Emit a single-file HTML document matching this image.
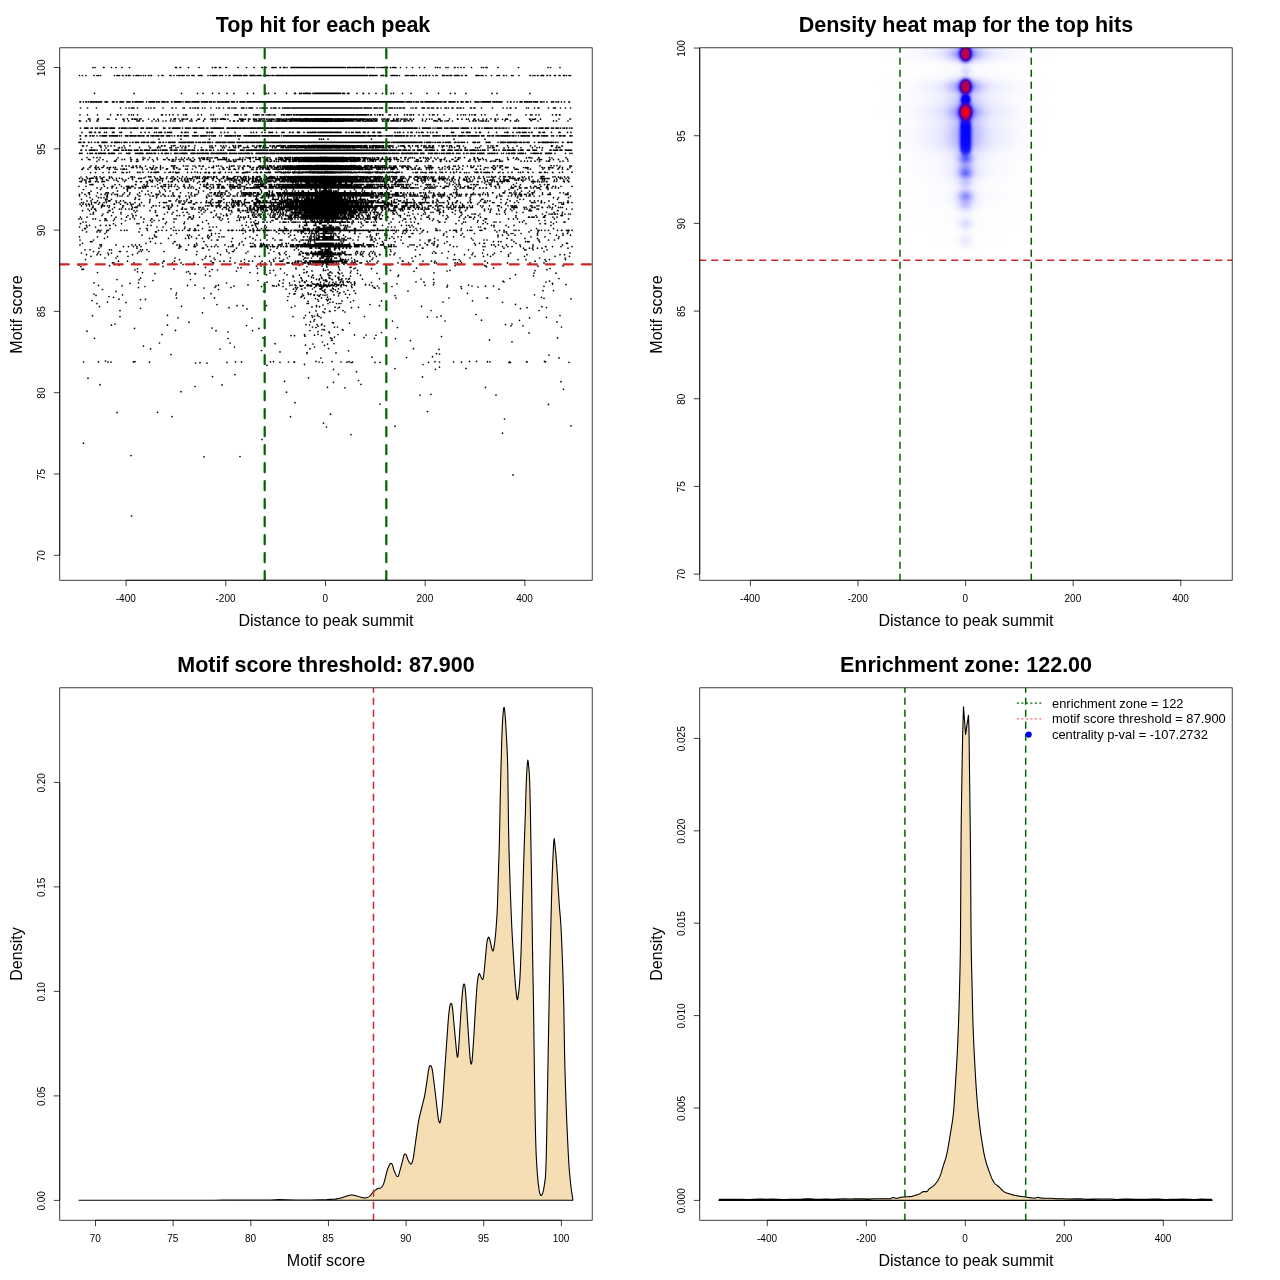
<!DOCTYPE html>
<html><head><meta charset="utf-8"><title>Motif enrichment plots</title>
<style>
html,body{margin:0;padding:0;background:#fff;}
body{width:1280px;height:1280px;overflow:hidden;font-family:"Liberation Sans",sans-serif;}
svg{display:block;will-change:transform;}
svg text{fill:#000;}
</style></head>
<body>
<svg width="1280" height="1280" viewBox="0 0 1280 1280">
<rect width="1280" height="1280" fill="#fff"/>
<defs><clipPath id="cp1"><rect x="59.76" y="47.81" width="532.43" height="532.43"/></clipPath><clipPath id="cp2"><rect x="699.76" y="47.81" width="532.43" height="532.43"/></clipPath><clipPath id="cp3"><rect x="59.76" y="687.81" width="532.43" height="532.43"/></clipPath><clipPath id="cp4"><rect x="699.76" y="687.81" width="532.43" height="532.43"/></clipPath></defs>
<path d="M93 67.5h0M95 67.5h0M103.5 67.5h0.5M111.5 67.5h0M116 67.5h0M122 67.5h0M129.5 67.5h0M175.5 67.5h1M180 67.5h0.5M188.5 67.5h0M199 67.5h0M212.5 67.5h0M215 67.5h1M219.5 67.5h1M226 67.5h0.5M238 67.5h0M246.5 67.5h0M254 67.5h0M262 67.5h0.5M265 67.5h1M272 67.5h1M274.5 67.5h0M276 67.5h0M280 67.5h0.5M283.5 67.5h1.5M287 67.5h0M291 67.5h18.5M311 67.5h32.5M345 67.5h0.5M347.5 67.5h3M352 67.5h1M354.5 67.5h3.5M359.5 67.5h5M367 67.5h2.5M371 67.5h0.5M373 67.5h0M374.5 67.5h0M377 67.5h0M379 67.5h0M381 67.5h0M382.5 67.5h0M384 67.5h1M387.5 67.5h0M390.5 67.5h0M392.5 67.5h2M396 67.5h0M400.5 67.5h0M406.5 67.5h0M412.5 67.5h0M419.5 67.5h0M424.5 67.5h0M435.5 67.5h0M437.5 67.5h0M440 67.5h0M446 67.5h0M448 67.5h0M454.5 67.5h0.5M458 67.5h0M461 67.5h0M464 67.5h0M471.5 67.5h0M481.5 67.5h0M483.5 67.5h0M486 67.5h1M498 67.5h0M518.5 67.5h0M548 67.5h0M550.5 67.5h0M560 67.5h0M79.5 75.5h0M82.5 75.5h0M86 75.5h0M94 75.5h0M97 75.5h0M98.5 75.5h0M100.5 75.5h0M114.5 75.5h0M117 75.5h1M119.5 75.5h0M122.5 75.5h0.5M126 75.5h0.5M128.5 75.5h1.5M133.5 75.5h0M136 75.5h1M138.5 75.5h0.5M141 75.5h0M143.5 75.5h0M145.5 75.5h0M148.5 75.5h0.5M151 75.5h0.5M158.5 75.5h0M162 75.5h1M170 75.5h1M174 75.5h0M177 75.5h0M179 75.5h1M182 75.5h0.5M184 75.5h0M187 75.5h0M189 75.5h0M192 75.5h2M198.5 75.5h0M200 75.5h2M208 75.5h0M210.5 75.5h0M212.5 75.5h0.5M214.5 75.5h0.5M216.5 75.5h0.5M219.5 75.5h0M221 75.5h0M222.5 75.5h0M226 75.5h0M229 75.5h1M233.5 75.5h4M239 75.5h2.5M243.5 75.5h3.5M250 75.5h5M257 75.5h0M258.5 75.5h2.5M263.5 75.5h5M270 75.5h0M272 75.5h0.5M274 75.5h0M276 75.5h8.5M286 75.5h6M293.5 75.5h74M369.5 75.5h4M375 75.5h2M381 75.5h2.5M385.5 75.5h1M391 75.5h3.5M396 75.5h0M397.5 75.5h0M399.5 75.5h0M405.5 75.5h1.5M408.5 75.5h0M410.5 75.5h0M412 75.5h0M413.5 75.5h1M416.5 75.5h0M420 75.5h0.5M423 75.5h0.5M425.5 75.5h1M429 75.5h0.5M433 75.5h0M436 75.5h1M442.5 75.5h2M446.5 75.5h0M448 75.5h0M450 75.5h1.5M454.5 75.5h0M456 75.5h3M461.5 75.5h0.5M465.5 75.5h1M476 75.5h3M481 75.5h0M482.5 75.5h0.5M486 75.5h0M491.5 75.5h0M497 75.5h0M498.5 75.5h1M503.5 75.5h0.5M506.5 75.5h0M511.5 75.5h0M513 75.5h0M519 75.5h0M530 75.5h0.5M533 75.5h0M535 75.5h0M537.5 75.5h0.5M541 75.5h2.5M547 75.5h0.5M550 75.5h0.5M554.5 75.5h1M559 75.5h1M563.5 75.5h1M566.5 75.5h0M569 75.5h0M570.5 75.5h0M94.5 93.4h0M134 93.4h0M181.5 93.4h0M197.5 93.4h0M203 93.4h0M212.5 93.4h0M219 93.4h0M227 93.4h0M234 93.4h0M247.5 93.4h0M253.5 93.4h0M266 93.4h0M268.5 93.4h0M275 93.4h0M286.5 93.4h0M294.5 93.4h1M299.5 93.4h0M301 93.4h0.5M303.5 93.4h0M305 93.4h3.5M310 93.4h0.5M313 93.4h1M315.5 93.4h25M342.5 93.4h2M347.5 93.4h1.5M357 93.4h0M363 93.4h0.5M369 93.4h0M376 93.4h0M382.5 93.4h0M391 93.4h0M393.5 93.4h0M402.5 93.4h0M411 93.4h0M427 93.4h0M438.5 93.4h0M450.5 93.4h0M455 93.4h0M466 93.4h0M492 93.4h0M497 93.4h0M530 93.4h0M80 101.9h0.5M83.5 101.9h0M86 101.9h0.5M88.5 101.9h0M90.5 101.9h2.5M94.5 101.9h0M96 101.9h1M98.5 101.9h0M100 101.9h1.5M105 101.9h0M106.5 101.9h1M112.5 101.9h1.5M116.5 101.9h0.5M120 101.9h2M123.5 101.9h0M127 101.9h1.5M130 101.9h0M132.5 101.9h0.5M135 101.9h3M139.5 101.9h2M143 101.9h0M146.5 101.9h0M149 101.9h5.5M156.5 101.9h0M158 101.9h1.5M162 101.9h3M167 101.9h1M171.5 101.9h0.5M174.5 101.9h6.5M183 101.9h0M185.5 101.9h3M190 101.9h0M192 101.9h0.5M194 101.9h5M201.5 101.9h0.5M203.5 101.9h4M209.5 101.9h2M213.5 101.9h0M215 101.9h0M217.5 101.9h0M219 101.9h0.5M221 101.9h0M222.5 101.9h1M225 101.9h4M231.5 101.9h3M237 101.9h0.5M240 101.9h5M247 101.9h157M406 101.9h0M407.5 101.9h4M413.5 101.9h0.5M416 101.9h1M418.5 101.9h0M421 101.9h2M425 101.9h11M437.5 101.9h0M439 101.9h0M440.5 101.9h0M442 101.9h0M444 101.9h2M449 101.9h2M452.5 101.9h1M455 101.9h0M457.5 101.9h0.5M461 101.9h2M466 101.9h2M470.5 101.9h0M475 101.9h1M477.5 101.9h0M479 101.9h0M481 101.9h0M482.5 101.9h8M493 101.9h2M496.5 101.9h1M499 101.9h1.5M502 101.9h0M507.5 101.9h0M510.5 101.9h0.5M514 101.9h0M517 101.9h0M520 101.9h2M524.5 101.9h3.5M529.5 101.9h2M533.5 101.9h0M535 101.9h2.5M540.5 101.9h0M542 101.9h0M544 101.9h0M547 101.9h0M551.5 101.9h0M553 101.9h0.5M556 101.9h0M558 101.9h0.5M561.5 101.9h0M564.5 101.9h0M569 101.9h0.5M80.5 108h0M87.5 108h0M96.5 108h0M120.5 108h0M126 108h0M129 108h0M131.5 108h1M134 108h0M137.5 108h0M146 108h0M148.5 108h0M151 108h0M154 108h0.5M163 108h0M172 108h0.5M176 108h0M183 108h0M184.5 108h0M190 108h0.5M193 108h0M195 108h0.5M197.5 108h1M202.5 108h0M205 108h0M211 108h0M216.5 108h0M219 108h0.5M223.5 108h0M228 108h0M229.5 108h0M232 108h0M234 108h0M235.5 108h0.5M241.5 108h2.5M246.5 108h0M249 108h3.5M257 108h0M260 108h0M262 108h2.5M266.5 108h0.5M271 108h0.5M273.5 108h2.5M279 108h0.5M282.5 108h0M284 108h5.5M291 108h0M292.5 108h59.5M353.5 108h1M356 108h2.5M360 108h2M364 108h4.5M370 108h1.5M374 108h3.5M379.5 108h0M381 108h1.5M389 108h3.5M394.5 108h0.5M397 108h0.5M399.5 108h1.5M403 108h1.5M411 108h0M413 108h0M415.5 108h1M422 108h2.5M427.5 108h0M429 108h0M431.5 108h0M433 108h0.5M437 108h1M441 108h0M445 108h0M446.5 108h0M448.5 108h0M452 108h1M457 108h1M460 108h1M463.5 108h0M470.5 108h1M474 108h1M481.5 108h0M492.5 108h0M503 108h0M507 108h0M510 108h1M515.5 108h0.5M526.5 108h0M528.5 108h0M534.5 108h0M538 108h1M548.5 108h0M553.5 108h2M560.5 108h0M565.5 108h0M570.5 108h0M80 114.8h0M87.5 114.8h0M97.5 114.8h0M110.5 114.8h0M117.5 114.8h0.5M121 114.8h0M129 114.8h0M131.5 114.8h0M133.5 114.8h0M137.5 114.8h0M161.5 114.8h1M166 114.8h0M169.5 114.8h0M173 114.8h0M178 114.8h0M183.5 114.8h0M185.5 114.8h1M198 114.8h0M201.5 114.8h0M211 114.8h0M213.5 114.8h0M225.5 114.8h0M228 114.8h0M234.5 114.8h3.5M241 114.8h0M245 114.8h0M246.5 114.8h0M253.5 114.8h0M255.5 114.8h2M259 114.8h0M262 114.8h0M263.5 114.8h0M266 114.8h0M268 114.8h2M272 114.8h0M274 114.8h1M281.5 114.8h0.5M283.5 114.8h1M286.5 114.8h3.5M291.5 114.8h0M293.5 114.8h1M296 114.8h2M299.5 114.8h55M356 114.8h11M368.5 114.8h0M370.5 114.8h1M375 114.8h0M377.5 114.8h0M379.5 114.8h1M382.5 114.8h0.5M389 114.8h0M390.5 114.8h0M395 114.8h0M397.5 114.8h0M404.5 114.8h0M407 114.8h0.5M410 114.8h0M411.5 114.8h0M413.5 114.8h0M419 114.8h0M423.5 114.8h0M429.5 114.8h0M432.5 114.8h0M434 114.8h0M437.5 114.8h0M444 114.8h0M457.5 114.8h0M461 114.8h0M463.5 114.8h0M465.5 114.8h0M469.5 114.8h0M472 114.8h0M474.5 114.8h1M481.5 114.8h0M485 114.8h0M497 114.8h0M508.5 114.8h0M510.5 114.8h0M526 114.8h0M530.5 114.8h0M532 114.8h0M536 114.8h0M539 114.8h0M552.5 114.8h0M556 114.8h0.5M559.5 114.8h0.5M320.5 118.6h0M293 118.7h0M299.5 118.7h0M306 118.7h0M315.5 118.7h0M127.5 118.8h0M141 118.8h0M259 118.8h0M263 118.8h0M277 118.8h0M290.5 118.8h0M304.5 118.8h0M308.5 118.8h0M313 118.8h0M315.5 118.8h0M317 118.8h6.5M325.5 118.8h0.5M328 118.8h3.5M339 118.8h0.5M363.5 118.8h0M449.5 118.8h0M88.5 118.9h0M132 118.9h0M174.5 118.9h1M187.5 118.9h0M217.5 118.9h0M222.5 118.9h1.5M239.5 118.9h0M253.5 118.9h0M264.5 118.9h0M278.5 118.9h0M280 118.9h0M286.5 118.9h0M291.5 118.9h0M295.5 118.9h1M304 118.9h0M307 118.9h1.5M310 118.9h0M311.5 118.9h1.5M314.5 118.9h18M335.5 118.9h0M337 118.9h1.5M343 118.9h0.5M345.5 118.9h0M351 118.9h0M361 118.9h0M373.5 118.9h0M385 118.9h0M398.5 118.9h0M404 118.9h0M457.5 118.9h0M491 118.9h0M97.5 119h0M109 119h0M124 119h0M148.5 119h0M171 119h0M179 119h0M184 119h0M198 119h0M204.5 119h0M212.5 119h0M242 119h0M249 119h0M261 119h0.5M271.5 119h1M276 119h0M279 119h2.5M285 119h0M287 119h0M288.5 119h0M290.5 119h1M294.5 119h0M296 119h1.5M299.5 119h0M301.5 119h0M303 119h4M308.5 119h42.5M352.5 119h2.5M357.5 119h0.5M361.5 119h0.5M364 119h0M369.5 119h1M375 119h2M383.5 119h0M389 119h0M401 119h0M404.5 119h0M411 119h0M422.5 119h0M438.5 119h0M491 119h0M495.5 119h0M506.5 119h0M535.5 119h0M559 119h0M570 119h0.5M90 119.1h0M98.5 119.1h0M116 119.1h0M132 119.1h0M135.5 119.1h0M139.5 119.1h0M171 119.1h0M174 119.1h0M183 119.1h0M186 119.1h0M191.5 119.1h0M205 119.1h0M211 119.1h0M215 119.1h0.5M220.5 119.1h1M228 119.1h0M245.5 119.1h0M248.5 119.1h0M250 119.1h0M259.5 119.1h0M261 119.1h0M266.5 119.1h0M268 119.1h0M270 119.1h0M278 119.1h1M281 119.1h0M286 119.1h1M288.5 119.1h0M290.5 119.1h0.5M295.5 119.1h0.5M298 119.1h53M352.5 119.1h4.5M359 119.1h4M365 119.1h0M367.5 119.1h0M371.5 119.1h0.5M376.5 119.1h0.5M382 119.1h0M393.5 119.1h0.5M396.5 119.1h1M402 119.1h0M405.5 119.1h0M407 119.1h0M410 119.1h0.5M426.5 119.1h0M429.5 119.1h0M432 119.1h0M439 119.1h1M468.5 119.1h0M475 119.1h0M483 119.1h0M498 119.1h0M507 119.1h0M529.5 119.1h0M535 119.1h0M107.5 119.2h0M116 119.2h0M132.5 119.2h0M134.5 119.2h0M137 119.2h0M154 119.2h0M158 119.2h0M182 119.2h0M198 119.2h0M199.5 119.2h0M213 119.2h0M224.5 119.2h0M240.5 119.2h0M242.5 119.2h0M254.5 119.2h0M256.5 119.2h0M272 119.2h0M274 119.2h0M279 119.2h0.5M283.5 119.2h0M286 119.2h0M288.5 119.2h0M290 119.2h0M291.5 119.2h0M294 119.2h0M295.5 119.2h5.5M302.5 119.2h0.5M304.5 119.2h45M351 119.2h1.5M355.5 119.2h2M360.5 119.2h4M366.5 119.2h0M369 119.2h0M374.5 119.2h0M387 119.2h1M402 119.2h0M413.5 119.2h0M458 119.2h0M462 119.2h0M466.5 119.2h0M474 119.2h0M486.5 119.2h0M495 119.2h0M505.5 119.2h0M507.5 119.2h0M530 119.2h0M532.5 119.2h0M540.5 119.2h0M123 119.3h0M224 119.3h0M225.5 119.3h0M241.5 119.3h0M244 119.3h0M253.5 119.3h0M255.5 119.3h0M259.5 119.3h0M269.5 119.3h0M282.5 119.3h0M289.5 119.3h0M292.5 119.3h0M300.5 119.3h0M303.5 119.3h0M305.5 119.3h0M308.5 119.3h0M310 119.3h26.5M338 119.3h1M340.5 119.3h0M343.5 119.3h0.5M348.5 119.3h0M356 119.3h0M360 119.3h2M368 119.3h0M438.5 119.3h0M478.5 119.3h0M502.5 119.3h0M517 119.3h0M530 119.3h0M533 119.3h0M534.5 119.3h0M191.5 119.4h0M241.5 119.4h0M294 119.4h0M303.5 119.4h0M309.5 119.4h0M316 119.4h0M318 119.4h0M320.5 119.4h0M322 119.4h1M324.5 119.4h0M328.5 119.4h3M335.5 119.4h0M350.5 119.4h0M440 119.4h0M310 119.5h0M328 119.5h0M271 120.5h0M324.5 120.5h0M196.5 120.6h0M295 120.6h0M298.5 120.6h0M314 120.6h0M317.5 120.6h0M320 120.6h0M322 120.6h1M325 120.6h4.5M331.5 120.6h0M351.5 120.6h0M359 120.6h0M408 120.6h0M531 120.6h0M295.5 120.7h0M298 120.7h1.5M301.5 120.7h0M303 120.7h0M309.5 120.7h0M311.5 120.7h29.5M344.5 120.7h0M347.5 120.7h0M351 120.7h0M362.5 120.7h0M386 120.7h0M393.5 120.7h0M422.5 120.7h0M435 120.7h0M448.5 120.7h0M473.5 120.7h0M505 120.7h0M510.5 120.7h0M531.5 120.7h0M139.5 120.8h0M170.5 120.8h0M180 120.8h0M182.5 120.8h0M203.5 120.8h0M230 120.8h0M243 120.8h0M254 120.8h0M260 120.8h0.5M272 120.8h0M278 120.8h0.5M281 120.8h0M282.5 120.8h1.5M289.5 120.8h2.5M294 120.8h1M298 120.8h2M301.5 120.8h1M304 120.8h0.5M306.5 120.8h6M314 120.8h0M315.5 120.8h25M342 120.8h3.5M347.5 120.8h5.5M356 120.8h0M357.5 120.8h3M362.5 120.8h1M368 120.8h0.5M370.5 120.8h2M388.5 120.8h0M393 120.8h0M400.5 120.8h0M404 120.8h0M409 120.8h0M434 120.8h0M447 120.8h0M475.5 120.8h0M479 120.8h0M483.5 120.8h0M495 120.8h0M510.5 120.8h0M518.5 120.8h0M79.5 120.9h0M90 120.9h0M97 120.9h0M124 120.9h0M128.5 120.9h0M137 120.9h0M143 120.9h0M158.5 120.9h0M166 120.9h0M190 120.9h0M234.5 120.9h0M238 120.9h0M241 120.9h0M242.5 120.9h0.5M248.5 120.9h0M256.5 120.9h0M258.5 120.9h0M270.5 120.9h0M276 120.9h0M278.5 120.9h1M282 120.9h0M283.5 120.9h3.5M290.5 120.9h2M294.5 120.9h0M296.5 120.9h1M299 120.9h1M301.5 120.9h1.5M304.5 120.9h45M351 120.9h0M353.5 120.9h0.5M356 120.9h0M357.5 120.9h0M363.5 120.9h0M366.5 120.9h0.5M368.5 120.9h0.5M371.5 120.9h1M375 120.9h2M382.5 120.9h0M387.5 120.9h0M391 120.9h0M392.5 120.9h0M395 120.9h0M396.5 120.9h0M404 120.9h0M411.5 120.9h0.5M436 120.9h0M440.5 120.9h0M442 120.9h0M473 120.9h0.5M476 120.9h0M481 120.9h0M515 120.9h0M553.5 120.9h0M556.5 120.9h0M80.5 121h0M98 121h0M138.5 121h0M152 121h0M156 121h0M163 121h0M173 121h0M175 121h0M180.5 121h0M203.5 121h0M212.5 121h0M215.5 121h0M241 121h0M255 121h0M257 121h0M260.5 121h0M262.5 121h1M267 121h1.5M270 121h0M281 121h2.5M286 121h0M291 121h1M296 121h0M301.5 121h43.5M348.5 121h0M350 121h1M354 121h0M356 121h2.5M360 121h0.5M365 121h0M369 121h1M371.5 121h0M397.5 121h1M405 121h1M437.5 121h0M445 121h0M452.5 121h0M469.5 121h0M473 121h0M482.5 121h0M485.5 121h1M488.5 121h0M496 121h0M516.5 121h0M538 121h0M568 121h0M86.5 121.1h0M192 121.1h0M233.5 121.1h0M237.5 121.1h0M267 121.1h0M269 121.1h0M274 121.1h0M276.5 121.1h0M279.5 121.1h0M283 121.1h0M285.5 121.1h0M287 121.1h0M289 121.1h0M291 121.1h0M301 121.1h2M305.5 121.1h1M308 121.1h0.5M312 121.1h0M314 121.1h2M317.5 121.1h2M321 121.1h11.5M334 121.1h7M343.5 121.1h0M370 121.1h0M373.5 121.1h0M384 121.1h0M425.5 121.1h0M271.5 121.2h0M277.5 121.2h0M310 121.2h0M312.5 121.2h0M318.5 121.2h1.5M326.5 121.2h0.5M328.5 121.2h2.5M335 121.2h1M342.5 121.2h0M365 121.2h0M323.5 121.3h0M326 121.4h0M80.5 128.1h0M84.5 128.1h3.5M91 128.1h0M92.5 128.1h0M95.5 128.1h0M97 128.1h0.5M100 128.1h0.5M102 128.1h6M110 128.1h4.5M119 128.1h0.5M121.5 128.1h1.5M124.5 128.1h1M127 128.1h0M129 128.1h0M130.5 128.1h0M132 128.1h0M133.5 128.1h2.5M137.5 128.1h0.5M141 128.1h2.5M146.5 128.1h1M149 128.1h3M154.5 128.1h2M158 128.1h0M163.5 128.1h1.5M169 128.1h1M172.5 128.1h7.5M182.5 128.1h0M185.5 128.1h1.5M188.5 128.1h0.5M190.5 128.1h0M193 128.1h4M198.5 128.1h0M200 128.1h4M206.5 128.1h1.5M211 128.1h0.5M213 128.1h8M222.5 128.1h1M227 128.1h3M231.5 128.1h6M239 128.1h2M242.5 128.1h3.5M247.5 128.1h0.5M249.5 128.1h6M257 128.1h12M270.5 128.1h2M274 128.1h106.5M382 128.1h16.5M400 128.1h0.5M402 128.1h11M414.5 128.1h2.5M419.5 128.1h0M422.5 128.1h8M433 128.1h0M435 128.1h0M437 128.1h4.5M444.5 128.1h0M446 128.1h2M450 128.1h0M451.5 128.1h1.5M454.5 128.1h2M458 128.1h0.5M461 128.1h0M462.5 128.1h3M467 128.1h1.5M471.5 128.1h0M474.5 128.1h1M478.5 128.1h1M482 128.1h0M484.5 128.1h4.5M490.5 128.1h0.5M492.5 128.1h0M495 128.1h2M499 128.1h1M502 128.1h0M503.5 128.1h0.5M506 128.1h0.5M509 128.1h0M513.5 128.1h2.5M518 128.1h2M521.5 128.1h5.5M529 128.1h1M534.5 128.1h0M536.5 128.1h0M539 128.1h0M540.5 128.1h2.5M545.5 128.1h3M551.5 128.1h0M553 128.1h0.5M556 128.1h1M558.5 128.1h0M560.5 128.1h0M563 128.1h0M564.5 128.1h0M566.5 128.1h0.5M569.5 128.1h0M571.5 128.1h0.5M82 132.4h0M89.5 132.4h2M95 132.4h0.5M99 132.4h1M104.5 132.4h0M106.5 132.4h0M112.5 132.4h1.5M120 132.4h0M121.5 132.4h0M131 132.4h0M141 132.4h0M145 132.4h0M149 132.4h0M154.5 132.4h0M156.5 132.4h0M159 132.4h0M160.5 132.4h1M165 132.4h0M167.5 132.4h0M169 132.4h0M170.5 132.4h1M181.5 132.4h0.5M185 132.4h1M188 132.4h0M194.5 132.4h0M196 132.4h0M207 132.4h0.5M209.5 132.4h0M211.5 132.4h1M221 132.4h0M224.5 132.4h0M228 132.4h0M235 132.4h0M251 132.4h0M253.5 132.4h0M256.5 132.4h0M262 132.4h0M265 132.4h0M269 132.4h0.5M271 132.4h0M272.5 132.4h0M276.5 132.4h0M282 132.4h0.5M284 132.4h0M289.5 132.4h0.5M292.5 132.4h0.5M297.5 132.4h2M304 132.4h0M307.5 132.4h0M309 132.4h0M310.5 132.4h0M312 132.4h4M318 132.4h1M320.5 132.4h12.5M334.5 132.4h4.5M340.5 132.4h0.5M346 132.4h0.5M349 132.4h0M351.5 132.4h0M353 132.4h0M356 132.4h1.5M359 132.4h1M363.5 132.4h1.5M368 132.4h0.5M373 132.4h1.5M378 132.4h0M379.5 132.4h1M395 132.4h0M397.5 132.4h0M399.5 132.4h0.5M403.5 132.4h0M408 132.4h0M411 132.4h1M416.5 132.4h0M419 132.4h0M421.5 132.4h0M423 132.4h0M427.5 132.4h0M430.5 132.4h0M433 132.4h0M436.5 132.4h0.5M451.5 132.4h0M453 132.4h0.5M462 132.4h0M463.5 132.4h0M466.5 132.4h1M469 132.4h1M476 132.4h0M479.5 132.4h1M488.5 132.4h0M496.5 132.4h0M505 132.4h0M507 132.4h1M513 132.4h0M517 132.4h0M519 132.4h1M522.5 132.4h0M524 132.4h0.5M526 132.4h0M529 132.4h0M531.5 132.4h0.5M539 132.4h1M543 132.4h0M544.5 132.4h0M551.5 132.4h0M559 132.4h1M567.5 132.4h0M571 132.4h0M80 135.8h0.5M85.5 135.8h1M90 135.8h0.5M92.5 135.8h0M94 135.8h0M97 135.8h0M100 135.8h0M102 135.8h4.5M109.5 135.8h0.5M111.5 135.8h6M119.5 135.8h0M121.5 135.8h0M125.5 135.8h2.5M130 135.8h2.5M134 135.8h2M138 135.8h2M141.5 135.8h0M143 135.8h1M147 135.8h1.5M151 135.8h0M152.5 135.8h1M155 135.8h0M156.5 135.8h2.5M161 135.8h2.5M166.5 135.8h3.5M172 135.8h0M174.5 135.8h0M177.5 135.8h1M180.5 135.8h1M184 135.8h3M188.5 135.8h0M192.5 135.8h0M194 135.8h2M197.5 135.8h0.5M200.5 135.8h5M207 135.8h0M209 135.8h0.5M211.5 135.8h0M213 135.8h2.5M219.5 135.8h0M221.5 135.8h0M225 135.8h7M233.5 135.8h0M235 135.8h0.5M237.5 135.8h3M244 135.8h0M245.5 135.8h1M248 135.8h8.5M258 135.8h2M262 135.8h7M270.5 135.8h9M281.5 135.8h0M283.5 135.8h81.5M366.5 135.8h0M368 135.8h3M372.5 135.8h3.5M378 135.8h4M384 135.8h0M386 135.8h1.5M389 135.8h1M391.5 135.8h1M394.5 135.8h7.5M403.5 135.8h1M406.5 135.8h1.5M410.5 135.8h0M412 135.8h0M414.5 135.8h0.5M418.5 135.8h0M420 135.8h0M422.5 135.8h1M425 135.8h0M426.5 135.8h1.5M429.5 135.8h0M433 135.8h1.5M436 135.8h1M438.5 135.8h0M440 135.8h0M442.5 135.8h2M446.5 135.8h1.5M449.5 135.8h0.5M452 135.8h1.5M455 135.8h1M458.5 135.8h4.5M464.5 135.8h0.5M467 135.8h0M468.5 135.8h1M471 135.8h5.5M478 135.8h1M481.5 135.8h2.5M487.5 135.8h0M489 135.8h1M492 135.8h1.5M496 135.8h0M497.5 135.8h1M500 135.8h0M501.5 135.8h6M509 135.8h1M512 135.8h2M516 135.8h0M518.5 135.8h0M521 135.8h4.5M527 135.8h2.5M533 135.8h2M537 135.8h2M541.5 135.8h0M543 135.8h2M546.5 135.8h1M551.5 135.8h0M553 135.8h0.5M557 135.8h0M559.5 135.8h1.5M563 135.8h2M570 135.8h0.5M572 135.8h0M80.5 139.2h0M159 139.2h0M181 139.2h0M209.5 139.2h0M239 139.2h0M319.5 139.2h0M321.5 139.2h0M323.5 139.2h0M328 139.2h0M371.5 139.2h0M454 139.2h0M485 139.2h0M79 142.3h2M83.5 142.3h1M88.5 142.3h0.5M91.5 142.3h0M95 142.3h0M97.5 142.3h1M102 142.3h3.5M107 142.3h0M111.5 142.3h0.5M114.5 142.3h3.5M119.5 142.3h0M121.5 142.3h0M124 142.3h1.5M127 142.3h0M130 142.3h0M132.5 142.3h0.5M135.5 142.3h1.5M138.5 142.3h0M141.5 142.3h0M143 142.3h2M147 142.3h1.5M151 142.3h4M159 142.3h1.5M163 142.3h0.5M166 142.3h0M168.5 142.3h2.5M172.5 142.3h2.5M179 142.3h0M180.5 142.3h5.5M187.5 142.3h6M196 142.3h0.5M198.5 142.3h0M200 142.3h0.5M202.5 142.3h0.5M204.5 142.3h1M207.5 142.3h3M212.5 142.3h0M216 142.3h5M222.5 142.3h3.5M228 142.3h6.5M237 142.3h3M241.5 142.3h2M245 142.3h4M250.5 142.3h4M256 142.3h14M271.5 142.3h112.5M385.5 142.3h4M391.5 142.3h0M393 142.3h2M396.5 142.3h21M419 142.3h3M424.5 142.3h0M426.5 142.3h4.5M433 142.3h0M435 142.3h0.5M437.5 142.3h0M439 142.3h1.5M443 142.3h0.5M445.5 142.3h1M448 142.3h2.5M454.5 142.3h1.5M458 142.3h1M461 142.3h0.5M463 142.3h0M464.5 142.3h0M467.5 142.3h0M473 142.3h2.5M477.5 142.3h0M479 142.3h0.5M486 142.3h1M488.5 142.3h1.5M498 142.3h0M500.5 142.3h3.5M505.5 142.3h0M507.5 142.3h4M513 142.3h4M519 142.3h0M520.5 142.3h1M523.5 142.3h0M525 142.3h0M527 142.3h2M534.5 142.3h0M538.5 142.3h0M540 142.3h0M542 142.3h6.5M550 142.3h2M553.5 142.3h0M555.5 142.3h0.5M558 142.3h0M562.5 142.3h0.5M567.5 142.3h1.5M571 142.3h1M324.5 145.4h0M316 145.5h0M175 145.6h0M195 145.6h0M314 145.6h0M315.5 145.6h0M317 145.6h0.5M320 145.6h1M324 145.6h2M329.5 145.6h0M331.5 145.6h1.5M334.5 145.6h0M336 145.6h0M346 145.6h0M366 145.6h0M99.5 145.7h0.5M105 145.7h0M233 145.7h0M240.5 145.7h0M261 145.7h0M280 145.7h0.5M290.5 145.7h0M292 145.7h0M294 145.7h0M297 145.7h0M304 145.7h0M305.5 145.7h0M308.5 145.7h1M311.5 145.7h19M332 145.7h6.5M340 145.7h1M342.5 145.7h1M345 145.7h0.5M348 145.7h0.5M361.5 145.7h0M364.5 145.7h0.5M373.5 145.7h0M376 145.7h0M421.5 145.7h0M430 145.7h0M87 145.8h0M114.5 145.8h0M130 145.8h0M162 145.8h0M165 145.8h0M173.5 145.8h0M215.5 145.8h0M240.5 145.8h0.5M259 145.8h0M263.5 145.8h0M265.5 145.8h0M277.5 145.8h0.5M279.5 145.8h0M284 145.8h0.5M288 145.8h0M290 145.8h0M291.5 145.8h0M297 145.8h2.5M301.5 145.8h2M305 145.8h1M307.5 145.8h34.5M343.5 145.8h6.5M353.5 145.8h1M358 145.8h1M363 145.8h0M369.5 145.8h0M372.5 145.8h0M376 145.8h1M378.5 145.8h0M382 145.8h0M383.5 145.8h0M386 145.8h1M389.5 145.8h0M391 145.8h0M404 145.8h0M412.5 145.8h0M433 145.8h0.5M439 145.8h0M442 145.8h0M449.5 145.8h0M457.5 145.8h0M459.5 145.8h0M481 145.8h0M491 145.8h0M507.5 145.8h0M552.5 145.8h0M557 145.8h0M82.5 145.9h0M111 145.9h0M124 145.9h0M161.5 145.9h0M164.5 145.9h0M171.5 145.9h0M180.5 145.9h0M189 145.9h0M210 145.9h0M212 145.9h0M221 145.9h0M223.5 145.9h0M226 145.9h0M233.5 145.9h0M235.5 145.9h0M238.5 145.9h1M252.5 145.9h0M257 145.9h0M259.5 145.9h0M264 145.9h0M270.5 145.9h0M273 145.9h0.5M279 145.9h0.5M281.5 145.9h0M283 145.9h1M285.5 145.9h0M288.5 145.9h0M290 145.9h0.5M292.5 145.9h3.5M300.5 145.9h0M302.5 145.9h3.5M307.5 145.9h32.5M341.5 145.9h7M351 145.9h3.5M356 145.9h1.5M360.5 145.9h0M366.5 145.9h0.5M375 145.9h0M379.5 145.9h1M382.5 145.9h0M390 145.9h0M393 145.9h0M401 145.9h0M402.5 145.9h1M408.5 145.9h1M417 145.9h1M424 145.9h0.5M429 145.9h0.5M433 145.9h0M443.5 145.9h0.5M447 145.9h0M451 145.9h0.5M488 145.9h0M493 145.9h0M496.5 145.9h1M517 145.9h0M530.5 145.9h0M551.5 145.9h0M562 145.9h0M83.5 146h0M108 146h0M149 146h0M158.5 146h0M183 146h0M188.5 146h0M223.5 146h0M226 146h0M247.5 146h0M252.5 146h0M254 146h0M260 146h1M265 146h0M270 146h0M277.5 146h0M279 146h0M282.5 146h0M288 146h0M289.5 146h0M292 146h3M299 146h1M302.5 146h0.5M304.5 146h1.5M308 146h0.5M310 146h0M311.5 146h27.5M341.5 146h3M346.5 146h1.5M350 146h0.5M352 146h1M356.5 146h1.5M359.5 146h0M365 146h2M371.5 146h0M373.5 146h0M386 146h0M391.5 146h0M398.5 146h0M400.5 146h0M404.5 146h0M409.5 146h0M415.5 146h0M426 146h0M457 146h0M458.5 146h0M463.5 146h0M535 146h0M562.5 146h0M101 146.1h0M185.5 146.1h0M210 146.1h0M265 146.1h0M272.5 146.1h0M274.5 146.1h0M301.5 146.1h0.5M305.5 146.1h0M307.5 146.1h0M310 146.1h0M311.5 146.1h0.5M313.5 146.1h0M316 146.1h0.5M318 146.1h17.5M337 146.1h2.5M343 146.1h0M345.5 146.1h0.5M350 146.1h0M352 146.1h0M357 146.1h0M361.5 146.1h0M370.5 146.1h0M378.5 146.1h0M388 146.1h0M403 146.1h0M432.5 146.1h0M459 146.1h0.5M276.5 146.2h0M302 146.2h0M308 146.2h0M316.5 146.2h1M319.5 146.2h2.5M324 146.2h0M327.5 146.2h3.5M332.5 146.2h0M335 146.2h0.5M354 146.2h0M358.5 146.2h0M372.5 146.2h0M377 146.2h0M551.5 146.2h0M345.5 146.3h0M559 147.1h0M313 147.2h0M317.5 147.2h0M320 147.2h0M322 147.2h0M326.5 147.2h1.5M272.5 147.3h0M286.5 147.3h0M307.5 147.3h0M314.5 147.3h0M318 147.3h5M324.5 147.3h5.5M331.5 147.3h1M336 147.3h0M349.5 147.3h0M352 147.3h0M355.5 147.3h0M364 147.3h1M373 147.3h0M380 147.3h0M452 147.3h0M479.5 147.3h0M139.5 147.4h0M210 147.4h0M212.5 147.4h0M229.5 147.4h0M260 147.4h0M286 147.4h0M289.5 147.4h0M295.5 147.4h0M309.5 147.4h0.5M311.5 147.4h0M313 147.4h0M318.5 147.4h13.5M333.5 147.4h0M335.5 147.4h0.5M338 147.4h5M344.5 147.4h0M359.5 147.4h0M370.5 147.4h0M389 147.4h0M404.5 147.4h0M424 147.4h0M442.5 147.4h0M454.5 147.4h0M539.5 147.4h0M91.5 147.5h0M101 147.5h0M158 147.5h0M178 147.5h0M201.5 147.5h0M222.5 147.5h0M247 147.5h0M248.5 147.5h0M256 147.5h0M276 147.5h0M281 147.5h0M285.5 147.5h0M290.5 147.5h0M293 147.5h0M295 147.5h0.5M298.5 147.5h0M300.5 147.5h0M302 147.5h1.5M308 147.5h5M315 147.5h19.5M336 147.5h3M340.5 147.5h0.5M343 147.5h1.5M346 147.5h0M349 147.5h0.5M351 147.5h0M356.5 147.5h0M358.5 147.5h0M360.5 147.5h0M364 147.5h2.5M369.5 147.5h0M376 147.5h1M383 147.5h1M393 147.5h0M410.5 147.5h0M430 147.5h1.5M465.5 147.5h0M475.5 147.5h0M490 147.5h0M119.5 147.6h0M150.5 147.6h0M160 147.6h0M186 147.6h0M212 147.6h0M234 147.6h0M238.5 147.6h0M245 147.6h0M255 147.6h0M256.5 147.6h0M263.5 147.6h0M266.5 147.6h0M268 147.6h0M272.5 147.6h0M282 147.6h1M285.5 147.6h0M287.5 147.6h0.5M290.5 147.6h1M293.5 147.6h0M300 147.6h0M303 147.6h0M304.5 147.6h0M307 147.6h35M346.5 147.6h0.5M348.5 147.6h2M352.5 147.6h1M360.5 147.6h0M367 147.6h0.5M372.5 147.6h0M375.5 147.6h0.5M377.5 147.6h0M379 147.6h0M381.5 147.6h0M393 147.6h0M396.5 147.6h0M418 147.6h0M426 147.6h0M428 147.6h0M508.5 147.6h0M521 147.6h0M537 147.6h0M556 147.6h0.5M558.5 147.6h0M560 147.6h0M122 147.7h0M157.5 147.7h0M170 147.7h0M212 147.7h1M224.5 147.7h0M235.5 147.7h0M243.5 147.7h0M263 147.7h0M283.5 147.7h0M286.5 147.7h1M293.5 147.7h0M298 147.7h0M301 147.7h0M305 147.7h3.5M310 147.7h6.5M318 147.7h21M341 147.7h3M346.5 147.7h2.5M350.5 147.7h0M357 147.7h0M361.5 147.7h0M363 147.7h1M367 147.7h0M369.5 147.7h0M371 147.7h0M378 147.7h0M383 147.7h1M405 147.7h0M426.5 147.7h0M432.5 147.7h1M449.5 147.7h0M492.5 147.7h0M494 147.7h0M513 147.7h0M532.5 147.7h0M125 147.8h0M150 147.8h0M176 147.8h0M182 147.8h0M185 147.8h0M194.5 147.8h0M222.5 147.8h0M275 147.8h0M288.5 147.8h0M296.5 147.8h0M304.5 147.8h2.5M308.5 147.8h0M311 147.8h0.5M313 147.8h1M317 147.8h0M318.5 147.8h12M335.5 147.8h5M343.5 147.8h0M347 147.8h0M348.5 147.8h0M350.5 147.8h0M353 147.8h0.5M366.5 147.8h1M372.5 147.8h0M477.5 147.8h0M542.5 147.8h0M106 147.9h0M171.5 147.9h0M297 147.9h0M310 147.9h0M314.5 147.9h0M317.5 147.9h0M319.5 147.9h10M331.5 147.9h0M335.5 147.9h1M340 147.9h0M345 147.9h0M348 147.9h0M350 147.9h0M354.5 147.9h0M373 147.9h0.5M376 147.9h0M390 147.9h0M459.5 147.9h0M465 147.9h0M488 147.9h0M504 147.9h0M118.5 148h0M309 148h0M318 148h1M353 148h0M324 148.1h0M81 150.2h0.5M86 150.2h0M89.5 150.2h0M91 150.2h1.5M94 150.2h1M97 150.2h0M101.5 150.2h0M104.5 150.2h0M108 150.2h0.5M114 150.2h3M118.5 150.2h0M122 150.2h0M123.5 150.2h0M125.5 150.2h1M128.5 150.2h0M130 150.2h0M131.5 150.2h0M134.5 150.2h0M136 150.2h2M140.5 150.2h0M142 150.2h0M144.5 150.2h2M148 150.2h0M149.5 150.2h0M152 150.2h0M153.5 150.2h0M155 150.2h1.5M158.5 150.2h0M160.5 150.2h0M162.5 150.2h1.5M165.5 150.2h1.5M170.5 150.2h1.5M174 150.2h0M175.5 150.2h1.5M180 150.2h0M182 150.2h0M184 150.2h2M188 150.2h2M192 150.2h1M194.5 150.2h0M198 150.2h0M201 150.2h2.5M206 150.2h1M209.5 150.2h0M211 150.2h0M213.5 150.2h0M218 150.2h0M220.5 150.2h1M223.5 150.2h0M228 150.2h0.5M230 150.2h3.5M235 150.2h0M240.5 150.2h2M244 150.2h0M246.5 150.2h0M248 150.2h8.5M258 150.2h7M266.5 150.2h1M269.5 150.2h4.5M275.5 150.2h94.5M371.5 150.2h8M381 150.2h7M390 150.2h3M394.5 150.2h1.5M398 150.2h3M403 150.2h3.5M408.5 150.2h0M410 150.2h0M413 150.2h0M414.5 150.2h0M417.5 150.2h4M425.5 150.2h1.5M429 150.2h4M434.5 150.2h0M437.5 150.2h0M442 150.2h2.5M448 150.2h1M450.5 150.2h1.5M455 150.2h0M456.5 150.2h2M460.5 150.2h1M465 150.2h2.5M470 150.2h0M471.5 150.2h3M476 150.2h0M478 150.2h0.5M480.5 150.2h0M482.5 150.2h0.5M484.5 150.2h0.5M488 150.2h0M493.5 150.2h1M496.5 150.2h0M499 150.2h0M503 150.2h0.5M505 150.2h0.5M507.5 150.2h2M511 150.2h0M512.5 150.2h2.5M518.5 150.2h0M520.5 150.2h2.5M527.5 150.2h0M529 150.2h0.5M533 150.2h0M534.5 150.2h0M536 150.2h0.5M542 150.2h0M550 150.2h1M553.5 150.2h0M555 150.2h0M556.5 150.2h1M560 150.2h2M565.5 150.2h0M567 150.2h0M568.5 150.2h0M570 150.2h0M571.5 150.2h0M79.5 153.3h0.5M81.5 153.3h0.5M87.5 153.3h0M90 153.3h1M92.5 153.3h0M95.5 153.3h1M98.5 153.3h3.5M103.5 153.3h2M108.5 153.3h1M111 153.3h3.5M119 153.3h0M121 153.3h0M126.5 153.3h0M128 153.3h2M135.5 153.3h0M137 153.3h0.5M139 153.3h4M146.5 153.3h1.5M149.5 153.3h0.5M151.5 153.3h0.5M154 153.3h1.5M158.5 153.3h0M161.5 153.3h1M165 153.3h2M168.5 153.3h0M171 153.3h0M174.5 153.3h2M178 153.3h0M180 153.3h0M181.5 153.3h5.5M191 153.3h4M197 153.3h1M199.5 153.3h0M201 153.3h3M205.5 153.3h3M211 153.3h3.5M216 153.3h11M229.5 153.3h1.5M232.5 153.3h0M234 153.3h0.5M236 153.3h0.5M238.5 153.3h0.5M240.5 153.3h1.5M243.5 153.3h0M245 153.3h4.5M251.5 153.3h1M256 153.3h12.5M270 153.3h5M276.5 153.3h2.5M280.5 153.3h106.5M388.5 153.3h1M391 153.3h0M392.5 153.3h2M396 153.3h1.5M399 153.3h0M401.5 153.3h2.5M405.5 153.3h7M414 153.3h4M420.5 153.3h3.5M428.5 153.3h0.5M430.5 153.3h2M434.5 153.3h3M439.5 153.3h0M441.5 153.3h0.5M443.5 153.3h1M446.5 153.3h4M452.5 153.3h1M456.5 153.3h0M458 153.3h0.5M460 153.3h0M463.5 153.3h0.5M466.5 153.3h0M468 153.3h0M470.5 153.3h1.5M473.5 153.3h0M475 153.3h0M477.5 153.3h0M479 153.3h5M488 153.3h0M489.5 153.3h0.5M491.5 153.3h1M494 153.3h1M497 153.3h0.5M501.5 153.3h0M503.5 153.3h0M506.5 153.3h0M508.5 153.3h1M511.5 153.3h3.5M518 153.3h0M519.5 153.3h4M525.5 153.3h0M531 153.3h0M533 153.3h3.5M538 153.3h0.5M540.5 153.3h1M545.5 153.3h6M555 153.3h0M565.5 153.3h0M570 153.3h0M572 153.3h0M321 157.2h0M333 157.3h0M343.5 157.3h0M176 157.4h0M322.5 157.4h0M324 157.4h2M327.5 157.4h0M93.5 157.5h0M204 157.5h0M279.5 157.5h0.5M306 157.5h1M309 157.5h2M312.5 157.5h0M318 157.5h1M321 157.5h0M323 157.5h1.5M326 157.5h3.5M331.5 157.5h1.5M339 157.5h2M350.5 157.5h0M354.5 157.5h0M87 157.6h0M143 157.6h0M223 157.6h0M246 157.6h0M256 157.6h0M263 157.6h0M281 157.6h0M292.5 157.6h0M295 157.6h0M296.5 157.6h1M303 157.6h0M304.5 157.6h1M309 157.6h1.5M313.5 157.6h3M318.5 157.6h14M334 157.6h0.5M336 157.6h3.5M341 157.6h0M343 157.6h0M347 157.6h0M351.5 157.6h0M353 157.6h0.5M377 157.6h0M394 157.6h0M401 157.6h0M406 157.6h0M455.5 157.6h0M464.5 157.6h0M549.5 157.6h0M97 157.7h0M100 157.7h0M130.5 157.7h0M149.5 157.7h0M208 157.7h0M216.5 157.7h0M253 157.7h0M255.5 157.7h0M285 157.7h1M288 157.7h0M289.5 157.7h1M295 157.7h0M299 157.7h0.5M301 157.7h1M304.5 157.7h0.5M307 157.7h4.5M313.5 157.7h5M320 157.7h17.5M339 157.7h0M340.5 157.7h3M345 157.7h0.5M349.5 157.7h1M352 157.7h1M355 157.7h0M358.5 157.7h0M362 157.7h0M364 157.7h0M366 157.7h0M372.5 157.7h0M382.5 157.7h0M396.5 157.7h0M405 157.7h0M410.5 157.7h0M412.5 157.7h0M423.5 157.7h0M431 157.7h0M474 157.7h0M529 157.7h1M539 157.7h0M566 157.7h0M118 157.8h0M167 157.8h0M181.5 157.8h0M193 157.8h0M201.5 157.8h0M203.5 157.8h0M207 157.8h0M215 157.8h0M217.5 157.8h0M224.5 157.8h0M226.5 157.8h0M240 157.8h0M243 157.8h0M259 157.8h0.5M267 157.8h1M270 157.8h0M284.5 157.8h1.5M287.5 157.8h1M292.5 157.8h0.5M294.5 157.8h0.5M298.5 157.8h1.5M302.5 157.8h2M306 157.8h1.5M309.5 157.8h1.5M312.5 157.8h22M336 157.8h0M337.5 157.8h0M339 157.8h2.5M343.5 157.8h0M345 157.8h0M346.5 157.8h1.5M350 157.8h1M353 157.8h3M357.5 157.8h2.5M362.5 157.8h0M374.5 157.8h0M386.5 157.8h0.5M390.5 157.8h0M396 157.8h0M405 157.8h0M420 157.8h0M458.5 157.8h0M460 157.8h0M507.5 157.8h0M157 157.9h0M184.5 157.9h0M188.5 157.9h0M199 157.9h0M210 157.9h0M212 157.9h0M240 157.9h0M248 157.9h0M249.5 157.9h1M260.5 157.9h0M281.5 157.9h0M287.5 157.9h0M296.5 157.9h0M298.5 157.9h1M303.5 157.9h2M307 157.9h0M308.5 157.9h0M310.5 157.9h0M312 157.9h0M313.5 157.9h29M345 157.9h0M347.5 157.9h0M350 157.9h0M357.5 157.9h0M359.5 157.9h0M364 157.9h1M370 157.9h0M378 157.9h0M394 157.9h0M401 157.9h0M420.5 157.9h0M425.5 157.9h0M427.5 157.9h0M438 157.9h0M445 157.9h0M458.5 157.9h0M474.5 157.9h0M477.5 157.9h0M513.5 157.9h0M517 157.9h0M526.5 157.9h0M532 157.9h0M538.5 157.9h0M145 158h0M202 158h0M204.5 158h0M276 158h0M278.5 158h0M281 158h0M282.5 158h0M284.5 158h0M303.5 158h0M306 158h0M308.5 158h0M310 158h0M313.5 158h0.5M315.5 158h18.5M337.5 158h0M340 158h0M344 158h0M345.5 158h0.5M349 158h0M355 158h1M379 158h0M389.5 158h0M409 158h0M414.5 158h0M428 158h0M434.5 158h0M552 158h0M167 158.1h0M286.5 158.1h0.5M307 158.1h0M317.5 158.1h0.5M319.5 158.1h0M321.5 158.1h0M323.5 158.1h5M334.5 158.1h0M337 158.1h0M339 158.1h0.5M342.5 158.1h0M345 158.1h0M348 158.1h0M368.5 158.1h0M482.5 158.1h0M295.5 158.2h0M318.5 158.2h0M322 158.2h0M367 158.2h0M322 158.3h0M318 159.1h0M320.5 159.1h0M324.5 159.1h0.5M327 159.1h0.5M329.5 159.1h0M334.5 159.1h0M339 159.1h0M341 159.1h0M200 159.2h0M270 159.2h0M305 159.2h0M310 159.2h0M315 159.2h0M317 159.2h2M321 159.2h1M323.5 159.2h12.5M337.5 159.2h0M339.5 159.2h1M371.5 159.2h0M381.5 159.2h0M383 159.2h0M429 159.2h0M518.5 159.2h0M567.5 159.2h0M88.5 159.3h0M137.5 159.3h0M172.5 159.3h0M176 159.3h0M187 159.3h0M204.5 159.3h0M222.5 159.3h0M229 159.3h0M250 159.3h0M257.5 159.3h0M260 159.3h0M276.5 159.3h0M282 159.3h0M288 159.3h1M290.5 159.3h0M294 159.3h0M299 159.3h1.5M305 159.3h0M307.5 159.3h0M311.5 159.3h0M313 159.3h0.5M315.5 159.3h1.5M318.5 159.3h17.5M338 159.3h0M339.5 159.3h1M342 159.3h1.5M345 159.3h1M349 159.3h0M352.5 159.3h2M357 159.3h0M360 159.3h0M367.5 159.3h0M370.5 159.3h0M389 159.3h0M396.5 159.3h0M398 159.3h0M453 159.3h0M474.5 159.3h0M478.5 159.3h0.5M480.5 159.3h0M516 159.3h0M82 159.4h0M124.5 159.4h0M137 159.4h0M143.5 159.4h0M179 159.4h0M190 159.4h0.5M203 159.4h0M207 159.4h0M220.5 159.4h0M226.5 159.4h0M238 159.4h0M240 159.4h0M265.5 159.4h0.5M276 159.4h0M280 159.4h0M286.5 159.4h0.5M293.5 159.4h0M297 159.4h1.5M302.5 159.4h2.5M308 159.4h29M338.5 159.4h3.5M344 159.4h3.5M350.5 159.4h1M355 159.4h0M359 159.4h0.5M363.5 159.4h0M370 159.4h2M373.5 159.4h2M387.5 159.4h0.5M391 159.4h0M394.5 159.4h0M408 159.4h0M426.5 159.4h0M436 159.4h0M441.5 159.4h0M452 159.4h0M458.5 159.4h0M470 159.4h0M558.5 159.4h0M131 159.5h0M152.5 159.5h0M163.5 159.5h0M168.5 159.5h0M173.5 159.5h0M183 159.5h0M187.5 159.5h0M208 159.5h0M219 159.5h0M224 159.5h1M226.5 159.5h0M229 159.5h0M233.5 159.5h0M238.5 159.5h0M256 159.5h0M259 159.5h0M266.5 159.5h0M271 159.5h0M278.5 159.5h0M286 159.5h2M289.5 159.5h0M292.5 159.5h0.5M295 159.5h0M298 159.5h0M299.5 159.5h2M303.5 159.5h0M305 159.5h1M308.5 159.5h32M342 159.5h3M346.5 159.5h0.5M349 159.5h0M351 159.5h4.5M358.5 159.5h0.5M360.5 159.5h0M364.5 159.5h0M371.5 159.5h0M373.5 159.5h0M378.5 159.5h0M381.5 159.5h0M387 159.5h0M390.5 159.5h0M397.5 159.5h1M426.5 159.5h0M444 159.5h0.5M457.5 159.5h0M486 159.5h0M496 159.5h0M497.5 159.5h0M508.5 159.5h0M539.5 159.5h0M103 159.6h0M122 159.6h0M131.5 159.6h0M157.5 159.6h0M165 159.6h0M173.5 159.6h0M181 159.6h0M183 159.6h0M218 159.6h0.5M222 159.6h0M225.5 159.6h1M236 159.6h0M242 159.6h0.5M245 159.6h0M264.5 159.6h0M266.5 159.6h0M280 159.6h0M283 159.6h0M285.5 159.6h1M292.5 159.6h0M294.5 159.6h1.5M298.5 159.6h0M300 159.6h0.5M303.5 159.6h3M308 159.6h0M310 159.6h23.5M335 159.6h7.5M344 159.6h3M351.5 159.6h0M356 159.6h0M357.5 159.6h2M364 159.6h0M369.5 159.6h1M377 159.6h0M381 159.6h0M385 159.6h1M416.5 159.6h0M444.5 159.6h0M483.5 159.6h0M499.5 159.6h0M508 159.6h0M518.5 159.6h0M540 159.6h0M541.5 159.6h0M550 159.6h0M553.5 159.6h0M90 159.7h0M116.5 159.7h0M143 159.7h0M148 159.7h0M194.5 159.7h0M218 159.7h0M260 159.7h0M281.5 159.7h0.5M293.5 159.7h0M303 159.7h0M305.5 159.7h1.5M309.5 159.7h2M313 159.7h19M333.5 159.7h2M338.5 159.7h0M340.5 159.7h0.5M345 159.7h0M347 159.7h0M348.5 159.7h1M351.5 159.7h0M356 159.7h0M365 159.7h0M405 159.7h0M418 159.7h0M440 159.7h0M474 159.7h0M537.5 159.7h0M99 159.8h0M267.5 159.8h0M297 159.8h1.5M302.5 159.8h0M306.5 159.8h0M316 159.8h6M323.5 159.8h8.5M335 159.8h0M337 159.8h0M339.5 159.8h0M341 159.8h1.5M344 159.8h0M350.5 159.8h0M354.5 159.8h0M370 159.8h1M169.5 159.9h0M210 159.9h0M301 159.9h0M312.5 159.9h0M320.5 159.9h2M324 159.9h0M356 159.9h0M190 160h0M327 160h0M346 160.7h0M310 160.8h0M323.5 160.8h0M328.5 160.8h0.5M340.5 160.8h0M281.5 160.9h0M305 160.9h0M309 160.9h0.5M311.5 160.9h0M315.5 160.9h1.5M318.5 160.9h2.5M322.5 160.9h0M324.5 160.9h4M330 160.9h0M335 160.9h0M340.5 160.9h0M346 160.9h0M352 160.9h0M175 161h0M200 161h0.5M230 161h0M266 161h0M302 161h1M306 161h0M308.5 161h0M310.5 161h1M313.5 161h0M316 161h3M320.5 161h13M335.5 161h0M337 161h0M341 161h0M344 161h0M345.5 161h0M351.5 161h0M355.5 161h0M357.5 161h1M364 161h0M385.5 161h0M427.5 161h0.5M449.5 161h0M486.5 161h0M492 161h0M502.5 161h0M546.5 161h0M184 161.1h0M192 161.1h0M229 161.1h0M236 161.1h0M274 161.1h0M283.5 161.1h1.5M289 161.1h1M294.5 161.1h0M296.5 161.1h0M306 161.1h0M308 161.1h6.5M316 161.1h21M338.5 161.1h2M342 161.1h0M346 161.1h0M347.5 161.1h0M350 161.1h1M352.5 161.1h1M358 161.1h0M360 161.1h0M372 161.1h0M375.5 161.1h0M380 161.1h0M420.5 161.1h0M441 161.1h0M449.5 161.1h0M468.5 161.1h0M470 161.1h0M479 161.1h0M494 161.1h0M500.5 161.1h0M524.5 161.1h0M549.5 161.1h0M568 161.1h0M114.5 161.2h1M131 161.2h0M138 161.2h0M153.5 161.2h0M172 161.2h0M191.5 161.2h0.5M233.5 161.2h0M268 161.2h0M271.5 161.2h0M274.5 161.2h0M292.5 161.2h0.5M295.5 161.2h0M298.5 161.2h0.5M301 161.2h4M307 161.2h27.5M336 161.2h3.5M341 161.2h4.5M347 161.2h0M350.5 161.2h3M355.5 161.2h0M357 161.2h0M362.5 161.2h0M368 161.2h0M372.5 161.2h1M380.5 161.2h0M385 161.2h1M390.5 161.2h0M401 161.2h0M416.5 161.2h0M421.5 161.2h0M433 161.2h0M446.5 161.2h0M455 161.2h0M456.5 161.2h0M495.5 161.2h0M521 161.2h0M527.5 161.2h0M531 161.2h0M535 161.2h0M548.5 161.2h0M563 161.2h0M107 161.3h0M173 161.3h0M180 161.3h0M193.5 161.3h0M210 161.3h0M213.5 161.3h0M229 161.3h0M231 161.3h0M235.5 161.3h0M242.5 161.3h0M254 161.3h0M260.5 161.3h0M276.5 161.3h0M284 161.3h0M286 161.3h0M289 161.3h1.5M296.5 161.3h0M298.5 161.3h1M302 161.3h0M304.5 161.3h0M308.5 161.3h3M313 161.3h23.5M338 161.3h2M341.5 161.3h3M346 161.3h0M347.5 161.3h0.5M350 161.3h0M351.5 161.3h0M353.5 161.3h0M355 161.3h0M365 161.3h0M370 161.3h0M389.5 161.3h0M398 161.3h0M408 161.3h0M415 161.3h0M417 161.3h0M418.5 161.3h0M450 161.3h0M490.5 161.3h0M499.5 161.3h0M501 161.3h0M97 161.4h0M136.5 161.4h0M209.5 161.4h0M227 161.4h0M234.5 161.4h0M250.5 161.4h0M254 161.4h0M264 161.4h0M270 161.4h0M278.5 161.4h0M293.5 161.4h0M298.5 161.4h0M300 161.4h0M301.5 161.4h0M304 161.4h0M307.5 161.4h0.5M310.5 161.4h2M314.5 161.4h0.5M316.5 161.4h0M318 161.4h14M333.5 161.4h0M335.5 161.4h0M337.5 161.4h0M340 161.4h0.5M343 161.4h1M352 161.4h0M373.5 161.4h0M389.5 161.4h0M425.5 161.4h0M440.5 161.4h0M475.5 161.4h0M539.5 161.4h0M560 161.4h0M304 161.5h0M306.5 161.5h0M310.5 161.5h1M318 161.5h0M319.5 161.5h0M321 161.5h1M323.5 161.5h1.5M326.5 161.5h4M332 161.5h1M354 161.5h0M403 161.5h0M433 161.5h0M324 161.6h0M331.5 161.6h0M303.5 165.6h0M323.5 165.6h0M325 165.6h2.5M333 165.6h0M338.5 165.6h0M355 165.6h0.5M298.5 165.7h0M306.5 165.7h0M309 165.7h1M311.5 165.7h0M315.5 165.7h3.5M320.5 165.7h8M330 165.7h0M331.5 165.7h0.5M334 165.7h0M336.5 165.7h2M351 165.7h1M353.5 165.7h0M384 165.7h0M428.5 165.7h0M551 165.7h0M557 165.7h0M104 165.8h0M122 165.8h0M153.5 165.8h0M172.5 165.8h0M175 165.8h0M199 165.8h0M274 165.8h0M285 165.8h0M291 165.8h0M294.5 165.8h0M300 165.8h2M305.5 165.8h0.5M310.5 165.8h0M312 165.8h0M314 165.8h20.5M336 165.8h1M338.5 165.8h5M345.5 165.8h0M347 165.8h0M348.5 165.8h0M353 165.8h1.5M359.5 165.8h0M367 165.8h0M368.5 165.8h0M371 165.8h0M375 165.8h0M379 165.8h0M384 165.8h0M385.5 165.8h0M416.5 165.8h0M458.5 165.8h0M494.5 165.8h0M500 165.8h0M502.5 165.8h0M554 165.8h0M91 165.9h0M96 165.9h0M126 165.9h0M129 165.9h0M136.5 165.9h0M160.5 165.9h0M171.5 165.9h0M183.5 165.9h0M188 165.9h0M218.5 165.9h0M234 165.9h0M244 165.9h0M247.5 165.9h0M259.5 165.9h0M263 165.9h0M264.5 165.9h0M269.5 165.9h1M284 165.9h0M287.5 165.9h1M290 165.9h0.5M292.5 165.9h0M297 165.9h0M299.5 165.9h1M302 165.9h1M304.5 165.9h6M312 165.9h26M339.5 165.9h1M342.5 165.9h1M346 165.9h0.5M348.5 165.9h2M352 165.9h0M353.5 165.9h0M355.5 165.9h0M365.5 165.9h1M368 165.9h0M371.5 165.9h0.5M375 165.9h1M382 165.9h0M385.5 165.9h0M400 165.9h0M403 165.9h0M431 165.9h0M463 165.9h0M471 165.9h0M480.5 165.9h0M493.5 165.9h0M497.5 165.9h0M540 165.9h0M570 165.9h0M104 166h0M122.5 166h0M133 166h0M140 166h0.5M186 166h0M195 166h0M200 166h0M203.5 166h0M221 166h0M233 166h0M238 166h0M240 166h0M248.5 166h0M264 166h0M267 166h0M271.5 166h0M279 166h1M282 166h3M286.5 166h0M288.5 166h3M293 166h0M296 166h0M297.5 166h0M300.5 166h0M302 166h1.5M305 166h2.5M309 166h1M311.5 166h0M313.5 166h30M345 166h0M347 166h0.5M351.5 166h0M353.5 166h0M359 166h2M364.5 166h0M366 166h0M367.5 166h1M370 166h0M376 166h1M381.5 166h0M389.5 166h0M395 166h1M405 166h0M407.5 166h1M425 166h0M430 166h0M455.5 166h0M463 166h0M474 166h0M478 166h0M501.5 166h0M560 166h0M136 166.1h0M145.5 166.1h0M174 166.1h0M193 166.1h0M216.5 166.1h0M229.5 166.1h0M231.5 166.1h0M244 166.1h0.5M259 166.1h2M263 166.1h0M267.5 166.1h0M277.5 166.1h0M279 166.1h0M280.5 166.1h0M288.5 166.1h0M299 166.1h1M301.5 166.1h2.5M306 166.1h0.5M308 166.1h1.5M311.5 166.1h29M342 166.1h6M351.5 166.1h0.5M353.5 166.1h1M356 166.1h0M357.5 166.1h1M360 166.1h0.5M366 166.1h0M368.5 166.1h0M370 166.1h0M371.5 166.1h0M378 166.1h1M380.5 166.1h0M391 166.1h0M393.5 166.1h0M404.5 166.1h1M453.5 166.1h0M467.5 166.1h0M560 166.1h0M571.5 166.1h0M213.5 166.2h0M273.5 166.2h0M284.5 166.2h0M286 166.2h0M300 166.2h1.5M304 166.2h0M306.5 166.2h0M309.5 166.2h1M314 166.2h20.5M336 166.2h2M339.5 166.2h3.5M345 166.2h0M353 166.2h0M366 166.2h0M367.5 166.2h0M402 166.2h0M449 166.2h0M250 166.3h0M270 166.3h0M301.5 166.3h1M305.5 166.3h0M311 166.3h0M316 166.3h1.5M319 166.3h0M320.5 166.3h1.5M323.5 166.3h2.5M327.5 166.3h3.5M334 166.3h1.5M360 166.3h0M382.5 166.3h0M409.5 166.3h0M455 166.3h0M202.5 166.4h0M298 166.4h0M308 166.4h0M320 166.4h2.5M326 166.4h0M328 166.4h0M331 166.4h0M333.5 166.4h0M402 166.4h0M445 166.4h0M339.5 167.1h0M343.5 167.1h0M133.5 167.2h0M294.5 167.2h0M303.5 167.2h0M321.5 167.2h0.5M324.5 167.2h0.5M327 167.2h0M328.5 167.2h0.5M335 167.2h1M358.5 167.2h0M98.5 167.3h0M103 167.3h0M113.5 167.3h0M209 167.3h0M222.5 167.3h0M250.5 167.3h0M278.5 167.3h0M286.5 167.3h0M288 167.3h0M300.5 167.3h0M302 167.3h0M303.5 167.3h0M307 167.3h0M312.5 167.3h0M315 167.3h0M316.5 167.3h5.5M323.5 167.3h5.5M330.5 167.3h0.5M332.5 167.3h0M334.5 167.3h0.5M339.5 167.3h0M341 167.3h1.5M344 167.3h0.5M346 167.3h0M347.5 167.3h0M352.5 167.3h0M356 167.3h0M366 167.3h0M429.5 167.3h0M473 167.3h0M508 167.3h0M89.5 167.4h0M110.5 167.4h0M115.5 167.4h0M227 167.4h0M258 167.4h0M276 167.4h0M289 167.4h0M290.5 167.4h0M293 167.4h0M301.5 167.4h0.5M304 167.4h1.5M307.5 167.4h3.5M312.5 167.4h0M314.5 167.4h19M335 167.4h6M344 167.4h4.5M350.5 167.4h0M353 167.4h1M356.5 167.4h0M373.5 167.4h0M376 167.4h0M386 167.4h0M411 167.4h0M415 167.4h0M447.5 167.4h0M471 167.4h0M505.5 167.4h0.5M90 167.5h0M98 167.5h0M102 167.5h0M113.5 167.5h0M115.5 167.5h0M131.5 167.5h0M140 167.5h0M142 167.5h0M156 167.5h0M196 167.5h0M223 167.5h0M229.5 167.5h0M250 167.5h0M253.5 167.5h0M262 167.5h0M272 167.5h0M276.5 167.5h0M278 167.5h0M280.5 167.5h0M285 167.5h0M287.5 167.5h0M289.5 167.5h0M291.5 167.5h1M294.5 167.5h1M297 167.5h1M301.5 167.5h37M340 167.5h1M342.5 167.5h3.5M348 167.5h3M352.5 167.5h0M354 167.5h0M355.5 167.5h0.5M359.5 167.5h0M366.5 167.5h0M370 167.5h1M375 167.5h1.5M379.5 167.5h0M382 167.5h0M384 167.5h1M396.5 167.5h0M426 167.5h0M429 167.5h0M431 167.5h0M439 167.5h0M459.5 167.5h0M472.5 167.5h0M486 167.5h0M491.5 167.5h0M523.5 167.5h0M542 167.5h0.5M549 167.5h0M562.5 167.5h0M95 167.6h0M98 167.6h0M107.5 167.6h0M133 167.6h0M150 167.6h0.5M153 167.6h0M160.5 167.6h0M173.5 167.6h0M196 167.6h0M212 167.6h0M260.5 167.6h0M262 167.6h0M267.5 167.6h0M274.5 167.6h0M282.5 167.6h1M288.5 167.6h0.5M292 167.6h0M293.5 167.6h0M296 167.6h0.5M298 167.6h3.5M303 167.6h0.5M305 167.6h37.5M344 167.6h1.5M347 167.6h0.5M349.5 167.6h1.5M353 167.6h2.5M357 167.6h4.5M365 167.6h1.5M372 167.6h0M374 167.6h0M378 167.6h0M384.5 167.6h0M387 167.6h0M395.5 167.6h0M402 167.6h0M406.5 167.6h0M410.5 167.6h0M427 167.6h0M433 167.6h0M438.5 167.6h0M442.5 167.6h0M485 167.6h0M492.5 167.6h0M495.5 167.6h0M500 167.6h0M505.5 167.6h0M514 167.6h0M528 167.6h0M550 167.6h0M559.5 167.6h0M137 167.7h0M142 167.7h0M157 167.7h0M174 167.7h0M176.5 167.7h0M213.5 167.7h0M242.5 167.7h0.5M253 167.7h0M257 167.7h0M260.5 167.7h0M264 167.7h0M265.5 167.7h0M267.5 167.7h1M271.5 167.7h0M283.5 167.7h0.5M290.5 167.7h0M294.5 167.7h0M296 167.7h0.5M300 167.7h0M301.5 167.7h0M304.5 167.7h44M350 167.7h0.5M357 167.7h0M359.5 167.7h0.5M362.5 167.7h2.5M381 167.7h0M385.5 167.7h0M389 167.7h0M390.5 167.7h0.5M392.5 167.7h0M394 167.7h1.5M403 167.7h0M408 167.7h0M419.5 167.7h0M432.5 167.7h0M449.5 167.7h0M488 167.7h0M500.5 167.7h0M507 167.7h0M525.5 167.7h0M527 167.7h0M548.5 167.7h0M550 167.7h0M552 167.7h0M570 167.7h0M109.5 167.8h0M160.5 167.8h0M163 167.8h0M173.5 167.8h0M239 167.8h0M260 167.8h0M263.5 167.8h0M268 167.8h0M271 167.8h0M284.5 167.8h0M287 167.8h1M289.5 167.8h2M293.5 167.8h1M296.5 167.8h0M301 167.8h0M303 167.8h0.5M306 167.8h0M307.5 167.8h2M311 167.8h26M339.5 167.8h0M342 167.8h2.5M347 167.8h0.5M353.5 167.8h0M356 167.8h0M368 167.8h0M371.5 167.8h0M374 167.8h0M376 167.8h0M383 167.8h0M526.5 167.8h0M544.5 167.8h0M553 167.8h0M559 167.8h0M83.5 167.9h0M96 167.9h0M177 167.9h0M291 167.9h0M298 167.9h0.5M305 167.9h1M313 167.9h0M314.5 167.9h0M318 167.9h17M338 167.9h0.5M348 167.9h0M355 167.9h1M392 167.9h0M394.5 167.9h0M428.5 167.9h0M431.5 167.9h0M107 168h0M285.5 168h0M318 168h0M322.5 168h1M325 168h0M328 168h0M330 168h0M348 168h0M386 168h0M321.5 168.1h0M324 168.1h0M325.5 168.1h0M351.5 168.1h0M323 168.7h0M330 168.7h0M167.5 168.8h0M294 168.8h0M300.5 168.8h0M323 168.8h0M327 168.8h0M328.5 168.8h0M166.5 168.9h0M201.5 168.9h0M267 168.9h0M283.5 168.9h0M294 168.9h0M298.5 168.9h0M306 168.9h0M312 168.9h0M314.5 168.9h3M319 168.9h2M323 168.9h3M327.5 168.9h0M331 168.9h0.5M333 168.9h0.5M343.5 168.9h0M348.5 168.9h0M355.5 168.9h0M121 169h0M185.5 169h0M187.5 169h0M192.5 169h0M206 169h0M219.5 169h0M238.5 169h0M263 169h0M266 169h0M273 169h0M295.5 169h0M298.5 169h2M302.5 169h0M304 169h0M307 169h0M308.5 169h0.5M313.5 169h6.5M321.5 169h14.5M337.5 169h1.5M342 169h0M344 169h1M350.5 169h0.5M352.5 169h0M361 169h0M366 169h0M394 169h0M415.5 169h0M431.5 169h0M445 169h0M452.5 169h0M494 169h0M528 169h0M96 169.1h0M151.5 169.1h1M180 169.1h0M223 169.1h0M234.5 169.1h0M262.5 169.1h0M267 169.1h0M274 169.1h0M276.5 169.1h0M278 169.1h0M281.5 169.1h0M283.5 169.1h0M286.5 169.1h0M290.5 169.1h0M292 169.1h1M299.5 169.1h1M303 169.1h1.5M306.5 169.1h1.5M310.5 169.1h0M312 169.1h23M337 169.1h7M347 169.1h0M353.5 169.1h1M357 169.1h0M361 169.1h0M365.5 169.1h1M369.5 169.1h0M371.5 169.1h0M378.5 169.1h1M387.5 169.1h0M392 169.1h0M397.5 169.1h0M413 169.1h0M418 169.1h1M426.5 169.1h0M442 169.1h0M453 169.1h0M462.5 169.1h0M476.5 169.1h0M495 169.1h0M82.5 169.2h0M88 169.2h0M99.5 169.2h0M115 169.2h0M123 169.2h1.5M126.5 169.2h0M147 169.2h0M151.5 169.2h0M155 169.2h0M174 169.2h0M224 169.2h0M229 169.2h0M234 169.2h0M243 169.2h0M260 169.2h0M269 169.2h0M275 169.2h0M280 169.2h0M283 169.2h0M285.5 169.2h0M289 169.2h0.5M291.5 169.2h0M293.5 169.2h1M297 169.2h0M299.5 169.2h0M301 169.2h3.5M307 169.2h1M309.5 169.2h1.5M313.5 169.2h18.5M333.5 169.2h4.5M339.5 169.2h1.5M342.5 169.2h1.5M346 169.2h0M348 169.2h0.5M352.5 169.2h3.5M357.5 169.2h0.5M362.5 169.2h0M367 169.2h0M370 169.2h0M372 169.2h0M377 169.2h0M380.5 169.2h0M393 169.2h0M408.5 169.2h0M415 169.2h0M449 169.2h0M458.5 169.2h0M480.5 169.2h0M493.5 169.2h0M515 169.2h0M516.5 169.2h0M530.5 169.2h0M543 169.2h0M558 169.2h0M562.5 169.2h0M567.5 169.2h0M109 169.3h0.5M117 169.3h0M123 169.3h0M142.5 169.3h0M152 169.3h0M160.5 169.3h0M166.5 169.3h0M179 169.3h0M187 169.3h0M230 169.3h0M257 169.3h0M279 169.3h0M282.5 169.3h0M288.5 169.3h1M294.5 169.3h1M300.5 169.3h0M302 169.3h0M304 169.3h1.5M308.5 169.3h0.5M310.5 169.3h0M313 169.3h2M316.5 169.3h16M334 169.3h6.5M342 169.3h1.5M345.5 169.3h1.5M348.5 169.3h2M352.5 169.3h1.5M357 169.3h0M359 169.3h1.5M365 169.3h0M369.5 169.3h0M378 169.3h0.5M382.5 169.3h0M385 169.3h0M391 169.3h0M407.5 169.3h0M412 169.3h0M421 169.3h0M456.5 169.3h0M476 169.3h0M494 169.3h0M518 169.3h0M568 169.3h0M82 169.4h0M155 169.4h0M235 169.4h0M251.5 169.4h0M253 169.4h0M256.5 169.4h0M267.5 169.4h0M277.5 169.4h0.5M287.5 169.4h0M290 169.4h0M310 169.4h0.5M312.5 169.4h0M314.5 169.4h1.5M317.5 169.4h0M319 169.4h0M320.5 169.4h17M339.5 169.4h1M344.5 169.4h1M347 169.4h0M349 169.4h1M352 169.4h0M360 169.4h0M362.5 169.4h0.5M368.5 169.4h0M392.5 169.4h0M429.5 169.4h0M440 169.4h0M484 169.4h0M502.5 169.4h0M549 169.4h0M96.5 169.5h0M235.5 169.5h0M269.5 169.5h0M277.5 169.5h0M295.5 169.5h0M298 169.5h0M304 169.5h0M305.5 169.5h0M307 169.5h0M311.5 169.5h1M315.5 169.5h1M318 169.5h10M329.5 169.5h2.5M339.5 169.5h0M341.5 169.5h0M352.5 169.5h0M299.5 169.6h0M315 169.6h0M319 169.6h0M321.5 169.6h0M324.5 169.6h0M326.5 169.6h0.5M331 169.6h0M341.5 169.6h0M311 169.7h0M325 171.8h1M348.5 171.8h0M279 171.9h0M294.5 171.9h0M309 171.9h1M312.5 171.9h0M315 171.9h0M318 171.9h0M321.5 171.9h0M325.5 171.9h0.5M327.5 171.9h0M329 171.9h0.5M331.5 171.9h0M333 171.9h0M377 171.9h0M456.5 171.9h0M148.5 172h0M268.5 172h0M290.5 172h0M296 172h0M309.5 172h1M317 172h0M318.5 172h0M320 172h0.5M322.5 172h6.5M330.5 172h2.5M334.5 172h1M343.5 172h0M368.5 172h0M370.5 172h0M381 172h0M398 172h0M440 172h0M500 172h0M129.5 172.1h0M195 172.1h0M220.5 172.1h0M246.5 172.1h0M250 172.1h0M256 172.1h0M268.5 172.1h0.5M275.5 172.1h0M288.5 172.1h0M293 172.1h0M304 172.1h0M305.5 172.1h1.5M309 172.1h0M310.5 172.1h2M314 172.1h5M320.5 172.1h13.5M336.5 172.1h0M339 172.1h0M341.5 172.1h0M344.5 172.1h1M355.5 172.1h0M359.5 172.1h0M362.5 172.1h0M365.5 172.1h0M367 172.1h0M369.5 172.1h0M378 172.1h0M384 172.1h0M453.5 172.1h0M512 172.1h0M115.5 172.2h0M143 172.2h0M155.5 172.2h0M157.5 172.2h1M170.5 172.2h0M173 172.2h0M247.5 172.2h0.5M261 172.2h0M280.5 172.2h0M284 172.2h0M285.5 172.2h0M288.5 172.2h0M298.5 172.2h1.5M302 172.2h2M305.5 172.2h9M316 172.2h22.5M340.5 172.2h0.5M342.5 172.2h0M345.5 172.2h0.5M348.5 172.2h0.5M350.5 172.2h1M355 172.2h0M358 172.2h0M373 172.2h0M375 172.2h0.5M383 172.2h0M389 172.2h0M391 172.2h0M392.5 172.2h0.5M396.5 172.2h0M399.5 172.2h0M432 172.2h0M446 172.2h0M475 172.2h0M477.5 172.2h0M481 172.2h0M487.5 172.2h0M492.5 172.2h0M523 172.2h0M528 172.2h0M562.5 172.2h0M572 172.2h0M122 172.3h0M137.5 172.3h0.5M154 172.3h0M206 172.3h0M220 172.3h0M229 172.3h0M238 172.3h0M246.5 172.3h0M257 172.3h0M270 172.3h0M276 172.3h0M277.5 172.3h0M290 172.3h0M294 172.3h0.5M297 172.3h0M299.5 172.3h0M301.5 172.3h3M306.5 172.3h35M343 172.3h0.5M346 172.3h1M349 172.3h1M352 172.3h0M354 172.3h2M359 172.3h1M361.5 172.3h0M364 172.3h4M370 172.3h1M375 172.3h0.5M389.5 172.3h0M393.5 172.3h0M398.5 172.3h0M415.5 172.3h0M417 172.3h0.5M421 172.3h0M422.5 172.3h0M435.5 172.3h0M460 172.3h0.5M481.5 172.3h0M485.5 172.3h0M487 172.3h1M508 172.3h0M512 172.3h0M518.5 172.3h0M533 172.3h0M544.5 172.3h1M552.5 172.3h0M109 172.4h0M113.5 172.4h0M127 172.4h0M140 172.4h0M151.5 172.4h0M175.5 172.4h0.5M179 172.4h0M187.5 172.4h0M191.5 172.4h0M197.5 172.4h0M209.5 172.4h0M215 172.4h0M225.5 172.4h0M231.5 172.4h0M236.5 172.4h0M246.5 172.4h1M261 172.4h0.5M265 172.4h0M268.5 172.4h0M270 172.4h0.5M280.5 172.4h1M285 172.4h0.5M287 172.4h0.5M292.5 172.4h0M295 172.4h0M297 172.4h1.5M302 172.4h0.5M304 172.4h0M305.5 172.4h38.5M345.5 172.4h2M350.5 172.4h0.5M357.5 172.4h0M359 172.4h0M362.5 172.4h0M365.5 172.4h1M372.5 172.4h0M375.5 172.4h0M379 172.4h0M384.5 172.4h0M386.5 172.4h0M388 172.4h0.5M393 172.4h0M402 172.4h0M426 172.4h0M429.5 172.4h0M442.5 172.4h0M450.5 172.4h0M476.5 172.4h0M478 172.4h0M520.5 172.4h0M539.5 172.4h0M541 172.4h0M103 172.5h0M123.5 172.5h0M126.5 172.5h0M151 172.5h0M156.5 172.5h0M165 172.5h0M169 172.5h0M177.5 172.5h0M218.5 172.5h0M220.5 172.5h0M243.5 172.5h0M254 172.5h0M260.5 172.5h0M269 172.5h0M280.5 172.5h0M283.5 172.5h0.5M289.5 172.5h0M293 172.5h0M296.5 172.5h0M298 172.5h1M300.5 172.5h0M303.5 172.5h4.5M310.5 172.5h30M342.5 172.5h0.5M344.5 172.5h2M348 172.5h2M352 172.5h4M364.5 172.5h0M370.5 172.5h0M372 172.5h0M380.5 172.5h0.5M383 172.5h0.5M387 172.5h0M395 172.5h0M397 172.5h0M413 172.5h0M417 172.5h0M423 172.5h0M425 172.5h1M431 172.5h0M432.5 172.5h0M441.5 172.5h0M469 172.5h0M484 172.5h0M486 172.5h0M488 172.5h0M547.5 172.5h0M559.5 172.5h0M90.5 172.6h0M95.5 172.6h0M122.5 172.6h0M155.5 172.6h0M200.5 172.6h0M205 172.6h0M208.5 172.6h0M245 172.6h0M257.5 172.6h0M266.5 172.6h0M268 172.6h0M281.5 172.6h0M283 172.6h0M285.5 172.6h0M287.5 172.6h0M295.5 172.6h0M298.5 172.6h0M300 172.6h0.5M302 172.6h0M306 172.6h0.5M308 172.6h0M309.5 172.6h1M312 172.6h28.5M342 172.6h0.5M345 172.6h1M348 172.6h1M350.5 172.6h0M352 172.6h1M366 172.6h0M416 172.6h0M464.5 172.6h0M476.5 172.6h0M489.5 172.6h0M498.5 172.6h0M528.5 172.6h0M553 172.6h0M205.5 172.7h0M214 172.7h0M219.5 172.7h0M244 172.7h0M269.5 172.7h0M294 172.7h0M309.5 172.7h1.5M313.5 172.7h1M317 172.7h17.5M342 172.7h0M351 172.7h0M353 172.7h0M356 172.7h0M376 172.7h0M377.5 172.7h0M380 172.7h0M389 172.7h0M436 172.7h0M466.5 172.7h0M503 172.7h0M209.5 172.8h0M213.5 172.8h0M242.5 172.8h0.5M284 172.8h0M289 172.8h0M298 172.8h1.5M302.5 172.8h0M313 172.8h1.5M317 172.8h9M327.5 172.8h6.5M335.5 172.8h0.5M339.5 172.8h0M368 172.8h0.5M381.5 172.8h0M426 172.8h0M454 172.8h0M177 172.9h0M302 172.9h0M314 172.9h0M319 172.9h0M323 172.9h2.5M327 172.9h1M329.5 172.9h1M293.5 173h0M323 173h2M370 173h0M381 173h0M396 173h0M323 176.3h1M320.5 176.4h0M322 176.4h0M323.5 176.4h1.5M327.5 176.4h0M336 176.4h0M347.5 176.4h0M357.5 176.4h0M542.5 176.4h0M227.5 176.5h0M235.5 176.5h0M266 176.5h0M277.5 176.5h0M286.5 176.5h0M301.5 176.5h0M304.5 176.5h0M308.5 176.5h1M313.5 176.5h0.5M316.5 176.5h2M320 176.5h0.5M322 176.5h6M330 176.5h0M333 176.5h1M336 176.5h0M345 176.5h0M356.5 176.5h2M380.5 176.5h0M425 176.5h0M453.5 176.5h0M238 176.6h0M240 176.6h0M244.5 176.6h0M248.5 176.6h0M266.5 176.6h0M271 176.6h1M285 176.6h0M287 176.6h0M288.5 176.6h0M295.5 176.6h0M297 176.6h0M299 176.6h1.5M302 176.6h2M306.5 176.6h0M308.5 176.6h2M312 176.6h1.5M315 176.6h23M340 176.6h2M346 176.6h0M347.5 176.6h0M350 176.6h0M355.5 176.6h0M360.5 176.6h0M374 176.6h0M378 176.6h0M385.5 176.6h0M392.5 176.6h0M395.5 176.6h0M420 176.6h0M479 176.6h0M492 176.6h0M505 176.6h0M541 176.6h0M555 176.6h0M94.5 176.7h0M148.5 176.7h0M160 176.7h0M182.5 176.7h0M195.5 176.7h0M199.5 176.7h0M204 176.7h0M216.5 176.7h0M223.5 176.7h0M245 176.7h0M253.5 176.7h0M259 176.7h1M270 176.7h0M281 176.7h0M284.5 176.7h0M286 176.7h0M291 176.7h0M292.5 176.7h0M294.5 176.7h0M296 176.7h0M297.5 176.7h2.5M302 176.7h47M350.5 176.7h0M352 176.7h0M354 176.7h1M356.5 176.7h0M364.5 176.7h0M367 176.7h0M370.5 176.7h0M375 176.7h0M379 176.7h0M387.5 176.7h0M389.5 176.7h0M391.5 176.7h0M396.5 176.7h0M401.5 176.7h0.5M404 176.7h0M409.5 176.7h0M416.5 176.7h1M424.5 176.7h0M426.5 176.7h0M439.5 176.7h0M444 176.7h0M453.5 176.7h0M467.5 176.7h0M483.5 176.7h0M491.5 176.7h0M495.5 176.7h0M500 176.7h0M503.5 176.7h0M508.5 176.7h0M532 176.7h0M542 176.7h2M555 176.7h0M86.5 176.8h0M96.5 176.8h0M100 176.8h0M132.5 176.8h0M154.5 176.8h0M167 176.8h0M172 176.8h0M173.5 176.8h0M177.5 176.8h0M182.5 176.8h0M186.5 176.8h0M197.5 176.8h0M207.5 176.8h0M213.5 176.8h1M224.5 176.8h0M234 176.8h0M237.5 176.8h0M240.5 176.8h0M245.5 176.8h0M252.5 176.8h0M256.5 176.8h0M258 176.8h0M269.5 176.8h0M274 176.8h0M277.5 176.8h0M280 176.8h0M283 176.8h0M284.5 176.8h2M288 176.8h0M291.5 176.8h0M294.5 176.8h1M297.5 176.8h0M299 176.8h0M300.5 176.8h1M303 176.8h3M309 176.8h38.5M349 176.8h6.5M359 176.8h6M367.5 176.8h0.5M371 176.8h1M380.5 176.8h0M382.5 176.8h0M386 176.8h0M393.5 176.8h0M397 176.8h0M416.5 176.8h0M422.5 176.8h0M431 176.8h0M434 176.8h0M449 176.8h0M465.5 176.8h0M474 176.8h0M479 176.8h0M505.5 176.8h0M513 176.8h0M522 176.8h0M524.5 176.8h0M564.5 176.8h0M109.5 176.9h0M131 176.9h0M150 176.9h1M193 176.9h0M195 176.9h0M197.5 176.9h0M203.5 176.9h0M209 176.9h0M211 176.9h0M214 176.9h0M246 176.9h0M253 176.9h0M272.5 176.9h0M284 176.9h0M287 176.9h0M289 176.9h2M293.5 176.9h0M297 176.9h0.5M299.5 176.9h0.5M301.5 176.9h2.5M306 176.9h36.5M344 176.9h2M347.5 176.9h1M350 176.9h0M355.5 176.9h0M357 176.9h0M360.5 176.9h0M363 176.9h0M368 176.9h0M371.5 176.9h0.5M373.5 176.9h0M376 176.9h0M386.5 176.9h0M411 176.9h0M415 176.9h1.5M423 176.9h0M425 176.9h0M428.5 176.9h0M432 176.9h0M442 176.9h0M471 176.9h0M491.5 176.9h0M510 176.9h0M529 176.9h0M553 176.9h0M558.5 176.9h0M568 176.9h0M81 177h0M111.5 177h0M145.5 177h0M193 177h0M223 177h0M227 177h0M243.5 177h0M269 177h0M271 177h0M273.5 177h1.5M282 177h0M286 177h0M289 177h0M292.5 177h1M298 177h0M299.5 177h1M308 177h0M310 177h0M311.5 177h25.5M338.5 177h3M343 177h0M344.5 177h0.5M347 177h1M352 177h0.5M356.5 177h0M359 177h1.5M366 177h0M369.5 177h0M381.5 177h0M387 177h0M389.5 177h0M394.5 177h0M400.5 177h0M415.5 177h0M417 177h0M459.5 177h0M487 177h0M561 177h0M104 177.1h0M131 177.1h0M134.5 177.1h0M205.5 177.1h0M273.5 177.1h0M301 177.1h0M304 177.1h0M308.5 177.1h0M310 177.1h0.5M312 177.1h6.5M320 177.1h7.5M329 177.1h0M333 177.1h0.5M336.5 177.1h0.5M341.5 177.1h1M347 177.1h0M349.5 177.1h0M354 177.1h0M355.5 177.1h0M363.5 177.1h0M377 177.1h0M388 177.1h0M418 177.1h0M489 177.1h0M494 177.1h0M510.5 177.1h0M208 177.2h0M309.5 177.2h0M319 177.2h1M321.5 177.2h0.5M327.5 177.2h1M330 177.2h0M337 177.2h0M353.5 177.2h0M329 177.3h0M312.5 177.8h0M309 177.9h0M248.5 178h0M310 178h0M321 178h3.5M328.5 178h0M332.5 178h0M523 178h0M102.5 178.1h0M198 178.1h0M233 178.1h0M285 178.1h0M306.5 178.1h0M308 178.1h0M309.5 178.1h0.5M314.5 178.1h3.5M319.5 178.1h0M321 178.1h15.5M344 178.1h0M346.5 178.1h0M360.5 178.1h0M375 178.1h0M376.5 178.1h0M379.5 178.1h0M424 178.1h0M453.5 178.1h0M510 178.1h0M519.5 178.1h0M560 178.1h0M91.5 178.2h0M93 178.2h0M96 178.2h0M119.5 178.2h0M144 178.2h0M160.5 178.2h0M179.5 178.2h0M217 178.2h0M229 178.2h0M241.5 178.2h0M257 178.2h0M268 178.2h0M282.5 178.2h0M288.5 178.2h0M293.5 178.2h0M297.5 178.2h1M300 178.2h0M301.5 178.2h0.5M303.5 178.2h0.5M307 178.2h1M310 178.2h0M311.5 178.2h6M319 178.2h15M335.5 178.2h1M339 178.2h1M341.5 178.2h0M343 178.2h0M345 178.2h0.5M348.5 178.2h1M354 178.2h0M355.5 178.2h0M357.5 178.2h0M360 178.2h1M363.5 178.2h0M367 178.2h0M369 178.2h0M403 178.2h0.5M419 178.2h0M425.5 178.2h0M433.5 178.2h0M493 178.2h0M91 178.3h0M97 178.3h0M101 178.3h0M109.5 178.3h0M112.5 178.3h0M116.5 178.3h0M128.5 178.3h0M140 178.3h0M170.5 178.3h0M172 178.3h0M174.5 178.3h0M185 178.3h0M187.5 178.3h0M205 178.3h0M223.5 178.3h0M230.5 178.3h0M234.5 178.3h0M243.5 178.3h0M250.5 178.3h0M260 178.3h0M261.5 178.3h0M266.5 178.3h1M269 178.3h1M271.5 178.3h0M273 178.3h0M281 178.3h0M288.5 178.3h0M293.5 178.3h0M296 178.3h1M299 178.3h0.5M301 178.3h0.5M303 178.3h0.5M305 178.3h38M345 178.3h1.5M348.5 178.3h0M350 178.3h0.5M352.5 178.3h0M354.5 178.3h2.5M360.5 178.3h0.5M362.5 178.3h0M364.5 178.3h0M374 178.3h0M376 178.3h1M383.5 178.3h0M387 178.3h0M390 178.3h0M414 178.3h0M421.5 178.3h0M432 178.3h0M439.5 178.3h0M442 178.3h0M444.5 178.3h0M478 178.3h0M484 178.3h0M504 178.3h0M510 178.3h0M512 178.3h0M514 178.3h0M529 178.3h0M541.5 178.3h0M556.5 178.3h0M566 178.3h0M79.5 178.4h0M87.5 178.4h0M90 178.4h0M132.5 178.4h0M138.5 178.4h0M141.5 178.4h0M155.5 178.4h0M157.5 178.4h0M163 178.4h0M166.5 178.4h0M185 178.4h0M192.5 178.4h0M196.5 178.4h0M199.5 178.4h0M202.5 178.4h0M206.5 178.4h0M208 178.4h0M213.5 178.4h0M217.5 178.4h0M228.5 178.4h0M230 178.4h0M237.5 178.4h0M241 178.4h0M245.5 178.4h0M250.5 178.4h0M253.5 178.4h0M255.5 178.4h0M257 178.4h0M260.5 178.4h0M273 178.4h0M277 178.4h1M280.5 178.4h1M284 178.4h1.5M287.5 178.4h0M289.5 178.4h5M298.5 178.4h1M301 178.4h44M346.5 178.4h5M353 178.4h4.5M363 178.4h4M369 178.4h0M374.5 178.4h0M378 178.4h0M381.5 178.4h0M384.5 178.4h1M387.5 178.4h0M393 178.4h0M396.5 178.4h0M401 178.4h0M405.5 178.4h0M409 178.4h0M418 178.4h0.5M421 178.4h0M425.5 178.4h0M427.5 178.4h0M430 178.4h0M433 178.4h0M438.5 178.4h0M440 178.4h0M445.5 178.4h0M452 178.4h0M459.5 178.4h0M466.5 178.4h0M469 178.4h0M480 178.4h0M515 178.4h0M519.5 178.4h0M547 178.4h0M549 178.4h0M562.5 178.4h0M569 178.4h0M82.5 178.5h0M101 178.5h1M161.5 178.5h0M171.5 178.5h0M181.5 178.5h0M191 178.5h0M212 178.5h0M221.5 178.5h0M232 178.5h0M242.5 178.5h0M246 178.5h0M249.5 178.5h0M271.5 178.5h0M274.5 178.5h0M280.5 178.5h0M283 178.5h0M284.5 178.5h0M287.5 178.5h0M290 178.5h0M292 178.5h1.5M295 178.5h0M296.5 178.5h0M299.5 178.5h1.5M302.5 178.5h3M307 178.5h36.5M345 178.5h2M350 178.5h1.5M353.5 178.5h0M356 178.5h0M357.5 178.5h0M366 178.5h0M367.5 178.5h2.5M375 178.5h0M377.5 178.5h0M386.5 178.5h0M388 178.5h0M400.5 178.5h1M409 178.5h0M418.5 178.5h0M421 178.5h0M430 178.5h0M440 178.5h1M443 178.5h0.5M448 178.5h0M452.5 178.5h0M464 178.5h0M484.5 178.5h0M499 178.5h0M540.5 178.5h0M542.5 178.5h0M545 178.5h0M548.5 178.5h0M89.5 178.6h0M96.5 178.6h0M122 178.6h0M175.5 178.6h0M187.5 178.6h0M189.5 178.6h0M208 178.6h0M227 178.6h0.5M230 178.6h0.5M241.5 178.6h0M271 178.6h0M274.5 178.6h0M276 178.6h0M278 178.6h0.5M293 178.6h0M304 178.6h0M305.5 178.6h32.5M339.5 178.6h1M342 178.6h1M345 178.6h0.5M347 178.6h0M350 178.6h0M352 178.6h0M353.5 178.6h0.5M357.5 178.6h0M360 178.6h0.5M362.5 178.6h1M367 178.6h0M369 178.6h0M370.5 178.6h0M387.5 178.6h0M394 178.6h1M474.5 178.6h0M512.5 178.6h0M518.5 178.6h0M526 178.6h0M542 178.6h0M544 178.6h0M560.5 178.6h0M566 178.6h0M249.5 178.7h0M252.5 178.7h0M285.5 178.7h0M291.5 178.7h0M301.5 178.7h0M305 178.7h0M310.5 178.7h1M315 178.7h1.5M318.5 178.7h2M322 178.7h12M335.5 178.7h0M337 178.7h0.5M341.5 178.7h0M347 178.7h0M350 178.7h0M365.5 178.7h0M368.5 178.7h0M395 178.7h0M441.5 178.7h0M518 178.7h0M234.5 178.8h0M280 178.8h0M287.5 178.8h0M303 178.8h0M322 178.8h1M324.5 178.8h0.5M329 178.8h0M336.5 178.8h0M323.5 178.9h0M328 178.9h0M333.5 178.9h0M380 178.9h0M325 179.5h0.5M339 179.5h0M132.5 179.6h0M219 179.6h0M314.5 179.6h0M320 179.6h0M323 179.6h4M329.5 179.6h2.5M335 179.6h0.5M219 179.7h0M243.5 179.7h0.5M264 179.7h0M279 179.7h0M296.5 179.7h0M299 179.7h2.5M306 179.7h0M309 179.7h1.5M312 179.7h2.5M317.5 179.7h11.5M331.5 179.7h0M333.5 179.7h1M336.5 179.7h0M338 179.7h0.5M341 179.7h0M344.5 179.7h0M399 179.7h0M102.5 179.8h0M106.5 179.8h0M174.5 179.8h0M187 179.8h1M194 179.8h0M229 179.8h0M231 179.8h0M258 179.8h0M265 179.8h0.5M284.5 179.8h0M288 179.8h1.5M292 179.8h0M299.5 179.8h1M302.5 179.8h0.5M305 179.8h0M308 179.8h1.5M311 179.8h27.5M340 179.8h0.5M343 179.8h0.5M345.5 179.8h0M347 179.8h0M350 179.8h0.5M355.5 179.8h0M358.5 179.8h1M366 179.8h0M399.5 179.8h1M402.5 179.8h0M414.5 179.8h0M439.5 179.8h0M443 179.8h0M452.5 179.8h0M455 179.8h0M467 179.8h0M521.5 179.8h0M529.5 179.8h0M557 179.8h0M84.5 179.9h0M97 179.9h0M159 179.9h0M177.5 179.9h0M204 179.9h1M229 179.9h0M235.5 179.9h0M242 179.9h0M248.5 179.9h0M253 179.9h0M256.5 179.9h0M261.5 179.9h0M264.5 179.9h0M267 179.9h0M269 179.9h0M277 179.9h2.5M282 179.9h0M283.5 179.9h0M288 179.9h0M290.5 179.9h0M293.5 179.9h1M296 179.9h0M297.5 179.9h0M299.5 179.9h1M303 179.9h0M304.5 179.9h40M346 179.9h1M354 179.9h1M358 179.9h0M359.5 179.9h2M363.5 179.9h0M365.5 179.9h0M367 179.9h0M369.5 179.9h0.5M375 179.9h0M377 179.9h0M379 179.9h0.5M383 179.9h1M389 179.9h0M399.5 179.9h0M424.5 179.9h0M432.5 179.9h0M442.5 179.9h0M447 179.9h0M452.5 179.9h0M463.5 179.9h0M466.5 179.9h0M470 179.9h0M491 179.9h0M494 179.9h0M503.5 179.9h1M506.5 179.9h0.5M508.5 179.9h0M515 179.9h0M542.5 179.9h0M544.5 179.9h0M90 180h0M114 180h0M123 180h0M125.5 180h0.5M156.5 180h0M162.5 180h0M181.5 180h0M184.5 180h0M225 180h0M227 180h0M232 180h0M244.5 180h0.5M255.5 180h0M257 180h0M265.5 180h0M269 180h0M276 180h0M277.5 180h0M282.5 180h0.5M284.5 180h0.5M286.5 180h0M288.5 180h0M291 180h0M293 180h2.5M297 180h2.5M302 180h3.5M307.5 180h31.5M341 180h5M347.5 180h1.5M354 180h4M360.5 180h0M369.5 180h0M372 180h0M374.5 180h0M376 180h0M378.5 180h0.5M382 180h0M383.5 180h0M388.5 180h0M402.5 180h0M407 180h0M408.5 180h0M416 180h0M422 180h0M423.5 180h0.5M428.5 180h0M435 180h1M439.5 180h0M444 180h0M458.5 180h0M473 180h0M490.5 180h0M507 180h0M523 180h0M525 180h0M564 180h0M82 180.1h0M86 180.1h0M116.5 180.1h0M126 180.1h0M150.5 180.1h0M160 180.1h0M173 180.1h0M185 180.1h0M220 180.1h0M236.5 180.1h0M249 180.1h0M257.5 180.1h0M259.5 180.1h0M261 180.1h0M276.5 180.1h0M279.5 180.1h0M282 180.1h0M286 180.1h0M289 180.1h0M290.5 180.1h0M295 180.1h0M298 180.1h1.5M301 180.1h0M302.5 180.1h2.5M306.5 180.1h0M308.5 180.1h32.5M342.5 180.1h2M346 180.1h0.5M348.5 180.1h1M352 180.1h1.5M356.5 180.1h0M358 180.1h0.5M362 180.1h0M365.5 180.1h0M367 180.1h0M370 180.1h0M374.5 180.1h0M379.5 180.1h0.5M383.5 180.1h0M387.5 180.1h0M390 180.1h0M395 180.1h0M398 180.1h0M417 180.1h0.5M421 180.1h0M434 180.1h0M436 180.1h0M449.5 180.1h0M452 180.1h0M464.5 180.1h0M466 180.1h0M484.5 180.1h0M492 180.1h0.5M500.5 180.1h0M516.5 180.1h0M518.5 180.1h0M533 180.1h0M538 180.1h0M554.5 180.1h0M149.5 180.2h0M152.5 180.2h0M191 180.2h0M213 180.2h0M234 180.2h0M239.5 180.2h0M243 180.2h0M246 180.2h0M252.5 180.2h0M275.5 180.2h0M288.5 180.2h0M292.5 180.2h1.5M298.5 180.2h0.5M300.5 180.2h1M303.5 180.2h1M307 180.2h0M309 180.2h2M312.5 180.2h27M344.5 180.2h0M352.5 180.2h0M355 180.2h0.5M359 180.2h0M369.5 180.2h1M372.5 180.2h1M393 180.2h0M402 180.2h0M425.5 180.2h0M487.5 180.2h0M490 180.2h0M505 180.2h0M507.5 180.2h0M521.5 180.2h0M232 180.3h0M238.5 180.3h0M271 180.3h0M272.5 180.3h0M300.5 180.3h0M304 180.3h0.5M308.5 180.3h0M314.5 180.3h1M317.5 180.3h0M319 180.3h0M320.5 180.3h2.5M324.5 180.3h7.5M334 180.3h3.5M339 180.3h0M340.5 180.3h0M342 180.3h0M346 180.3h0M349 180.3h0M351 180.3h0M360 180.3h0M388.5 180.3h0M567.5 180.3h0M108 180.4h0M319 180.4h0M321 180.4h2.5M328.5 180.4h0M333 180.4h0M338 180.4h0M371 180.4h0M324.5 180.5h1M336.5 180.5h0M325 181.1h0M330.5 181.1h0M262 181.2h0M304 181.2h0M311 181.2h0M317 181.2h0M321 181.2h0M323 181.2h0.5M325 181.2h0.5M333.5 181.2h0M157.5 181.3h0M240 181.3h0M265 181.3h0M291 181.3h0M301 181.3h2M305 181.3h0M308 181.3h0M313.5 181.3h1M316.5 181.3h0M318 181.3h0.5M320.5 181.3h4.5M326.5 181.3h8.5M336.5 181.3h0M339.5 181.3h0.5M349.5 181.3h0M351 181.3h0M352.5 181.3h0M355.5 181.3h0M361 181.3h0M376.5 181.3h0M459 181.3h0M507 181.3h0M563.5 181.3h0M96 181.4h0M118 181.4h0M162.5 181.4h0M182.5 181.4h0M204 181.4h0.5M248 181.4h0M254 181.4h0M268 181.4h0M273.5 181.4h0M276 181.4h0M282.5 181.4h0M287 181.4h0M293.5 181.4h0M299 181.4h0M302 181.4h0M304.5 181.4h0.5M307 181.4h0M308.5 181.4h0.5M311 181.4h0.5M313.5 181.4h24.5M339.5 181.4h3.5M345.5 181.4h0M347 181.4h0.5M349 181.4h0M352.5 181.4h1M355 181.4h0.5M361.5 181.4h0.5M363.5 181.4h0M366.5 181.4h0M370 181.4h0M375 181.4h0M380.5 181.4h0M382.5 181.4h0M386 181.4h0M418 181.4h0M433 181.4h0M435.5 181.4h0M478 181.4h0M500 181.4h1M509 181.4h0M547 181.4h0M554 181.4h0M568.5 181.4h0M103.5 181.5h1M141.5 181.5h0M193.5 181.5h0M216 181.5h0M219.5 181.5h0M244.5 181.5h0M247 181.5h0M252 181.5h1M258.5 181.5h0M268.5 181.5h1.5M273.5 181.5h0.5M284.5 181.5h0M291 181.5h0.5M296 181.5h1M298.5 181.5h5M305 181.5h0.5M307.5 181.5h0M309 181.5h0M310.5 181.5h0.5M313 181.5h26.5M341 181.5h1M343.5 181.5h0M345.5 181.5h0.5M348.5 181.5h0M351 181.5h1.5M354.5 181.5h0M359.5 181.5h0M361.5 181.5h0M364 181.5h0M366.5 181.5h0M370 181.5h0M376 181.5h0M378.5 181.5h0M380.5 181.5h0M382 181.5h0M383.5 181.5h0M387 181.5h0M402 181.5h0M417.5 181.5h0M422 181.5h0M433.5 181.5h0.5M451 181.5h0M467 181.5h0M487.5 181.5h0M504 181.5h0.5M507.5 181.5h0M532.5 181.5h0M542 181.5h0M556.5 181.5h0M80 181.6h0M90.5 181.6h0M95.5 181.6h0M124.5 181.6h0M136 181.6h0.5M146.5 181.6h0M172.5 181.6h0M178.5 181.6h0M199.5 181.6h0M202.5 181.6h1M225 181.6h0M253.5 181.6h0M262 181.6h0M265.5 181.6h0M270 181.6h1M280 181.6h2M283.5 181.6h1.5M289 181.6h0M293.5 181.6h1.5M297 181.6h1M301 181.6h1.5M304.5 181.6h1M307 181.6h0.5M309.5 181.6h27M339.5 181.6h5.5M346.5 181.6h1M350 181.6h1M355 181.6h0M356.5 181.6h0M358 181.6h0M359.5 181.6h2.5M363.5 181.6h1M366 181.6h0M368 181.6h1M371.5 181.6h0M376.5 181.6h0.5M379.5 181.6h1M383.5 181.6h0.5M397 181.6h0M398.5 181.6h2.5M403 181.6h0M472 181.6h0M485.5 181.6h0M494.5 181.6h0M497 181.6h0M523 181.6h0M531.5 181.6h0M544 181.6h0M81.5 181.7h0M86 181.7h0M89 181.7h0M102 181.7h0M151 181.7h0M168.5 181.7h0M171.5 181.7h0M185.5 181.7h0M187 181.7h0M188.5 181.7h0M199.5 181.7h0M222 181.7h0M233.5 181.7h0.5M255 181.7h0M266 181.7h0M270.5 181.7h0.5M284.5 181.7h0M288.5 181.7h0M291 181.7h0M292.5 181.7h0M294 181.7h0M295.5 181.7h2M301.5 181.7h0.5M304 181.7h2M309 181.7h1.5M312.5 181.7h24M338.5 181.7h6M348.5 181.7h1.5M353 181.7h1M355.5 181.7h0M357 181.7h1.5M361.5 181.7h1M367 181.7h0M371 181.7h0.5M373.5 181.7h0M382.5 181.7h0M384 181.7h0M391 181.7h0M396 181.7h0M403 181.7h0M405 181.7h0M425 181.7h0M435 181.7h0M470 181.7h0M477.5 181.7h0.5M492 181.7h0M497 181.7h0M534 181.7h1M537.5 181.7h0M90 181.8h0M140.5 181.8h0M147.5 181.8h0M152.5 181.8h0M171 181.8h0M199 181.8h0M236 181.8h0M240 181.8h0M242.5 181.8h0M256.5 181.8h0M260 181.8h0M268 181.8h0M284.5 181.8h0M287.5 181.8h0M290.5 181.8h2M294 181.8h0.5M298.5 181.8h0M301 181.8h0M306 181.8h1M309 181.8h1M312 181.8h1M315 181.8h22M339.5 181.8h0M341.5 181.8h0M343.5 181.8h0.5M345.5 181.8h1M348 181.8h2.5M358 181.8h0.5M360 181.8h0M371 181.8h1M384.5 181.8h0M391 181.8h0M392.5 181.8h0M407.5 181.8h0M445 181.8h0M453.5 181.8h0M482 181.8h0M502.5 181.8h0M533.5 181.8h0M539.5 181.8h0M546.5 181.8h0M564.5 181.8h0M569 181.8h0M98 181.9h0M258.5 181.9h0M305 181.9h0M309 181.9h1M314.5 181.9h0M316.5 181.9h13.5M331.5 181.9h0M333.5 181.9h0M335 181.9h0M337 181.9h0M339 181.9h0M351 181.9h0M366.5 181.9h0M372 181.9h0.5M468 181.9h0M542 181.9h0M230 182h0M274.5 182h0M294.5 182h0M318 182h1M321 182h0M326 182h0M327.5 182h0M335 182h0M342 182h0M343.5 182h0M355.5 182h0M86 183h0M147.5 183h0M160 183h0M197.5 183h0M207.5 183h0M236.5 183h0M242 183h0M248.5 183h0M252.5 183h0M261 183h0M263 183h0M266.5 183h0M293 183h0M296 183h0M298 183h0M301 183h0M306 183h0M307.5 183h2.5M312 183h0M314 183h3M319 183h0.5M321 183h13.5M336 183h0M338.5 183h1M341 183h0M345.5 183h1M351.5 183h1M385 183h0M395 183h1M412.5 183h0M423 183h0M438.5 183h0M447 183h0M449.5 183h0M455 183h0M459 183h0M484.5 183h0M489 183h0M491 183h0M498 183h0M502 183h0M516.5 183h0M533 183h0M90 184.6h0M91.5 184.6h1.5M103.5 184.6h0M115 184.6h0M119.5 184.6h0M135.5 184.6h0.5M144 184.6h0M147 184.6h0M157.5 184.6h0M164 184.6h0M165.5 184.6h0M168.5 184.6h0M171.5 184.6h0M175.5 184.6h0M184 184.6h0M189.5 184.6h0M200.5 184.6h0M204 184.6h0M206.5 184.6h1.5M211 184.6h0M213 184.6h0M217 184.6h0M218.5 184.6h2M227.5 184.6h0M230 184.6h1M233 184.6h0M238 184.6h2.5M246.5 184.6h0M250 184.6h0M255 184.6h1M257.5 184.6h1M260 184.6h3.5M269 184.6h2.5M274.5 184.6h0M276.5 184.6h4M282 184.6h2M285.5 184.6h7M294 184.6h58M354 184.6h4M359.5 184.6h4M366.5 184.6h7.5M376 184.6h1M378.5 184.6h0M380.5 184.6h0M382 184.6h0.5M384.5 184.6h2M388 184.6h0.5M392 184.6h0M394 184.6h0M395.5 184.6h0M397.5 184.6h4.5M403.5 184.6h0M406 184.6h2.5M410.5 184.6h0M415.5 184.6h0M417.5 184.6h0M426 184.6h0.5M428 184.6h1M430.5 184.6h0M434 184.6h0M449.5 184.6h0M453 184.6h0M456.5 184.6h0M459 184.6h1M471 184.6h0M473.5 184.6h1M476.5 184.6h0M478 184.6h0M486.5 184.6h0M489.5 184.6h0M491 184.6h0M497.5 184.6h1M513.5 184.6h0M520.5 184.6h0M540 184.6h0M544.5 184.6h0M547.5 184.6h0M549 184.6h0M79 186.3h0M86 186.3h0M104.5 186.3h0M112 186.3h1M121.5 186.3h0M126.5 186.3h0M128 186.3h1M131.5 186.3h1.5M142.5 186.3h0M144.5 186.3h2M148 186.3h0M152 186.3h0M155 186.3h0M161 186.3h1M164 186.3h0M165.5 186.3h0M169 186.3h0M171 186.3h0.5M174.5 186.3h0M177.5 186.3h0M183.5 186.3h1M189.5 186.3h0M192 186.3h0M203.5 186.3h1M206 186.3h0M210 186.3h0M213.5 186.3h0M218 186.3h1M222 186.3h0M223.5 186.3h0M229.5 186.3h1M232 186.3h2.5M236 186.3h0M237.5 186.3h0M240 186.3h0M242 186.3h0M244 186.3h1M254 186.3h0M256 186.3h1M258.5 186.3h0M260 186.3h0M261.5 186.3h2M265 186.3h1M269.5 186.3h3.5M274.5 186.3h1.5M278.5 186.3h1M281 186.3h0M282.5 186.3h7M291 186.3h68M360.5 186.3h0.5M364.5 186.3h1M367 186.3h1M369.5 186.3h3M374.5 186.3h0M377.5 186.3h3.5M382.5 186.3h0M384 186.3h2M388.5 186.3h0.5M391.5 186.3h0M393 186.3h0M395.5 186.3h0M397 186.3h0M398.5 186.3h0.5M402 186.3h0M403.5 186.3h0M406.5 186.3h0M409.5 186.3h0M421 186.3h0M427.5 186.3h0M430 186.3h0M432 186.3h0M435 186.3h0M437 186.3h0M440.5 186.3h0M445 186.3h2M448.5 186.3h0M455 186.3h0M458 186.3h0M460.5 186.3h0M465 186.3h0M467.5 186.3h1M475.5 186.3h0M491 186.3h0M495 186.3h0.5M499.5 186.3h0M511.5 186.3h0M515 186.3h1M519.5 186.3h0M530.5 186.3h0M534.5 186.3h0M536 186.3h0M541 186.3h0M547 186.3h0.5M553 186.3h0M555.5 186.3h0M561 186.3h0M572 186.3h0M97 187.9h0M101.5 187.9h0M107.5 187.9h0M112 187.9h0M116.5 187.9h0M124 187.9h0M127.5 187.9h3M135 187.9h0M139 187.9h0M140.5 187.9h0M143 187.9h0.5M145.5 187.9h0M158 187.9h0M162.5 187.9h0M168.5 187.9h0M179 187.9h0M185 187.9h0M188 187.9h0.5M191 187.9h0M193.5 187.9h0M199.5 187.9h0M206.5 187.9h1.5M211.5 187.9h0M213.5 187.9h0M217.5 187.9h0M219 187.9h0M221.5 187.9h1.5M224.5 187.9h0M230 187.9h0M232 187.9h0M233.5 187.9h0M235 187.9h0M238 187.9h1M240.5 187.9h0M244.5 187.9h0M246.5 187.9h1.5M250 187.9h5M256.5 187.9h3M264.5 187.9h2M269 187.9h4.5M276 187.9h3M280.5 187.9h97.5M380.5 187.9h1M384.5 187.9h3M389.5 187.9h3.5M401 187.9h0M403 187.9h5M410.5 187.9h3.5M416 187.9h0M418 187.9h0M425 187.9h0M426.5 187.9h0M428.5 187.9h0M430 187.9h0.5M432 187.9h0M433.5 187.9h0M435 187.9h0M443 187.9h1.5M456 187.9h0M460 187.9h0.5M462.5 187.9h0M464 187.9h0M468 187.9h0.5M470 187.9h1.5M474 187.9h0M479.5 187.9h0.5M483 187.9h0M486 187.9h0.5M496 187.9h0M499.5 187.9h0M511 187.9h0M512.5 187.9h1M519.5 187.9h0M521 187.9h0M525 187.9h0M526.5 187.9h0.5M531 187.9h0M533.5 187.9h0M537 187.9h0M538.5 187.9h1M546.5 187.9h0M548 187.9h0M552 187.9h0M555.5 187.9h0M558.5 187.9h0M83.5 189.5h0M100.5 189.5h0M127 189.5h0.5M164.5 189.5h0M176.5 189.5h1M196 189.5h0.5M210 189.5h0M231 189.5h0M244 189.5h0M260.5 189.5h0M281.5 189.5h0M286 189.5h0M293.5 189.5h0M311 189.5h0.5M315 189.5h0M316.5 189.5h0M320 189.5h0M324 189.5h2.5M329 189.5h0M331 189.5h0M338.5 189.5h0M354.5 189.5h0M362.5 189.5h0M387.5 189.5h0M424 189.5h0M454.5 189.5h0M457 189.5h0M473.5 189.5h0M509 189.5h0M517.5 189.5h0M540.5 189.5h0M548 189.5h0M91 191.1h0M117.5 191.1h0M127.5 191.1h0M142 191.1h0M148 191.1h0M159.5 191.1h0M165.5 191.1h0M170 191.1h0M198.5 191.1h0M203.5 191.1h0M219.5 191.1h0M226 191.1h1M241 191.1h0M261.5 191.1h0M269 191.1h0.5M272.5 191.1h0M284.5 191.1h0M287 191.1h0M292.5 191.1h0M295 191.1h0M298.5 191.1h0M302 191.1h1.5M308.5 191.1h0M315.5 191.1h0.5M317.5 191.1h0M319.5 191.1h0.5M321.5 191.1h10M333.5 191.1h0.5M335.5 191.1h1M338 191.1h0M344.5 191.1h0.5M350.5 191.1h0M356 191.1h0M362 191.1h0M364.5 191.1h0M372 191.1h0M386.5 191.1h0M391 191.1h0M429.5 191.1h0M456.5 191.1h0M505 191.1h0M515 191.1h0M521.5 191.1h0M529.5 191.1h0M534.5 191.1h0M82 192.8h0M88.5 192.8h1M97.5 192.8h0M106 192.8h1M108.5 192.8h0M113 192.8h0M124.5 192.8h0M130 192.8h0M139.5 192.8h0M151.5 192.8h0M160 192.8h0M173 192.8h0M180.5 192.8h0M188.5 192.8h0M191.5 192.8h0M198.5 192.8h0M210 192.8h0M211.5 192.8h0M214.5 192.8h1M218 192.8h1M221 192.8h0.5M223 192.8h0M225 192.8h0M229 192.8h0M238 192.8h0M241.5 192.8h0M243 192.8h1M245.5 192.8h1M248 192.8h0M249.5 192.8h2M253.5 192.8h2M257.5 192.8h1M261.5 192.8h0M266 192.8h1.5M269.5 192.8h0M272 192.8h0.5M276.5 192.8h1M279 192.8h1.5M282.5 192.8h5.5M289.5 192.8h3.5M294.5 192.8h0M296 192.8h64.5M362.5 192.8h6.5M371 192.8h1.5M374 192.8h1.5M378 192.8h0M380 192.8h2.5M385 192.8h2.5M389 192.8h0M395.5 192.8h2.5M400.5 192.8h1M404 192.8h0M407.5 192.8h0M410.5 192.8h0M413.5 192.8h0M420 192.8h1M423.5 192.8h0M425.5 192.8h0M429 192.8h0M431 192.8h0M433.5 192.8h0M439 192.8h0M444.5 192.8h0M453.5 192.8h0M455.5 192.8h0M457 192.8h0M473.5 192.8h0M483.5 192.8h0M487.5 192.8h0M492.5 192.8h0.5M503 192.8h1.5M509.5 192.8h0M511 192.8h0M514 192.8h0M516 192.8h0M520 192.8h0M528 192.8h0M532 192.8h0.5M534 192.8h0M542.5 192.8h0M550 192.8h0M560 192.8h0M563.5 192.8h0M568 192.8h0M79.5 194.4h0M85 194.4h0M89.5 194.4h0M101 194.4h0M105 194.4h0M107.5 194.4h0M111.5 194.4h0M115 194.4h0M117 194.4h0.5M123 194.4h0M129.5 194.4h0M137.5 194.4h0M145.5 194.4h0M148.5 194.4h0M156 194.4h1M158.5 194.4h0M163 194.4h0.5M173 194.4h0M191 194.4h0M195 194.4h0M197 194.4h0M208 194.4h0M214 194.4h1M217.5 194.4h0M220.5 194.4h1.5M225 194.4h0M230.5 194.4h0M237 194.4h0M242 194.4h0M244 194.4h4M249.5 194.4h0M251 194.4h0M253 194.4h0M257 194.4h0.5M259 194.4h1M264 194.4h1M266.5 194.4h0M268 194.4h0M269.5 194.4h0M272 194.4h2M277.5 194.4h4.5M284 194.4h72.5M358 194.4h4.5M364 194.4h7M372.5 194.4h1M376 194.4h0M378.5 194.4h4M384 194.4h0M385.5 194.4h0M388 194.4h2M392 194.4h1M394.5 194.4h4M403 194.4h1M406 194.4h0M409.5 194.4h0M411 194.4h0M413.5 194.4h0M415 194.4h0M417.5 194.4h0M425 194.4h1M433.5 194.4h1M437.5 194.4h0.5M440 194.4h1M443 194.4h0M444.5 194.4h0M450 194.4h1.5M456.5 194.4h1M459.5 194.4h0M461.5 194.4h0M466 194.4h1M471 194.4h0M472.5 194.4h0.5M475 194.4h0M478.5 194.4h0M480 194.4h0M482.5 194.4h0M485.5 194.4h0M488 194.4h0M499.5 194.4h0M512 194.4h0M515 194.4h1M519 194.4h1M521.5 194.4h0M524.5 194.4h0M526 194.4h0M529.5 194.4h0.5M532.5 194.4h0M542.5 194.4h0M548 194.4h0M549.5 194.4h1M565.5 194.4h2.5M79.5 196h0M86.5 196h0M96.5 196h0M106.5 196h1M117.5 196h0M120 196h0M122 196h0M127.5 196h0.5M139 196h1M150 196h0M152.5 196h1M157 196h0M161 196h0M164.5 196h1M168.5 196h0M171.5 196h0M173.5 196h1M178.5 196h0M180 196h0M186 196h0M189 196h0M192 196h0M194.5 196h0.5M206.5 196h0M209 196h0.5M211.5 196h0M216 196h2.5M220 196h0.5M223 196h0M227 196h0M228.5 196h1M233 196h0.5M235 196h0M237.5 196h0M240.5 196h0M242.5 196h1M245 196h0.5M249 196h0M250.5 196h0.5M253.5 196h0.5M255.5 196h1M258 196h0M262.5 196h1.5M266.5 196h0M268 196h7M278 196h4.5M284.5 196h1M287.5 196h0.5M289.5 196h3.5M294.5 196h77M373 196h0.5M375 196h4M381 196h0M383 196h0M384.5 196h0M386 196h0.5M388.5 196h0.5M392.5 196h0.5M395 196h7.5M404 196h0M406.5 196h0M410 196h1M412.5 196h0.5M414.5 196h2M418 196h0M420.5 196h2M424.5 196h0M426.5 196h0M428.5 196h0M432.5 196h1M435 196h0M438.5 196h0M440 196h1M442.5 196h1.5M447.5 196h0M452.5 196h0M456.5 196h0M458.5 196h0.5M460.5 196h0.5M466 196h0M471 196h0M480 196h0M488 196h0M497 196h0M500 196h0.5M502 196h0M508.5 196h0M511.5 196h0M515.5 196h0M518 196h0M520.5 196h1M526.5 196h0M529 196h1M534 196h0M539.5 196h0M570.5 196h0M90 197.7h0M98.5 197.7h0M101 197.7h0M104 197.7h0M107 197.7h0M135.5 197.7h0M156.5 197.7h0M179.5 197.7h0M189.5 197.7h0M206.5 197.7h0.5M221.5 197.7h0M256.5 197.7h0M261 197.7h1.5M264.5 197.7h0M268.5 197.7h0M273 197.7h0M278.5 197.7h0M281.5 197.7h0M284 197.7h0M287.5 197.7h0M293.5 197.7h0.5M296 197.7h0M297.5 197.7h0M299.5 197.7h0.5M302 197.7h0M303.5 197.7h0.5M306 197.7h2M309.5 197.7h0M311.5 197.7h1M315 197.7h27M344.5 197.7h1M348 197.7h1M350.5 197.7h0M352.5 197.7h1M356 197.7h0.5M360.5 197.7h0M371 197.7h0M372.5 197.7h0.5M376 197.7h1.5M381.5 197.7h0M388 197.7h1M390.5 197.7h1M404.5 197.7h0M423.5 197.7h0M425 197.7h0M426.5 197.7h0.5M429 197.7h0M433 197.7h0M441.5 197.7h0M448.5 197.7h1M455 197.7h0M470 197.7h0M496.5 197.7h0M517.5 197.7h0M553.5 197.7h0M558.5 197.7h0M568.5 197.7h0M81.5 199.3h0M92.5 199.3h0M105.5 199.3h0M107 199.3h0M111.5 199.3h0M135 199.3h0M139 199.3h0.5M150 199.3h0M177 199.3h0M187 199.3h0M212 199.3h0.5M223.5 199.3h0.5M232 199.3h0M245 199.3h0.5M255.5 199.3h2.5M272.5 199.3h1M275 199.3h0.5M277 199.3h1M281.5 199.3h1M285 199.3h0M287 199.3h2.5M291 199.3h0.5M294 199.3h4.5M302 199.3h0M304.5 199.3h40M346 199.3h1.5M349.5 199.3h1M353.5 199.3h0M356.5 199.3h0M359 199.3h2.5M363 199.3h2M367.5 199.3h0M379 199.3h0M388 199.3h0M394.5 199.3h0M397 199.3h0M407 199.3h0M413 199.3h0M422.5 199.3h0M425.5 199.3h0M437 199.3h0M449.5 199.3h0M470.5 199.3h0M481.5 199.3h0M483 199.3h0M501 199.3h0M507.5 199.3h0M520 199.3h0M523.5 199.3h0M557.5 199.3h0M87 200.9h0M91 200.9h0M97.5 200.9h0M106 200.9h0M108.5 200.9h1.5M116 200.9h0M120.5 200.9h0M123.5 200.9h0M150 200.9h0M169 200.9h0M170.5 200.9h0M176 200.9h0M179 200.9h0M181 200.9h0M184 200.9h0M186.5 200.9h0M191 200.9h0.5M206.5 200.9h0M211 200.9h0M218.5 200.9h0M220 200.9h0M221.5 200.9h0M232.5 200.9h1M235.5 200.9h0M238 200.9h1M240.5 200.9h0M244.5 200.9h0M252 200.9h0.5M257 200.9h0.5M259 200.9h1M263 200.9h2.5M267 200.9h0M270.5 200.9h0M275.5 200.9h0M279.5 200.9h0.5M281.5 200.9h1M284 200.9h4M290 200.9h1.5M293 200.9h0M294.5 200.9h1M297 200.9h4.5M303 200.9h41.5M346 200.9h4M351.5 200.9h6.5M360 200.9h0.5M362 200.9h1M365 200.9h1M368 200.9h1M370.5 200.9h0M372 200.9h0M373.5 200.9h2M377.5 200.9h0.5M382.5 200.9h0.5M385 200.9h0M386.5 200.9h0M391.5 200.9h0M394 200.9h0M398.5 200.9h0M400 200.9h0.5M404 200.9h0M407 200.9h0M414 200.9h0M425.5 200.9h0M433 200.9h0M437 200.9h1M447.5 200.9h0M457 200.9h0.5M470 200.9h0M480.5 200.9h0M485 200.9h0M487.5 200.9h0M490 200.9h0M510 200.9h0M517 200.9h0M530 200.9h0M534.5 200.9h0M538 200.9h0M541.5 200.9h0M549 200.9h0M568 200.9h0M81.5 202.6h0M83.5 202.6h0M91.5 202.6h0M94.5 202.6h0M96 202.6h0M99.5 202.6h0M104 202.6h0M106.5 202.6h0M116.5 202.6h0M119 202.6h0M125 202.6h1M130 202.6h0M135 202.6h0M141.5 202.6h0M149.5 202.6h0M159.5 202.6h0M163.5 202.6h0M165 202.6h0M166.5 202.6h0M179 202.6h1M185 202.6h0M188.5 202.6h1M191 202.6h0M196 202.6h1M201 202.6h0M206 202.6h0.5M208.5 202.6h2M213 202.6h0M216 202.6h0.5M218 202.6h1M220.5 202.6h0M224 202.6h0M227 202.6h0M229.5 202.6h0M232 202.6h0M233.5 202.6h0.5M235.5 202.6h0M237 202.6h2M241.5 202.6h0M244.5 202.6h0M246 202.6h0.5M248 202.6h1.5M254 202.6h1M256.5 202.6h8M266 202.6h1M268.5 202.6h8.5M278.5 202.6h0M280 202.6h80M361.5 202.6h4.5M367.5 202.6h6M376 202.6h0M377.5 202.6h8.5M387.5 202.6h0M389 202.6h0M391.5 202.6h0M393.5 202.6h3M402 202.6h1M404.5 202.6h1.5M407.5 202.6h0.5M409.5 202.6h2.5M414 202.6h1M419 202.6h0M420.5 202.6h0.5M422.5 202.6h2M426.5 202.6h2.5M432.5 202.6h1M436 202.6h0M439 202.6h0M441 202.6h0M443 202.6h1M448.5 202.6h0M452.5 202.6h0M455.5 202.6h1M460.5 202.6h0M468 202.6h0M470.5 202.6h1M479 202.6h0M484 202.6h0.5M486 202.6h0M492.5 202.6h0M494 202.6h0M501 202.6h0M506.5 202.6h0M514.5 202.6h0M518.5 202.6h0M531.5 202.6h0M533 202.6h0M535 202.6h0M541 202.6h0.5M544.5 202.6h0M559 202.6h0M561 202.6h0M563.5 202.6h0M567.5 202.6h1M572 202.6h0M80 204.2h0M83 204.2h0M86 204.2h0M88.5 204.2h0.5M91.5 204.2h0M98.5 204.2h0M102.5 204.2h0M114 204.2h0.5M120.5 204.2h0M127.5 204.2h0M131 204.2h0M133 204.2h0M139.5 204.2h0M172 204.2h0M182.5 204.2h0M184 204.2h0M193.5 204.2h1M211 204.2h0.5M219 204.2h0M226.5 204.2h0M231.5 204.2h0M234 204.2h0M237 204.2h0M238.5 204.2h0.5M242.5 204.2h0.5M244.5 204.2h0M254 204.2h0M255.5 204.2h0.5M259.5 204.2h0M264.5 204.2h0M271.5 204.2h0M273.5 204.2h0M277.5 204.2h0M279 204.2h2.5M283.5 204.2h0M286 204.2h1.5M289 204.2h0M290.5 204.2h3M295.5 204.2h2M299.5 204.2h0M301 204.2h7.5M310 204.2h31M342.5 204.2h6.5M351 204.2h2M355 204.2h3.5M360.5 204.2h1M363.5 204.2h0M365.5 204.2h1M368 204.2h0M371.5 204.2h0.5M384.5 204.2h0M386 204.2h0M387.5 204.2h1M390 204.2h2M398.5 204.2h0M406 204.2h1M414 204.2h0M416.5 204.2h0M420 204.2h1.5M437 204.2h0M448.5 204.2h0M452.5 204.2h0.5M462.5 204.2h0M477.5 204.2h0M505.5 204.2h0M553 204.2h0M562 204.2h0M563.5 204.2h0M81.5 205.8h0M86.5 205.8h0M89.5 205.8h0M93 205.8h0M101.5 205.8h1M104 205.8h0.5M107.5 205.8h0M109.5 205.8h0M123 205.8h0.5M131.5 205.8h0M138 205.8h0M140 205.8h0M144 205.8h0M153 205.8h0.5M156 205.8h0M159.5 205.8h0M167 205.8h0M169 205.8h0M172 205.8h0.5M177.5 205.8h0M205.5 205.8h0M207.5 205.8h0M209 205.8h0M211.5 205.8h1.5M216 205.8h0M217.5 205.8h2M221 205.8h0M226.5 205.8h0M228 205.8h0M232 205.8h0M233.5 205.8h0M235 205.8h0M238 205.8h1M242 205.8h0M245 205.8h0.5M250 205.8h1M254.5 205.8h2M258 205.8h0M260 205.8h6M269.5 205.8h1.5M272.5 205.8h3M277 205.8h0M278.5 205.8h1M281.5 205.8h0M283.5 205.8h0M285 205.8h78.5M365 205.8h7.5M375 205.8h9M386 205.8h2.5M391 205.8h1.5M394.5 205.8h2.5M402 205.8h0M403.5 205.8h3.5M410.5 205.8h1M413 205.8h1.5M417 205.8h1M422 205.8h0M428.5 205.8h0M430 205.8h1M435.5 205.8h0M437 205.8h0M439 205.8h0.5M441 205.8h1M447 205.8h0M451 205.8h0M453.5 205.8h0M456 205.8h0M459.5 205.8h0M462.5 205.8h1.5M469.5 205.8h0M472.5 205.8h0M480.5 205.8h0M483 205.8h0M489.5 205.8h0M497.5 205.8h0M499 205.8h0.5M508 205.8h0M511 205.8h0M512.5 205.8h0M514.5 205.8h0M516 205.8h0M530.5 205.8h0M532 205.8h0M537 205.8h0M539 205.8h0M549 205.8h0M555.5 205.8h0M92.5 207.4h0.5M101.5 207.4h0M109 207.4h0M114.5 207.4h0M122.5 207.4h0M132.5 207.4h0M135 207.4h2M151.5 207.4h0M163.5 207.4h1M168.5 207.4h0M171 207.4h0M182.5 207.4h0M191 207.4h0M193 207.4h0M199 207.4h0M200.5 207.4h0M203 207.4h0M216.5 207.4h0M220 207.4h0M224 207.4h0.5M226 207.4h0M229.5 207.4h0M232.5 207.4h1M247 207.4h0M249.5 207.4h1M253.5 207.4h0.5M257 207.4h0M258.5 207.4h0M260 207.4h3M264.5 207.4h1M267 207.4h0M268.5 207.4h0.5M271 207.4h0.5M274 207.4h1M277 207.4h5.5M284 207.4h2M287.5 207.4h5M294 207.4h78M373.5 207.4h3.5M381 207.4h0M382.5 207.4h0M384.5 207.4h0M386 207.4h0M388 207.4h0M394 207.4h1M396.5 207.4h0.5M402 207.4h1M404.5 207.4h0M408 207.4h1M410.5 207.4h0M413.5 207.4h1M417 207.4h2.5M422.5 207.4h0M425 207.4h0M428 207.4h0M433 207.4h0M438 207.4h0M443.5 207.4h0M447 207.4h0M449 207.4h0M450.5 207.4h0M454 207.4h1.5M459 207.4h0M460.5 207.4h0M462 207.4h0.5M464.5 207.4h0M467 207.4h0.5M470.5 207.4h0M472 207.4h0.5M482 207.4h0M501.5 207.4h0M512 207.4h2.5M516 207.4h1M524 207.4h0M526 207.4h0M532 207.4h0.5M534.5 207.4h0.5M542 207.4h0.5M547.5 207.4h0M550 207.4h0M552.5 207.4h0M558.5 207.4h0M560.5 207.4h0M562.5 207.4h0M88 209.1h0M91.5 209.1h0M94.5 209.1h1M112.5 209.1h0M119.5 209.1h0M121.5 209.1h0M125.5 209.1h0M129 209.1h0M131.5 209.1h0.5M168.5 209.1h1M181.5 209.1h1M185 209.1h0M186.5 209.1h0M192 209.1h0.5M195 209.1h0M199 209.1h0M202 209.1h0M204 209.1h0M207.5 209.1h0M222.5 209.1h0M226.5 209.1h0M228.5 209.1h0M238 209.1h1M247.5 209.1h0M249.5 209.1h1M252 209.1h0M253.5 209.1h1M257.5 209.1h1M260.5 209.1h3M266 209.1h0M270 209.1h1.5M273.5 209.1h0.5M275.5 209.1h2M279 209.1h0M280.5 209.1h4M287 209.1h0M289 209.1h8.5M299 209.1h52.5M353.5 209.1h1.5M356.5 209.1h6M364.5 209.1h0M366 209.1h0.5M368.5 209.1h1M373 209.1h0M374.5 209.1h1.5M381.5 209.1h1M385 209.1h1M388.5 209.1h1M393.5 209.1h0M395 209.1h0M399 209.1h0M400.5 209.1h2M404.5 209.1h0M408 209.1h0M409.5 209.1h0M415.5 209.1h0M418.5 209.1h0M421 209.1h1.5M425 209.1h0M426.5 209.1h0M428 209.1h1M435 209.1h0M438 209.1h0M440 209.1h0M448.5 209.1h0M451.5 209.1h0M453 209.1h0M460 209.1h0M467 209.1h0M484.5 209.1h0M488.5 209.1h0M491 209.1h0M498.5 209.1h0M506 209.1h0M510.5 209.1h0M514 209.1h0M524.5 209.1h0M527 209.1h0M530 209.1h0M537 209.1h0M538.5 209.1h0M552 209.1h0M566.5 209.1h0M572 209.1h0M82.5 210.7h0M89.5 210.7h0M96 210.7h0M109 210.7h1M134 210.7h0M137 210.7h0M150 210.7h0M155.5 210.7h0M177 210.7h0M201 210.7h0M205.5 210.7h0M214.5 210.7h0M229 210.7h0.5M231.5 210.7h0M238 210.7h0M239.5 210.7h0M242.5 210.7h1M245.5 210.7h0M247.5 210.7h0M250 210.7h0M252 210.7h0M255 210.7h3M261 210.7h0M263.5 210.7h4M271.5 210.7h1M274.5 210.7h0.5M276.5 210.7h0M279 210.7h1M282.5 210.7h0M285.5 210.7h0M287 210.7h3M292 210.7h0M295 210.7h2M299 210.7h1M301.5 210.7h4.5M307.5 210.7h40.5M349.5 210.7h3M354 210.7h2.5M358.5 210.7h0M360 210.7h3M365 210.7h0.5M367 210.7h0M369 210.7h0M372 210.7h0M375 210.7h0.5M382.5 210.7h0M388.5 210.7h0M390.5 210.7h1M393 210.7h0M394.5 210.7h1M400.5 210.7h0M402.5 210.7h0.5M413 210.7h0M424 210.7h0M437 210.7h2M443.5 210.7h0M455.5 210.7h0M459.5 210.7h0M465.5 210.7h0M484.5 210.7h0M490.5 210.7h0M499 210.7h0M505 210.7h0M512 210.7h0M529 210.7h2.5M557.5 210.7h0.5M93.5 212.3h0M107.5 212.3h0.5M113 212.3h0M121 212.3h0M135.5 212.3h0M155.5 212.3h0M167.5 212.3h0M173 212.3h0M183 212.3h0M187 212.3h0.5M199 212.3h0M204 212.3h0M211 212.3h0.5M232 212.3h0M240.5 212.3h0M247 212.3h0M248.5 212.3h0M251.5 212.3h0M253.5 212.3h0.5M257.5 212.3h0M262.5 212.3h0M271.5 212.3h0M273.5 212.3h0M277 212.3h0M278.5 212.3h0M280.5 212.3h0M283 212.3h0.5M286.5 212.3h0M291 212.3h0M292.5 212.3h0M294 212.3h2M297.5 212.3h3M302 212.3h0M304 212.3h41.5M347 212.3h0M349 212.3h8.5M360 212.3h1M363 212.3h2.5M367 212.3h0M370.5 212.3h0M373.5 212.3h1M376.5 212.3h0M378 212.3h0M381.5 212.3h0M386 212.3h0M393 212.3h0M396.5 212.3h0M408.5 212.3h0M425 212.3h0M431 212.3h0M433 212.3h0M439.5 212.3h1M443.5 212.3h0M452.5 212.3h0M460.5 212.3h1M490 212.3h0M504.5 212.3h0M516.5 212.3h0M523 212.3h0M546.5 212.3h0M554 212.3h0M562.5 212.3h0M90.5 214h0M93 214h0.5M103 214h0M121 214h0M132 214h0M164.5 214h0M172 214h0M189 214h0M202 214h0M216.5 214h0M221 214h0M226.5 214h0M230.5 214h0M252.5 214h0M254 214h0M256 214h0M258.5 214h0M260 214h0M261.5 214h0M264 214h0M268 214h0M270.5 214h0M273.5 214h2M277.5 214h0M280 214h1M282.5 214h1M285.5 214h0M290 214h0M292 214h2M295.5 214h2M299 214h48M348.5 214h7M358.5 214h1.5M362 214h0M366 214h0M368.5 214h0M370.5 214h0M374.5 214h0M377.5 214h0M379 214h1.5M385.5 214h0M393 214h1.5M397.5 214h0M404.5 214h0M413 214h0M418 214h0M423.5 214h0M425.5 214h0M439.5 214h0M455 214h0M462 214h0M472 214h0M474 214h0M475.5 214h0M480 214h0M496.5 214h0.5M499.5 214h0M505.5 214h0M542.5 214h0M549 214h0M551 214h0M552.5 214h0M554.5 214h1M557.5 214h0M562 214h0M565 214h0M568.5 214h0M570.5 214h0M102 215.6h0M111.5 215.6h0M128 215.6h0M133 215.6h0M136 215.6h0M156.5 215.6h1M177 215.6h0M179.5 215.6h0M184 215.6h0M193.5 215.6h0M216 215.6h0M223.5 215.6h0M226.5 215.6h1M238.5 215.6h0M248.5 215.6h0M252.5 215.6h0M254.5 215.6h0M258 215.6h0M260 215.6h0M263.5 215.6h0M265 215.6h0M270 215.6h0M273 215.6h0M275 215.6h0M279.5 215.6h0.5M283 215.6h0M285.5 215.6h2.5M290 215.6h2M294.5 215.6h1.5M297.5 215.6h1M301.5 215.6h0M303 215.6h2M306.5 215.6h1.5M309.5 215.6h29M340.5 215.6h0M342 215.6h0M344 215.6h1.5M348 215.6h2M351.5 215.6h0M353 215.6h0.5M356.5 215.6h0M358 215.6h1M362 215.6h0.5M367 215.6h0M368.5 215.6h1M376 215.6h1M379.5 215.6h0M382.5 215.6h0M399 215.6h0M400.5 215.6h0M407.5 215.6h0M409.5 215.6h0M421.5 215.6h0M429 215.6h0M443 215.6h0M447 215.6h0M461 215.6h0M468 215.6h0M478.5 215.6h0M516 215.6h0M536 215.6h0M545 215.6h0.5M561 215.6h0M562.5 215.6h0M80.5 217.2h0M87 217.2h0M116 217.2h0M126.5 217.2h0M133 217.2h0M141 217.2h0M189 217.2h1.5M193.5 217.2h0M199.5 217.2h0M213.5 217.2h0M218 217.2h0M220 217.2h0M238 217.2h0M240.5 217.2h0.5M243.5 217.2h0M245.5 217.2h0M248.5 217.2h0M253.5 217.2h0M255.5 217.2h1M260.5 217.2h0.5M264 217.2h0M266 217.2h0M270.5 217.2h0M272.5 217.2h0M274 217.2h0.5M278.5 217.2h0.5M281.5 217.2h0M288.5 217.2h1.5M291.5 217.2h0M294 217.2h2M298 217.2h1M300.5 217.2h0M302 217.2h38M342 217.2h4.5M348.5 217.2h0M350.5 217.2h2M354 217.2h0M356.5 217.2h0M359 217.2h0.5M363.5 217.2h0M367.5 217.2h0.5M370 217.2h0M373 217.2h1M375.5 217.2h1M379 217.2h0M387 217.2h1M400.5 217.2h0M414.5 217.2h0M427 217.2h0M428.5 217.2h0M448 217.2h0M459.5 217.2h0M465.5 217.2h0M469.5 217.2h0M471 217.2h0M474.5 217.2h0M480.5 217.2h0M516 217.2h0M528.5 217.2h1M532 217.2h0.5M534 217.2h0M537 217.2h0M543.5 217.2h1M553 217.2h0M557 217.2h0M79 218.9h0M81.5 218.9h0M93 218.9h0M95.5 218.9h0M105 218.9h1M114.5 218.9h0M121.5 218.9h0M130 218.9h0M134.5 218.9h0M144 218.9h0M151.5 218.9h0.5M163 218.9h0.5M174 218.9h0M176 218.9h0M188 218.9h0M191.5 218.9h1M219.5 218.9h0M222.5 218.9h0M228 218.9h0M239.5 218.9h0M244 218.9h0M250.5 218.9h0M263 218.9h0M275.5 218.9h0.5M277.5 218.9h0M282 218.9h0M284.5 218.9h1.5M288 218.9h0M289.5 218.9h3M295 218.9h0M298 218.9h0M301 218.9h0M302.5 218.9h5M309 218.9h42M355.5 218.9h0M357 218.9h1M360.5 218.9h0.5M363 218.9h0M365.5 218.9h0.5M367.5 218.9h0.5M369.5 218.9h0.5M374.5 218.9h2M380 218.9h1.5M386.5 218.9h0M393 218.9h0M404 218.9h0M405.5 218.9h0M410.5 218.9h0M415.5 218.9h0M421 218.9h0M429.5 218.9h0M433.5 218.9h0M446 218.9h0.5M464 218.9h0M473.5 218.9h0M485 218.9h0M486.5 218.9h0M508.5 218.9h0M513.5 218.9h0M517.5 218.9h0M554.5 218.9h0M568.5 218.9h0M100 220.5h0M105 220.5h0M107 220.5h0M113.5 220.5h0M125.5 220.5h0M150.5 220.5h0M154 220.5h0M159 220.5h0M206.5 220.5h0M221 220.5h0M237 220.5h0M239.5 220.5h0M255.5 220.5h0M272 220.5h1M291 220.5h0M305.5 220.5h0M311 220.5h0M312.5 220.5h0M314.5 220.5h0M317.5 220.5h0M320 220.5h0M321.5 220.5h0.5M324.5 220.5h0M326 220.5h3.5M332 220.5h1.5M335.5 220.5h0M342 220.5h0M347 220.5h0M353 220.5h0M364.5 220.5h0M375.5 220.5h0M386.5 220.5h0M402.5 220.5h0M432.5 220.5h0M438 220.5h0M459 220.5h0M478 220.5h0M483.5 220.5h0M524 220.5h0M539 220.5h0M545 220.5h0M83 222.1h0M86 222.1h0M143.5 222.1h0M152 222.1h0M166.5 222.1h0M174 222.1h0M184.5 222.1h0M202.5 222.1h0M228.5 222.1h0M246.5 222.1h0M251 222.1h0M254 222.1h0M258.5 222.1h0M263 222.1h1M267 222.1h0M270.5 222.1h0M280 222.1h0M283 222.1h1.5M286 222.1h0M288.5 222.1h0M292 222.1h0M293.5 222.1h0M295 222.1h1M298 222.1h0M300 222.1h0M303 222.1h0M304.5 222.1h2.5M308.5 222.1h0.5M311 222.1h0M312.5 222.1h33M347.5 222.1h2M352 222.1h0M353.5 222.1h0M358.5 222.1h0M361 222.1h0M366 222.1h2M371.5 222.1h0M374 222.1h0M376.5 222.1h0M391 222.1h0M399.5 222.1h0M406 222.1h0M411 222.1h0M414.5 222.1h0M439 222.1h1M445 222.1h0M463.5 222.1h0M465.5 222.1h0M477.5 222.1h0M485.5 222.1h0M494 222.1h0M496 222.1h0M500 222.1h0M519.5 222.1h0M522.5 222.1h0M551 222.1h0M556.5 222.1h0M564 222.1h1M80.5 223.7h0M113.5 223.7h0M121.5 223.7h0M137 223.7h0M139 223.7h0M165.5 223.7h0M184 223.7h0M208.5 223.7h0M255 223.7h0M256.5 223.7h0M258 223.7h0M306.5 223.7h0M315.5 223.7h0M319.5 223.7h0M321 223.7h0M328 223.7h0M340 223.7h0M352 223.7h0M361.5 223.7h0M389 223.7h0M418 223.7h0.5M456 223.7h0M462 223.7h0M483 223.7h0M487.5 223.7h0M526 223.7h0M540 223.7h0M545 223.7h0.5M553.5 223.7h0M86.5 225.4h0M89.5 225.4h0M100.5 225.4h0M106 225.4h0M109.5 225.4h0.5M115.5 225.4h0M147.5 225.4h0M151 225.4h0M197.5 225.4h1M242 225.4h0M246 225.4h0M252 225.4h0.5M255.5 225.4h0M265 225.4h0M299.5 225.4h0M304.5 225.4h2.5M314 225.4h2M322.5 225.4h0M324 225.4h2M329.5 225.4h0.5M331.5 225.4h0M341 225.4h0M343.5 225.4h0M345.5 225.4h0M347.5 225.4h0M363 225.4h0M373.5 225.4h2M382.5 225.4h0M401.5 225.4h0M406.5 225.4h0M409 225.4h0M412 225.4h0M491.5 225.4h0M494 225.4h0M506 225.4h0M514 225.4h0M551 225.4h0M79.5 227h0M87 227h0M95.5 227h0M157 227h0M163 227h0M174 227h0M185 227h0M209.5 227h0M213 227h0M216.5 227h0M248.5 227h0M256.5 227h0M264.5 227h0M266.5 227h0M284.5 227h0M299.5 227h0M303 227h0M317 227h2.5M323.5 227h1.5M327 227h0M328.5 227h0M330 227h1M332.5 227h1M336 227h1.5M339 227h0M345 227h1M348 227h0M350 227h0M361 227h0M388 227h0M391.5 227h0M395 227h0M410 227h0M413.5 227h0M471 227h0M478.5 227h0M480.5 227h0M494 227h0M508.5 227h0M84.5 228.6h1M110 228.6h0M140 228.6h0M146.5 228.6h0.5M171 228.6h0M184.5 228.6h0M190 228.6h0M195 228.6h0M202.5 228.6h0M243 228.6h0M253 228.6h0M257.5 228.6h0M261.5 228.6h0M265.5 228.6h0M279.5 228.6h0M285 228.6h0M286.5 228.6h0M303.5 228.6h2M307.5 228.6h1.5M313.5 228.6h0M316 228.6h0.5M318 228.6h17.5M337 228.6h0M338.5 228.6h1.5M344 228.6h0.5M346.5 228.6h0M354.5 228.6h1M377.5 228.6h0M406.5 228.6h0M416 228.6h0M420.5 228.6h0M436 228.6h0M461.5 228.6h0M484.5 228.6h1M536.5 228.6h0M553.5 228.6h0M82.5 230.3h0M98 230.3h1M101 230.3h0M107 230.3h0M108.5 230.3h0M121 230.3h0M124.5 230.3h0M127 230.3h0M147.5 230.3h0M158.5 230.3h0M162 230.3h0M166.5 230.3h0M173.5 230.3h0M176 230.3h0M179 230.3h0M182.5 230.3h0M188 230.3h1.5M194 230.3h2M198.5 230.3h0M209 230.3h2M220.5 230.3h0M228 230.3h1M231.5 230.3h1.5M236.5 230.3h0M239.5 230.3h0M241.5 230.3h1.5M245 230.3h0M249.5 230.3h1M253 230.3h1M257 230.3h0.5M259 230.3h1M263 230.3h0.5M265.5 230.3h3.5M271 230.3h0M274 230.3h1M278.5 230.3h0M280 230.3h1.5M283 230.3h5.5M291 230.3h0.5M294 230.3h66.5M362 230.3h2M365.5 230.3h0M367 230.3h1.5M370.5 230.3h0M372 230.3h3M377 230.3h1M379.5 230.3h1M382 230.3h0.5M384 230.3h0M386 230.3h1M388.5 230.3h0M391 230.3h0M392.5 230.3h0M394 230.3h0.5M396.5 230.3h0M398.5 230.3h0M403.5 230.3h0M405 230.3h1M407.5 230.3h0M410.5 230.3h0M414 230.3h0M417 230.3h0M423 230.3h0.5M436 230.3h1.5M440 230.3h0M450 230.3h0M453.5 230.3h0M455 230.3h1.5M461 230.3h0M467.5 230.3h0M470 230.3h0.5M472 230.3h0M480 230.3h0.5M482 230.3h0M495 230.3h0M499.5 230.3h0M504 230.3h0M514 230.3h0M516 230.3h0M519 230.3h0M531 230.3h0M538 230.3h1M541.5 230.3h0M545 230.3h0M548.5 230.3h0M557.5 230.3h0M561.5 230.3h0.5M566.5 230.3h0M568 230.3h1M572 230.3h0M86.5 231.9h0M97 231.9h0M100 231.9h0M106.5 231.9h0M139 231.9h0M155.5 231.9h1M245.5 231.9h0M253.5 231.9h0M264 231.9h0M276.5 231.9h0M283 231.9h0M290.5 231.9h0M298 231.9h0M301 231.9h1M303.5 231.9h0M309.5 231.9h0M312 231.9h0M315.5 231.9h0M317 231.9h1.5M323.5 231.9h4.5M330 231.9h0M332 231.9h1M340 231.9h0M349.5 231.9h0M355 231.9h0M369 231.9h1M396 231.9h0M403 231.9h0M406.5 231.9h0M422 231.9h0M427.5 231.9h0M446.5 231.9h0M456.5 231.9h0M497 231.9h0M504 231.9h0.5M506.5 231.9h0M529 231.9h0M538 231.9h0M568 231.9h0M105 233.5h0M176.5 233.5h0M211.5 233.5h0M215.5 233.5h0M219 233.5h0M243 233.5h0M279 233.5h0M284.5 233.5h0M288.5 233.5h0M301.5 233.5h0M305 233.5h1M309 233.5h0M311.5 233.5h0M313 233.5h1M316 233.5h0.5M319 233.5h0M321 233.5h2.5M325 233.5h1.5M328 233.5h1M330.5 233.5h1.5M334 233.5h1.5M339 233.5h0M354.5 233.5h0.5M360 233.5h0M376.5 233.5h0M378.5 233.5h0M385 233.5h0M394 233.5h0M402.5 233.5h0M405 233.5h0M412 233.5h1M420 233.5h0M444 233.5h0M462.5 233.5h0M474.5 233.5h0M507 233.5h0M511 233.5h0M513 233.5h0M521 233.5h0M537.5 233.5h0M550 233.5h0M563 233.5h0M567.5 233.5h0M142 235.2h0M154.5 235.2h0M171 235.2h0M187.5 235.2h0M189.5 235.2h0M199 235.2h0M208 235.2h0M211.5 235.2h0M257 235.2h0M267 235.2h0M290.5 235.2h0M294.5 235.2h0M311 235.2h0M314.5 235.2h0M317 235.2h0M319 235.2h0M323.5 235.2h1M331 235.2h0M333.5 235.2h0M336 235.2h0M343.5 235.2h0M370.5 235.2h0M376.5 235.2h0M385 235.2h0M387 235.2h0M443.5 235.2h0M461 235.2h0M498 235.2h0M502.5 235.2h0M508.5 235.2h0M515 235.2h0M537.5 235.2h0M556.5 235.2h0M563 235.2h0M570.5 235.2h0M79.5 236.8h0M97.5 236.8h0M107.5 236.8h0M155 236.8h0M156.5 236.8h0M188.5 236.8h0M191.5 236.8h0M207.5 236.8h0M209.5 236.8h0M219 236.8h0M222 236.8h0M224 236.8h0M250 236.8h0M289 236.8h0M303.5 236.8h0.5M307.5 236.8h0M310 236.8h0M311.5 236.8h0M313.5 236.8h0.5M316 236.8h0M318.5 236.8h1M321 236.8h12.5M337.5 236.8h1.5M345.5 236.8h0M358.5 236.8h0M367 236.8h0M370 236.8h0M372 236.8h0M392 236.8h0M398 236.8h0M401.5 236.8h0M409 236.8h1M447 236.8h0M453.5 236.8h0M464 236.8h0M498 236.8h0M531 236.8h0M545 236.8h0M559 236.8h0M104.5 238.4h0M149.5 238.4h0M152.5 238.4h0M168.5 238.4h0M185.5 238.4h0M189 238.4h0M196.5 238.4h0M202.5 238.4h0M208.5 238.4h0M232.5 238.4h0M245.5 238.4h0M253 238.4h0M273 238.4h0M295 238.4h0M309.5 238.4h0M311 238.4h0M314.5 238.4h0M316.5 238.4h2.5M323 238.4h6M330.5 238.4h2.5M339 238.4h0M342 238.4h0M344 238.4h0M348 238.4h0M350 238.4h0.5M371.5 238.4h0M375 238.4h0M379.5 238.4h0M389.5 238.4h0M394 238.4h0M434.5 238.4h0M471.5 238.4h0M507 238.4h0M525 238.4h0M537.5 238.4h0M558.5 238.4h0M80 240h0M93.5 240h0M211.5 240h0M217 240h1M255.5 240h0M260.5 240h0M267 240h0M275 240h0M280 240h0.5M282 240h0M292 240h1M296.5 240h0M301 240h0M302.5 240h1M305.5 240h0.5M307.5 240h0M309 240h1M311.5 240h29.5M343 240h3.5M353 240h0M358 240h0M370.5 240h2M376 240h0M385 240h0M386.5 240h0M401 240h0M420 240h0M428.5 240h0M430 240h0.5M438 240h0M473 240h0M484 240h0M487 240h0M511.5 240h0.5M538.5 240h0.5M548.5 240h0M554.5 240h0M90.5 241.7h0M92 241.7h0M150.5 241.7h0M174.5 241.7h0.5M204 241.7h0M231.5 241.7h0M242 241.7h0M299.5 241.7h0M308.5 241.7h0M310.5 241.7h0M314.5 241.7h0M341 241.7h0M343.5 241.7h0M374 241.7h0M382.5 241.7h0M395 241.7h0M429 241.7h0M434.5 241.7h0M447 241.7h0M493.5 241.7h0M498.5 241.7h0M501 241.7h0M514 241.7h0M525.5 241.7h0M527.5 241.7h0M529 241.7h0M539.5 241.7h0M82.5 243.3h0M146 243.3h0M155.5 243.3h0M161 243.3h0M173 243.3h0M196.5 243.3h0M239.5 243.3h0M250.5 243.3h0M253 243.3h0M261 243.3h0M263.5 243.3h0M282 243.3h0M286 243.3h0M288.5 243.3h0M304 243.3h0M305.5 243.3h0M308 243.3h0M310 243.3h0M315 243.3h1.5M318 243.3h0M319.5 243.3h14M336 243.3h0.5M338.5 243.3h1M342 243.3h0.5M349.5 243.3h0M354 243.3h0M363.5 243.3h0M377.5 243.3h0M383.5 243.3h0M403 243.3h0M425 243.3h0M432 243.3h0M434 243.3h0M444.5 243.3h0M474.5 243.3h0M479.5 243.3h0M484 243.3h0.5M516 243.3h0M566.5 243.3h1M80 244.9h0M100 244.9h0M101.5 244.9h0M116 244.9h0M132 244.9h0M135.5 244.9h0M139.5 244.9h0M177 244.9h0M179.5 244.9h0M188.5 244.9h0M194.5 244.9h0M197 244.9h0M206 244.9h0M216 244.9h0M225 244.9h0M232.5 244.9h0.5M239 244.9h0M243.5 244.9h0M254.5 244.9h0.5M260.5 244.9h0M262 244.9h0M263.5 244.9h1M266.5 244.9h0.5M269 244.9h0M272.5 244.9h0M278.5 244.9h0M280 244.9h0.5M282 244.9h0M286.5 244.9h0M290.5 244.9h0M292 244.9h1.5M296 244.9h4M301.5 244.9h41.5M344.5 244.9h5.5M354.5 244.9h6M362 244.9h0M363.5 244.9h0M367 244.9h1M369.5 244.9h2.5M373.5 244.9h0M380.5 244.9h0M382 244.9h1.5M388.5 244.9h0M391 244.9h0.5M394 244.9h0M410 244.9h0M412 244.9h0M414 244.9h0M420 244.9h0M427 244.9h0.5M433.5 244.9h0.5M438 244.9h0M450 244.9h0M475.5 244.9h0M491.5 244.9h0M494 244.9h0M498.5 244.9h0M506.5 244.9h0M520 244.9h0M533 244.9h0M562.5 244.9h0M101 246.6h0M123.5 246.6h0M128.5 246.6h0M133.5 246.6h0M137 246.6h0M141 246.6h0M179.5 246.6h1.5M194 246.6h1.5M207.5 246.6h0M211.5 246.6h0M214.5 246.6h0M218 246.6h0M228.5 246.6h0M231 246.6h0M233 246.6h0M250.5 246.6h2.5M255 246.6h0.5M260 246.6h2M264.5 246.6h3M270.5 246.6h0M272.5 246.6h2M277.5 246.6h0.5M281 246.6h0M283.5 246.6h0M286 246.6h1M290.5 246.6h0M292 246.6h1.5M295 246.6h0M297 246.6h1.5M300.5 246.6h2M304 246.6h47.5M354.5 246.6h4.5M362 246.6h0M364 246.6h1M368.5 246.6h1M371 246.6h0M374 246.6h0M376.5 246.6h0M384.5 246.6h0.5M388.5 246.6h0.5M390.5 246.6h1M394 246.6h0M396 246.6h0M408 246.6h0M417 246.6h0M437 246.6h0.5M453.5 246.6h0M457 246.6h0M483 246.6h0M485 246.6h0M495.5 246.6h0M502.5 246.6h0M508 246.6h0M512 246.6h0M520.5 246.6h0M533 246.6h0M545.5 246.6h0.5M552.5 246.6h0M561 246.6h0M572 246.6h0M99 248.2h0M137 248.2h0M179 248.2h0M202.5 248.2h1M236.5 248.2h0M268 248.2h0M277 248.2h0M296.5 248.2h0M310 248.2h1.5M316 248.2h0M318.5 248.2h2M325.5 248.2h0M328.5 248.2h0M330 248.2h0M334.5 248.2h0M336 248.2h0M338.5 248.2h1M343 248.2h0M346.5 248.2h0M350 248.2h0M385 248.2h0M422.5 248.2h0.5M504 248.2h0M523.5 248.2h0M529.5 248.2h0M532.5 248.2h0M537.5 248.2h0M542 248.2h0M568 248.2h0M85 249.8h0M90 249.8h0M109.5 249.8h0M111.5 249.8h0M140.5 249.8h0M142.5 249.8h0M147 249.8h0M186 249.8h0.5M209 249.8h0M226.5 249.8h0M234.5 249.8h0M270.5 249.8h0M294.5 249.8h0M298.5 249.8h0M321 249.8h0M322.5 249.8h0.5M325 249.8h4M330.5 249.8h0M334.5 249.8h0.5M339.5 249.8h0M390.5 249.8h0M415.5 249.8h0M468.5 249.8h0M483.5 249.8h0M524.5 249.8h0M526 249.8h0M533 249.8h0M547 249.8h0M93.5 251.5h0M99 251.5h0M119.5 251.5h1M127 251.5h0M139 251.5h0M141.5 251.5h0M149 251.5h0M164 251.5h0M197 251.5h0M227 251.5h0M232.5 251.5h1M248 251.5h0M274 251.5h0M286 251.5h0M301 251.5h0.5M311.5 251.5h0M315.5 251.5h0M318.5 251.5h4M324.5 251.5h5M331 251.5h0.5M342 251.5h0.5M345 251.5h0M356.5 251.5h1M361.5 251.5h0M364 251.5h0M371 251.5h0M373.5 251.5h0M391 251.5h0M434 251.5h0M448.5 251.5h0M501 251.5h0M544 251.5h0M81.5 253.1h0M98 253.1h0M108 253.1h0M111.5 253.1h0M137.5 253.1h0M217.5 253.1h0M229 253.1h0M246 253.1h0M269 253.1h0M279 253.1h0.5M284.5 253.1h0M299.5 253.1h0M302.5 253.1h1M305.5 253.1h1M308 253.1h0M310.5 253.1h1.5M313.5 253.1h19.5M334.5 253.1h1M337.5 253.1h3M342 253.1h3M355.5 253.1h0M357.5 253.1h0M360.5 253.1h0M363 253.1h0M369.5 253.1h0M372.5 253.1h0M375 253.1h0M395 253.1h0M432.5 253.1h0M435.5 253.1h0.5M442 253.1h0M473 253.1h0M482.5 253.1h0M494.5 253.1h0M510.5 253.1h0M570 253.1h0M86.5 254.7h0M97 254.7h0M100.5 254.7h0M108.5 254.7h0M132.5 254.7h0M196.5 254.7h0M220.5 254.7h0M280 254.7h0M286 254.7h0M299 254.7h1.5M306.5 254.7h2.5M312.5 254.7h23.5M337.5 254.7h0.5M339.5 254.7h1.5M345 254.7h0.5M347 254.7h0M349 254.7h0M350.5 254.7h0.5M356 254.7h0M360.5 254.7h0M362 254.7h0M369 254.7h0M375 254.7h0M379.5 254.7h0.5M386.5 254.7h0M390 254.7h0M394 254.7h0M420 254.7h0M454.5 254.7h0M464.5 254.7h0M472 254.7h0M487.5 254.7h0M493 254.7h0M508.5 254.7h0M527 254.7h0M560 254.7h0M564.5 254.7h0M91 256.3h0M117.5 256.3h0M128 256.3h0M206 256.3h0M210 256.3h0M255 256.3h0M259.5 256.3h0M289.5 256.3h0M303 256.3h0M313 256.3h0M317.5 256.3h0M321.5 256.3h3M326 256.3h0M327.5 256.3h1.5M330.5 256.3h1M333 256.3h0M339.5 256.3h0M363 256.3h0M370 256.3h0M376.5 256.3h0M415.5 256.3h0M475 256.3h0M483.5 256.3h0M490.5 256.3h0M508.5 256.3h0M524.5 256.3h0M555 256.3h0M569.5 256.3h0M105 258h0M116 258h0M175 258h0M205 258h0M214 258h0M230.5 258h0M275.5 258h0M279.5 258h0M287.5 258h0M304.5 258h1.5M308 258h0M311.5 258h0M320 258h3.5M326.5 258h1M329 258h0.5M331.5 258h0M334.5 258h0M336 258h0.5M340.5 258h0M351.5 258h0M373 258h0M400 258h0M412 258h0M447.5 258h0M470 258h0M539.5 258h0M565 258h0M85.5 259.6h0M147 259.6h0M179.5 259.6h0M202.5 259.6h0M215 259.6h0M244.5 259.6h0M273.5 259.6h0M283.5 259.6h0M303.5 259.6h0M320 259.6h0M325 259.6h1.5M328 259.6h0.5M330.5 259.6h1M340.5 259.6h3M345.5 259.6h0M348.5 259.6h0M354.5 259.6h0M372 259.6h0M453.5 259.6h0M455.5 259.6h0M459 259.6h0M518 259.6h0M526 259.6h0M545 259.6h0M549.5 259.6h0M565.5 259.6h0M118.5 261.2h0M127.5 261.2h0M163.5 261.2h0.5M174.5 261.2h0M211 261.2h0M220 261.2h0M224 261.2h0M230 261.2h0M241 261.2h0M249 261.2h0M252.5 261.2h0M262 261.2h0M269.5 261.2h0M274 261.2h0M280 261.2h0M281.5 261.2h1M295.5 261.2h0M297.5 261.2h1.5M301 261.2h0M305 261.2h1.5M309.5 261.2h25M336 261.2h1.5M339 261.2h3.5M344.5 261.2h0M346 261.2h1M352 261.2h0M355 261.2h0M357 261.2h0.5M367 261.2h0M370 261.2h0M378 261.2h0M402.5 261.2h0.5M413 261.2h0M423 261.2h0M431.5 261.2h0M435 261.2h0M460.5 261.2h0M485 261.2h0M535 261.2h0M546 261.2h0M112.5 262.9h0M114 262.9h0M134 262.9h0M155 262.9h0M162.5 262.9h0M172.5 262.9h0M181 262.9h0M194 262.9h0M212.5 262.9h1M235 262.9h0M244.5 262.9h0M260.5 262.9h0M265 262.9h0M271 262.9h0M287 262.9h2M292.5 262.9h0M294.5 262.9h0M296 262.9h0M298 262.9h0.5M302 262.9h0M303.5 262.9h2M307.5 262.9h1M310 262.9h0.5M312.5 262.9h0M314 262.9h20M336 262.9h0.5M338.5 262.9h0M342 262.9h4.5M351 262.9h0M353 262.9h2M360 262.9h0M361.5 262.9h0M368 262.9h0M377 262.9h0M398 262.9h0M408.5 262.9h0M434.5 262.9h0M436.5 262.9h0M455 262.9h0M457.5 262.9h0M461.5 262.9h0M487.5 262.9h0M507.5 262.9h0M530 262.9h0M544 262.9h0M292 263.5h0M206 264.1h0M183 264.5h0M198 264.5h0M207.5 264.5h0M248 264.5h1M293 264.5h0M297 264.5h0M308.5 264.5h0.5M311 264.5h0M315 264.5h1M317.5 264.5h0M319 264.5h0M322.5 264.5h0.5M326.5 264.5h1M331.5 264.5h0M333.5 264.5h0.5M336.5 264.5h1M344 264.5h0M370.5 264.5h0M409.5 264.5h0M420 264.5h0M422 264.5h0M458.5 264.5h1M477 264.5h0M511 264.5h0M536.5 264.5h0M83.5 264.6h0M372.5 264.6h0M271 264.8h0M329 264.8h0M390 264.9h0M316.5 265.1h0M79 265.2h0M119 265.2h0M299.5 265.4h0M484.5 265.5h0M109.5 265.7h0M455 265.7h0M261 265.9h0M563 265.9h0M322 266.1h0M326.5 266.1h0M256.5 266.2h0M486 266.2h0M538 266.2h0M163 266.4h0M307 266.5h0M81 266.6h0M338.5 266.6h0M486.5 266.8h0M327 267.1h0M351 267.1h0M205.5 267.4h0M350 267.5h0M241 267.7h0M238 267.8h0M339 267.8h0M355.5 268h0M493.5 268h0M296 268.2h0M416.5 268.2h0M257.5 268.3h0M550 268.6h0M371.5 268.7h0M137.5 268.8h0M280.5 268.8h0M296 268.8h0M354 268.8h0M83.5 269.1h0M174 269.1h0M323.5 269.1h0M82 269.4h0M212 269.6h0M304 269.6h0M547 269.7h0M135 269.8h0M328 269.8h0M339.5 269.9h0M217.5 270h0M273.5 270.3h0M325.5 270.3h0M357.5 270.3h0M390.5 270.3h0M450 270.3h0M270 270.5h0M323.5 270.6h0M535 270.6h0M312 270.9h0M351 271h0M447 271h0M236.5 271.1h0M414 271.3h0M209.5 271.4h0M188.5 271.6h0M307 271.7h0M137.5 271.8h0M330.5 271.8h0M186.5 272h0M338 272.3h0M250 272.5h0M97.5 272.6h0M142.5 272.6h0M306.5 272.6h0M329.5 272.6h0M304 272.7h0M350.5 272.8h0M434 272.8h0M338.5 272.9h0M284.5 273h0M342 273h0M270 273.1h0M332 273.1h0M534 273.1h0M257.5 273.2h0M556 273.2h0M357.5 273.3h0M377 273.3h0M195.5 273.5h0M155 273.7h0M190 273.7h0M195 273.9h0M328 273.9h0M339.5 273.9h0M515.5 274.7h0M266.5 274.8h0M287 274.8h0M320.5 274.8h0M205.5 274.9h0M299.5 275.1h0M313 275.2h0M360.5 275.2h0M398.5 275.2h0M320.5 275.3h0M275.5 275.4h0M330 275.4h0M312.5 275.5h0M328.5 275.5h0M343 275.7h0M533.5 275.8h0M210 275.9h0M293 275.9h0M308.5 275.9h0M335.5 276.1h0M350.5 276.2h0M398 276.3h0M293.5 277h0M339 277h0M311.5 277.1h0M321.5 277.2h0M311.5 277.4h0M301 277.6h0M338 277.6h0M329 277.7h0M313.5 277.8h0M140.5 278.2h0M322 278.3h0M330 278.4h0M510 278.5h0M559 278.5h0M301.5 278.6h0M338.5 278.6h0M349.5 278.7h0M342 278.8h0M346 278.8h0M379.5 278.8h0M319.5 278.9h0M421 279h0M348.5 279.1h0M339 279.2h0M362.5 279.2h0M332 279.3h0M433.5 279.3h0M316.5 279.4h0M190.5 279.5h0M117 279.6h0M332.5 279.7h0M341 279.7h0M139 279.8h0M283.5 279.8h0M319 279.8h0M326 279.8h0M339 279.9h0M319 280h0M323.5 280h0M323.5 280.1h0M302.5 280.3h0M325 280.3h0M258 280.5h0M153 280.6h0M279.5 280.8h0M302 280.8h0M306.5 280.9h0M325.5 280.9h0M294.5 281h0M503 281.1h0M549.5 281.1h0M327 281.2h0M343 281.2h0M326.5 281.4h0M341 281.4h0M347 281.6h0M349.5 281.6h0M354.5 281.8h0M416 281.8h0M304.5 281.9h0M311.5 281.9h0M504 282h0M336 282.1h0M546 282.1h0M267 282.2h0M299.5 282.2h0M320.5 282.2h0M348 282.2h0M424 282.2h0M329.5 282.4h0M333 282.4h0M371.5 282.5h0M305 282.6h0M340 282.6h0M434 282.6h0M343 282.7h0M94 282.8h0M351 282.8h0M138.5 283h0M226.5 283h0M289.5 283.1h0M324 283.1h0M355 283.1h0M283 283.2h0M130 283.3h0M552.5 283.4h0M334.5 283.5h0M384 283.5h0M312.5 283.6h0M317.5 283.6h0M354.5 283.7h0M397 283.8h0M317 284h0M318.5 284h0M354.5 284h0M314 284.1h0M336 284.1h0M552.5 284.1h0M320.5 284.2h0M328.5 284.2h0M278.5 284.3h0M343.5 284.4h0M365.5 284.4h0M308 284.5h0M320.5 284.5h0M324 284.5h0M339 284.5h0M341.5 284.5h0M315.5 284.6h0M320.5 284.6h0M332.5 284.6h0M335 284.6h0M338 284.6h0M352 284.6h0M566 284.6h0M332 284.7h0M433.5 284.7h0M264.5 284.8h0M325.5 284.8h0M248 284.9h0M295 284.9h0M341.5 284.9h0M365.5 284.9h0M369.5 284.9h0M264 285h0M292 285h0M331 285h0M338 285h0M354.5 285h0M319 285.1h0M321 285.1h0M323.5 285.1h0.5M468.5 285.1h0M195 285.2h0M218.5 285.2h0M320 285.2h0M323.5 285.2h0M337 285.2h0M279 285.3h0M290 285.3h0M300 285.3h0M307 285.3h0M310 285.3h0M311.5 285.3h0M326.5 285.3h0M330 285.3h0M337 285.3h0M344 285.3h0M425 285.3h0M98.5 285.4h0M187.5 285.4h0M317 285.4h0M330 285.4h1M338.5 285.4h0M447.5 285.4h0M303 285.5h0M310 285.5h0M316 285.5h0M330.5 285.5h0M341 285.5h0M323.5 285.6h0M325.5 285.6h0M328.5 285.6h0M334 285.6h0M337 285.6h0M346 285.6h0M272.5 285.7h0M296 285.7h0M308.5 285.7h0M323.5 285.7h0M330 285.7h0M122 285.8h0M307.5 285.8h0M323 285.8h0M326 285.8h1M330 285.8h0M346.5 285.8h0M372.5 285.8h0M216 285.9h0M274 285.9h0M324 285.9h1.5M327 285.9h0.5M329 285.9h1M333 285.9h0M324 286h0M329 286h0M377.5 286h0M472 286h0M234 286.1h0M300.5 286.1h1M321.5 286.1h0M327.5 286.1h0M330 286.1h0M493.5 286.1h0M276.5 286.2h0M319.5 286.2h0M326.5 286.2h0M351.5 286.2h0M485.5 286.2h0M311 286.3h0M316 286.3h0M321 286.3h0M323.5 286.3h0M544 286.3h0M145 286.5h0M283 286.5h0M336 286.5h0M392 286.5h0M461 286.5h0M261.5 286.6h0M341 286.7h0M322 286.8h0M323.5 286.8h0M327 286.9h0M321.5 287h0M478 287h0M447 287.1h0M215 287.3h0M314.5 287.4h0M374 287.4h0M231 287.5h0M138.5 287.6h0M297.5 287.6h0M352 287.6h0M295.5 287.7h0M305 287.9h0M379 288h0M204 288.1h0M332.5 288.2h0M375 288.2h0M321.5 288.3h0.5M461.5 288.4h0M171 288.8h0M338.5 288.8h0M320 288.9h0M301.5 289h0.5M312.5 289h0M286 289.1h0M296.5 289.1h0M293.5 289.2h0M333.5 289.2h0M499 289.2h0M321 289.3h0M102.5 289.5h0M218.5 289.5h0M325 289.7h0M335.5 289.8h0M330.5 290.3h1M348 290.3h0M322.5 290.5h0M553.5 290.6h0M543 290.7h0M354 290.8h0M408 291.1h0M295.5 291.2h0M324 291.2h0M116 291.4h0M263.5 291.4h0M315.5 291.6h0M333 291.7h0M337.5 291.7h0M344 291.8h0M325 292.3h0M325.5 292.6h0M340 292.8h0M308 292.9h0M176.5 293.1h0M355.5 293.4h0M467.5 293.4h0M289.5 293.6h0M339 293.6h0M211 293.7h0M295 293.7h0M311 293.8h0M94 294h0M302.5 294h0M345.5 294.1h0M294 294.2h0M310.5 294.3h0M308.5 294.4h0M320.5 294.5h0M349.5 294.6h0M122.5 294.8h0M327 294.8h0M534.5 294.8h0M314 294.9h0M334 294.9h0M176 295h0M317.5 295h0M323 295h0M314.5 295.1h0M314 295.3h0M325 295.3h0M96 295.4h0M303.5 295.6h0M395 295.6h0M319.5 295.7h0M338.5 295.8h0M302 296.1h0M319 296.2h0M109 296.5h0M288 296.5h0M327.5 297.1h0M301 297.2h0M113.5 297.3h0M541.5 297.3h0M347.5 297.6h0M214.5 297.9h0M321.5 297.9h0M487 297.9h0M449 298h0M487.5 298h0M176.5 298.1h0M304.5 298.1h0M396 298.1h0M204 298.2h0M544 298.3h0M315.5 298.5h0M571 298.8h0M330.5 299.1h0M119 299.2h0M145.5 299.4h0M326.5 299.4h0M328.5 299.4h0M317.5 299.5h0M140.5 299.6h0M287.5 300.5h0M92 300.6h0M353.5 300.6h0M327.5 300.7h0M472.5 300.8h0M342 300.9h0M381.5 300.9h0M318.5 301.2h0M308 301.3h0M350.5 302h0M443 302h0M107.5 302.1h0M333 302.2h0M330 302.3h0M502.5 302.3h0M126 302.6h0M308.5 303.3h0M307 303.5h0M336.5 303.5h0M339 303.5h0M341 303.5h0M97 303.6h0M328 303.6h0M515.5 304.4h0M370 304.5h0M217 304.6h0M323 305.1h0M316.5 305.5h0M266.5 305.6h0M237 305.7h0M243 305.7h0M379.5 305.7h0M295 306h0M181.5 306.3h0M421.5 306.4h0M99.5 306.6h0M316.5 306.6h0M319.5 306.7h0M542 306.7h0M312 306.9h0M339.5 307.1h0M335 307.2h0M358.5 307.3h0M291.5 307.4h0M546.5 307.5h0M229 307.7h0M351.5 307.7h0M527 307.7h0M338 308h0M140.5 308.3h0M520.5 308.6h0M247 308.9h0M325 308.9h0M431 310.5h0M539 310.5h0M120 310.6h0M335 310.6h0M343 310.6h0M316 310.9h0M329.5 311h0M330 311.4h0M323 311.8h0M345 312h0M309.5 312.3h0M324.5 312.7h0M202.5 312.8h0M317.5 314h0M476 314.5h0M167.5 315.3h0M560 315.5h0M305.5 315.6h0M312 315.6h0M317.5 315.6h0M92.5 315.7h0M441 315.9h0M314.5 316h0M319 316.5h0M364.5 316.5h0M120 316.6h0M293 316.6h0M427.5 316.9h0M312.5 317.1h0M437 317.1h0M546.5 317.3h0M321 317.7h0M178 317.8h0M529.5 317.8h0M304 317.9h0M252 318h0M314.5 319.5h0M481.5 320.2h0M519.5 320.3h0M445 321h0M314 321.1h0M392.5 321.1h0M310.5 321.7h0M310.5 321.8h0M557 321.9h0M189 322.2h0M332.5 322.5h0M333.5 322.9h0M349.5 323.2h0M115 324h0M322 324h0M512 324h0M317 324.5h0M306 324.6h0M505.5 324.6h0M321.5 324.9h0M309.5 325h0M111.5 325.2h0M167.5 325.2h0M246.5 325.5h0M511 325.8h0M523 325.8h0M324.5 326h0M318 326.1h0M312.5 327h0M337.5 327h0M561.5 327h0M334.5 327.1h0M316 327.5h0M397.5 327.5h0M212 328.1h0M134.5 328.4h0M259 328.4h0M322 329.5h0M342.5 329.6h0M324 329.7h0M324.5 330h0M343 330.2h0M175.5 330.4h0M310 330.5h0M252.5 330.6h0M216 330.7h0M87 331.2h0M318 331.6h0M329 331.9h0M228 332h0M381.5 332.5h0M329.5 332.8h0M529 332.9h0M318 334.3h0M338 334.5h0M162 334.6h0M304.5 334.7h0M354.5 334.9h0M366 335h0M314.5 335.2h0M376 335.3h0M291 335.6h0M321.5 335.6h0M294.5 335.7h0M305 336.2h0M441.5 336.6h0M334.5 337.1h0M364 337.6h0M330.5 337.8h0M263 337.9h0M557.5 337.9h0M94.5 338.3h0M374.5 338.4h0M228 338.5h0M332 338.6h0M395.5 338.6h0M489.5 339.9h0M331.5 340.3h0M332 340.4h0M410.5 340.6h0M512 341.8h0M322.5 342h0M159.5 343h0M230 343h0M334 343.6h0M275 343.7h0M313 344h0M327.5 344.1h0M305.5 345.2h0M324.5 345.3h0M143.5 346.1h0M234.5 347h0M314.5 347h0M328.5 348.6h0M310 348.7h0M413.5 348.7h0M150.5 348.9h0M220 349h0M439 349.4h0M261.5 350.5h0M348.5 350.8h0M280 351.9h0M307 352.6h0M336 352.9h0M307 353.6h0M436.5 353.7h0M439.5 354h0M171 354.6h0M549 355.1h0M432.5 356.7h0M372 357.2h0M406.5 357.5h0M559 357.9h0M321 358h0M105.5 361h0M316 361.4h0M469.5 361.4h0M476.5 361.4h0M544.5 361.4h0M349 361.5h0M476.5 361.5h0M135 361.6h0M273.5 361.6h0M332 361.6h0M349 361.7h0M435 361.7h0M487.5 361.7h0M270.5 361.8h0M294 361.8h0M487.5 361.8h0M490 361.8h0M509.5 361.8h0M526.5 361.8h0M545.5 361.8h0M98.5 361.9h0M133.5 361.9h0M235.5 361.9h0M241.5 361.9h0M527 361.9h0M83.5 362h0M288.5 362h0M319 362h0M341 362h0M439.5 362h0M453.5 362h0M108 362.1h0M111 362.1h0M133.5 362.1h0M149.5 362.2h0M294.5 362.2h0M347 362.2h0M352.5 362.2h0M461.5 362.2h0M280 362.3h0M380 362.3h0M428.5 362.3h0M569 362.3h0M227 362.4h0M375 362.4h0M322.5 362.5h0M351 362.5h0M510.5 362.5h0M200 362.6h0M509 362.6h0M195.5 363h0M207 363.1h0M304.5 364.4h0M423 364.5h0M267 365.3h0M439.5 367.1h0M466 368.4h0M395 368.6h0M333.5 369.4h0M435.5 369.4h0M356.5 371.7h0M338.5 374.4h0M235 374.6h0M212.5 376.6h0M422.5 376.9h0M308.5 377.9h0M88 378.2h0M358.5 380.5h0M284.5 381.4h0M561 381.7h0M333.5 382.3h0M361 384.3h0M100 384.7h0M222 384.9h0M195 386.5h0M327.5 387.3h0M485.5 387.4h0M345 387.8h0M563.5 389.3h0M181 391.7h0M286.5 392.2h0M431 394.3h0M420 395.1h0M496 395.1h0M295 402.7h0M380 404.1h0M548.5 404.4h0M427.5 411.5h0M157.5 412.3h0M117 412.4h0M330.5 414.2h0M172 416.6h0M290.5 416.7h0M504.5 419h0M323.5 423.1h0M571 425.8h0M395 426.2h0M326.5 427h0M502.5 433.2h0M351 434.6h0M262 439.5h0M83.5 443.2h0M131 455.6h0M240 456.5h0M204 456.8h0M513 474.9h0M131.5 516h0" fill="none" stroke="#000" stroke-width="1.7" stroke-linecap="round"/>
<path d="M264.68 580.24V45.81M386.32 580.24V45.81" clip-path="url(#cp1)" fill="none" stroke="#006400" stroke-width="2.25" stroke-linecap="round" stroke-dasharray="9 9"/>
<path d="M59.76 264.25H594.19" clip-path="url(#cp1)" fill="none" stroke="#CD2626" stroke-width="2.25" stroke-linecap="round" stroke-dasharray="9 9"/>
<rect x="59.76" y="47.81" width="532.43" height="532.43" fill="none" stroke="#000" stroke-width="0.75"/>
<path d="M126.1 580.24H524.9M126.1 580.24v5.98M225.8 580.24v5.98M325.5 580.24v5.98M425.2 580.24v5.98M524.9 580.24v5.98" fill="none" stroke="#000" stroke-width="0.75"/>
<text x="125.8" y="601.9" text-anchor="middle" font-family="Liberation Sans, sans-serif" font-size="10">-400</text>
<text x="225.5" y="601.9" text-anchor="middle" font-family="Liberation Sans, sans-serif" font-size="10">-200</text>
<text x="325.2" y="601.9" text-anchor="middle" font-family="Liberation Sans, sans-serif" font-size="10">0</text>
<text x="424.9" y="601.9" text-anchor="middle" font-family="Liberation Sans, sans-serif" font-size="10">200</text>
<text x="524.6" y="601.9" text-anchor="middle" font-family="Liberation Sans, sans-serif" font-size="10">400</text>
<path d="M59.76 555.3V67.5M59.76 555.3h-5.98M59.76 474h-5.98M59.76 392.7h-5.98M59.76 311.4h-5.98M59.76 230.1h-5.98M59.76 148.8h-5.98M59.76 67.5h-5.98" fill="none" stroke="#000" stroke-width="0.75"/>
<text transform="translate(44.9 555.7) rotate(-90)" text-anchor="middle" font-family="Liberation Sans, sans-serif" font-size="10">70</text>
<text transform="translate(44.9 474.4) rotate(-90)" text-anchor="middle" font-family="Liberation Sans, sans-serif" font-size="10">75</text>
<text transform="translate(44.9 393.1) rotate(-90)" text-anchor="middle" font-family="Liberation Sans, sans-serif" font-size="10">80</text>
<text transform="translate(44.9 311.8) rotate(-90)" text-anchor="middle" font-family="Liberation Sans, sans-serif" font-size="10">85</text>
<text transform="translate(44.9 230.5) rotate(-90)" text-anchor="middle" font-family="Liberation Sans, sans-serif" font-size="10">90</text>
<text transform="translate(44.9 149.2) rotate(-90)" text-anchor="middle" font-family="Liberation Sans, sans-serif" font-size="10">95</text>
<text transform="translate(44.9 67.9) rotate(-90)" text-anchor="middle" font-family="Liberation Sans, sans-serif" font-size="10">100</text>
<text x="323" y="31.9" text-anchor="middle" font-family="Liberation Sans, sans-serif" font-size="21.5" font-weight="bold">Top hit for each peak</text>
<text x="325.98" y="625.7" text-anchor="middle" font-family="Liberation Sans, sans-serif" font-size="16">Distance to peak summit</text>
<text transform="translate(22.2 314.57) rotate(-90)" text-anchor="middle" font-family="Liberation Sans, sans-serif" font-size="16">Motif score</text>
<defs><radialGradient id="g1"><stop offset="0.00" stop-color="#0000ff" stop-opacity="0.110"/><stop offset="0.05" stop-color="#0000ff" stop-opacity="0.108"/><stop offset="0.10" stop-color="#0000ff" stop-opacity="0.103"/><stop offset="0.15" stop-color="#0000ff" stop-opacity="0.095"/><stop offset="0.20" stop-color="#0000ff" stop-opacity="0.085"/><stop offset="0.25" stop-color="#0000ff" stop-opacity="0.073"/><stop offset="0.30" stop-color="#0000ff" stop-opacity="0.061"/><stop offset="0.35" stop-color="#0000ff" stop-opacity="0.050"/><stop offset="0.40" stop-color="#0000ff" stop-opacity="0.039"/><stop offset="0.45" stop-color="#0000ff" stop-opacity="0.030"/><stop offset="0.50" stop-color="#0000ff" stop-opacity="0.022"/><stop offset="0.55" stop-color="#0000ff" stop-opacity="0.015"/><stop offset="0.60" stop-color="#0000ff" stop-opacity="0.011"/><stop offset="0.65" stop-color="#0000ff" stop-opacity="0.007"/><stop offset="0.70" stop-color="#0000ff" stop-opacity="0.005"/><stop offset="0.75" stop-color="#0000ff" stop-opacity="0.003"/><stop offset="0.80" stop-color="#0000ff" stop-opacity="0.002"/><stop offset="0.85" stop-color="#0000ff" stop-opacity="0.001"/><stop offset="0.90" stop-color="#0000ff" stop-opacity="0.001"/><stop offset="0.95" stop-color="#0000ff" stop-opacity="0.000"/><stop offset="1.00" stop-color="#0000ff" stop-opacity="0.000"/></radialGradient><radialGradient id="g2"><stop offset="0.00" stop-color="#0000ff" stop-opacity="0.010"/><stop offset="0.05" stop-color="#0000ff" stop-opacity="0.010"/><stop offset="0.10" stop-color="#0000ff" stop-opacity="0.009"/><stop offset="0.15" stop-color="#0000ff" stop-opacity="0.009"/><stop offset="0.20" stop-color="#0000ff" stop-opacity="0.008"/><stop offset="0.25" stop-color="#0000ff" stop-opacity="0.007"/><stop offset="0.30" stop-color="#0000ff" stop-opacity="0.006"/><stop offset="0.35" stop-color="#0000ff" stop-opacity="0.005"/><stop offset="0.40" stop-color="#0000ff" stop-opacity="0.004"/><stop offset="0.45" stop-color="#0000ff" stop-opacity="0.003"/><stop offset="0.50" stop-color="#0000ff" stop-opacity="0.002"/><stop offset="0.55" stop-color="#0000ff" stop-opacity="0.001"/><stop offset="0.60" stop-color="#0000ff" stop-opacity="0.001"/><stop offset="0.65" stop-color="#0000ff" stop-opacity="0.001"/><stop offset="0.70" stop-color="#0000ff" stop-opacity="0.000"/><stop offset="0.75" stop-color="#0000ff" stop-opacity="0.000"/><stop offset="0.80" stop-color="#0000ff" stop-opacity="0.000"/><stop offset="0.85" stop-color="#0000ff" stop-opacity="0.000"/><stop offset="0.90" stop-color="#0000ff" stop-opacity="0.000"/><stop offset="0.95" stop-color="#0000ff" stop-opacity="0.000"/><stop offset="1.00" stop-color="#0000ff" stop-opacity="0.000"/></radialGradient><radialGradient id="g3"><stop offset="0.00" stop-color="#0000ff" stop-opacity="0.060"/><stop offset="0.05" stop-color="#0000ff" stop-opacity="0.059"/><stop offset="0.10" stop-color="#0000ff" stop-opacity="0.056"/><stop offset="0.15" stop-color="#0000ff" stop-opacity="0.052"/><stop offset="0.20" stop-color="#0000ff" stop-opacity="0.046"/><stop offset="0.25" stop-color="#0000ff" stop-opacity="0.040"/><stop offset="0.30" stop-color="#0000ff" stop-opacity="0.033"/><stop offset="0.35" stop-color="#0000ff" stop-opacity="0.027"/><stop offset="0.40" stop-color="#0000ff" stop-opacity="0.021"/><stop offset="0.45" stop-color="#0000ff" stop-opacity="0.016"/><stop offset="0.50" stop-color="#0000ff" stop-opacity="0.012"/><stop offset="0.55" stop-color="#0000ff" stop-opacity="0.008"/><stop offset="0.60" stop-color="#0000ff" stop-opacity="0.006"/><stop offset="0.65" stop-color="#0000ff" stop-opacity="0.004"/><stop offset="0.70" stop-color="#0000ff" stop-opacity="0.003"/><stop offset="0.75" stop-color="#0000ff" stop-opacity="0.002"/><stop offset="0.80" stop-color="#0000ff" stop-opacity="0.001"/><stop offset="0.85" stop-color="#0000ff" stop-opacity="0.001"/><stop offset="0.90" stop-color="#0000ff" stop-opacity="0.000"/><stop offset="0.95" stop-color="#0000ff" stop-opacity="0.000"/><stop offset="1.00" stop-color="#0000ff" stop-opacity="0.000"/></radialGradient><radialGradient id="g4"><stop offset="0.00" stop-color="#0000ff" stop-opacity="0.130"/><stop offset="0.05" stop-color="#0000ff" stop-opacity="0.128"/><stop offset="0.10" stop-color="#0000ff" stop-opacity="0.122"/><stop offset="0.15" stop-color="#0000ff" stop-opacity="0.112"/><stop offset="0.20" stop-color="#0000ff" stop-opacity="0.100"/><stop offset="0.25" stop-color="#0000ff" stop-opacity="0.087"/><stop offset="0.30" stop-color="#0000ff" stop-opacity="0.073"/><stop offset="0.35" stop-color="#0000ff" stop-opacity="0.059"/><stop offset="0.40" stop-color="#0000ff" stop-opacity="0.046"/><stop offset="0.45" stop-color="#0000ff" stop-opacity="0.035"/><stop offset="0.50" stop-color="#0000ff" stop-opacity="0.026"/><stop offset="0.55" stop-color="#0000ff" stop-opacity="0.018"/><stop offset="0.60" stop-color="#0000ff" stop-opacity="0.013"/><stop offset="0.65" stop-color="#0000ff" stop-opacity="0.008"/><stop offset="0.70" stop-color="#0000ff" stop-opacity="0.005"/><stop offset="0.75" stop-color="#0000ff" stop-opacity="0.003"/><stop offset="0.80" stop-color="#0000ff" stop-opacity="0.002"/><stop offset="0.85" stop-color="#0000ff" stop-opacity="0.001"/><stop offset="0.90" stop-color="#0000ff" stop-opacity="0.001"/><stop offset="0.95" stop-color="#0000ff" stop-opacity="0.000"/><stop offset="1.00" stop-color="#0000ff" stop-opacity="0.000"/></radialGradient><radialGradient id="g5"><stop offset="0.00" stop-color="#0000ff" stop-opacity="0.050"/><stop offset="0.05" stop-color="#0000ff" stop-opacity="0.049"/><stop offset="0.10" stop-color="#0000ff" stop-opacity="0.047"/><stop offset="0.15" stop-color="#0000ff" stop-opacity="0.043"/><stop offset="0.20" stop-color="#0000ff" stop-opacity="0.039"/><stop offset="0.25" stop-color="#0000ff" stop-opacity="0.033"/><stop offset="0.30" stop-color="#0000ff" stop-opacity="0.028"/><stop offset="0.35" stop-color="#0000ff" stop-opacity="0.023"/><stop offset="0.40" stop-color="#0000ff" stop-opacity="0.018"/><stop offset="0.45" stop-color="#0000ff" stop-opacity="0.013"/><stop offset="0.50" stop-color="#0000ff" stop-opacity="0.010"/><stop offset="0.55" stop-color="#0000ff" stop-opacity="0.007"/><stop offset="0.60" stop-color="#0000ff" stop-opacity="0.005"/><stop offset="0.65" stop-color="#0000ff" stop-opacity="0.003"/><stop offset="0.70" stop-color="#0000ff" stop-opacity="0.002"/><stop offset="0.75" stop-color="#0000ff" stop-opacity="0.001"/><stop offset="0.80" stop-color="#0000ff" stop-opacity="0.001"/><stop offset="0.85" stop-color="#0000ff" stop-opacity="0.000"/><stop offset="0.90" stop-color="#0000ff" stop-opacity="0.000"/><stop offset="0.95" stop-color="#0000ff" stop-opacity="0.000"/><stop offset="1.00" stop-color="#0000ff" stop-opacity="0.000"/></radialGradient><radialGradient id="g6"><stop offset="0.00" stop-color="#0000ff" stop-opacity="0.030"/><stop offset="0.05" stop-color="#0000ff" stop-opacity="0.030"/><stop offset="0.10" stop-color="#0000ff" stop-opacity="0.028"/><stop offset="0.15" stop-color="#0000ff" stop-opacity="0.026"/><stop offset="0.20" stop-color="#0000ff" stop-opacity="0.023"/><stop offset="0.25" stop-color="#0000ff" stop-opacity="0.020"/><stop offset="0.30" stop-color="#0000ff" stop-opacity="0.017"/><stop offset="0.35" stop-color="#0000ff" stop-opacity="0.014"/><stop offset="0.40" stop-color="#0000ff" stop-opacity="0.011"/><stop offset="0.45" stop-color="#0000ff" stop-opacity="0.008"/><stop offset="0.50" stop-color="#0000ff" stop-opacity="0.006"/><stop offset="0.55" stop-color="#0000ff" stop-opacity="0.004"/><stop offset="0.60" stop-color="#0000ff" stop-opacity="0.003"/><stop offset="0.65" stop-color="#0000ff" stop-opacity="0.002"/><stop offset="0.70" stop-color="#0000ff" stop-opacity="0.001"/><stop offset="0.75" stop-color="#0000ff" stop-opacity="0.001"/><stop offset="0.80" stop-color="#0000ff" stop-opacity="0.000"/><stop offset="0.85" stop-color="#0000ff" stop-opacity="0.000"/><stop offset="0.90" stop-color="#0000ff" stop-opacity="0.000"/><stop offset="0.95" stop-color="#0000ff" stop-opacity="0.000"/><stop offset="1.00" stop-color="#0000ff" stop-opacity="0.000"/></radialGradient><radialGradient id="g7"><stop offset="0.00" stop-color="#0000ff" stop-opacity="0.020"/><stop offset="0.05" stop-color="#0000ff" stop-opacity="0.020"/><stop offset="0.10" stop-color="#0000ff" stop-opacity="0.019"/><stop offset="0.15" stop-color="#0000ff" stop-opacity="0.017"/><stop offset="0.20" stop-color="#0000ff" stop-opacity="0.015"/><stop offset="0.25" stop-color="#0000ff" stop-opacity="0.013"/><stop offset="0.30" stop-color="#0000ff" stop-opacity="0.011"/><stop offset="0.35" stop-color="#0000ff" stop-opacity="0.009"/><stop offset="0.40" stop-color="#0000ff" stop-opacity="0.007"/><stop offset="0.45" stop-color="#0000ff" stop-opacity="0.005"/><stop offset="0.50" stop-color="#0000ff" stop-opacity="0.004"/><stop offset="0.55" stop-color="#0000ff" stop-opacity="0.003"/><stop offset="0.60" stop-color="#0000ff" stop-opacity="0.002"/><stop offset="0.65" stop-color="#0000ff" stop-opacity="0.001"/><stop offset="0.70" stop-color="#0000ff" stop-opacity="0.001"/><stop offset="0.75" stop-color="#0000ff" stop-opacity="0.001"/><stop offset="0.80" stop-color="#0000ff" stop-opacity="0.000"/><stop offset="0.85" stop-color="#0000ff" stop-opacity="0.000"/><stop offset="0.90" stop-color="#0000ff" stop-opacity="0.000"/><stop offset="0.95" stop-color="#0000ff" stop-opacity="0.000"/><stop offset="1.00" stop-color="#0000ff" stop-opacity="0.000"/></radialGradient><radialGradient id="g8"><stop offset="0.00" stop-color="#0000ff" stop-opacity="0.015"/><stop offset="0.05" stop-color="#0000ff" stop-opacity="0.015"/><stop offset="0.10" stop-color="#0000ff" stop-opacity="0.014"/><stop offset="0.15" stop-color="#0000ff" stop-opacity="0.013"/><stop offset="0.20" stop-color="#0000ff" stop-opacity="0.012"/><stop offset="0.25" stop-color="#0000ff" stop-opacity="0.010"/><stop offset="0.30" stop-color="#0000ff" stop-opacity="0.008"/><stop offset="0.35" stop-color="#0000ff" stop-opacity="0.007"/><stop offset="0.40" stop-color="#0000ff" stop-opacity="0.005"/><stop offset="0.45" stop-color="#0000ff" stop-opacity="0.004"/><stop offset="0.50" stop-color="#0000ff" stop-opacity="0.003"/><stop offset="0.55" stop-color="#0000ff" stop-opacity="0.002"/><stop offset="0.60" stop-color="#0000ff" stop-opacity="0.001"/><stop offset="0.65" stop-color="#0000ff" stop-opacity="0.001"/><stop offset="0.70" stop-color="#0000ff" stop-opacity="0.001"/><stop offset="0.75" stop-color="#0000ff" stop-opacity="0.000"/><stop offset="0.80" stop-color="#0000ff" stop-opacity="0.000"/><stop offset="0.85" stop-color="#0000ff" stop-opacity="0.000"/><stop offset="0.90" stop-color="#0000ff" stop-opacity="0.000"/><stop offset="0.95" stop-color="#0000ff" stop-opacity="0.000"/><stop offset="1.00" stop-color="#0000ff" stop-opacity="0.000"/></radialGradient><radialGradient id="g9"><stop offset="0.00" stop-color="#0000ff" stop-opacity="0.008"/><stop offset="0.05" stop-color="#0000ff" stop-opacity="0.008"/><stop offset="0.10" stop-color="#0000ff" stop-opacity="0.007"/><stop offset="0.15" stop-color="#0000ff" stop-opacity="0.007"/><stop offset="0.20" stop-color="#0000ff" stop-opacity="0.006"/><stop offset="0.25" stop-color="#0000ff" stop-opacity="0.005"/><stop offset="0.30" stop-color="#0000ff" stop-opacity="0.004"/><stop offset="0.35" stop-color="#0000ff" stop-opacity="0.004"/><stop offset="0.40" stop-color="#0000ff" stop-opacity="0.003"/><stop offset="0.45" stop-color="#0000ff" stop-opacity="0.002"/><stop offset="0.50" stop-color="#0000ff" stop-opacity="0.002"/><stop offset="0.55" stop-color="#0000ff" stop-opacity="0.001"/><stop offset="0.60" stop-color="#0000ff" stop-opacity="0.001"/><stop offset="0.65" stop-color="#0000ff" stop-opacity="0.001"/><stop offset="0.70" stop-color="#0000ff" stop-opacity="0.000"/><stop offset="0.75" stop-color="#0000ff" stop-opacity="0.000"/><stop offset="0.80" stop-color="#0000ff" stop-opacity="0.000"/><stop offset="0.85" stop-color="#0000ff" stop-opacity="0.000"/><stop offset="0.90" stop-color="#0000ff" stop-opacity="0.000"/><stop offset="0.95" stop-color="#0000ff" stop-opacity="0.000"/><stop offset="1.00" stop-color="#0000ff" stop-opacity="0.000"/></radialGradient><radialGradient id="g10"><stop offset="0.00" stop-color="#0000ff" stop-opacity="0.004"/><stop offset="0.05" stop-color="#0000ff" stop-opacity="0.004"/><stop offset="0.10" stop-color="#0000ff" stop-opacity="0.004"/><stop offset="0.15" stop-color="#0000ff" stop-opacity="0.003"/><stop offset="0.20" stop-color="#0000ff" stop-opacity="0.003"/><stop offset="0.25" stop-color="#0000ff" stop-opacity="0.003"/><stop offset="0.30" stop-color="#0000ff" stop-opacity="0.002"/><stop offset="0.35" stop-color="#0000ff" stop-opacity="0.002"/><stop offset="0.40" stop-color="#0000ff" stop-opacity="0.001"/><stop offset="0.45" stop-color="#0000ff" stop-opacity="0.001"/><stop offset="0.50" stop-color="#0000ff" stop-opacity="0.001"/><stop offset="0.55" stop-color="#0000ff" stop-opacity="0.001"/><stop offset="0.60" stop-color="#0000ff" stop-opacity="0.000"/><stop offset="0.65" stop-color="#0000ff" stop-opacity="0.000"/><stop offset="0.70" stop-color="#0000ff" stop-opacity="0.000"/><stop offset="0.75" stop-color="#0000ff" stop-opacity="0.000"/><stop offset="0.80" stop-color="#0000ff" stop-opacity="0.000"/><stop offset="0.85" stop-color="#0000ff" stop-opacity="0.000"/><stop offset="0.90" stop-color="#0000ff" stop-opacity="0.000"/><stop offset="0.95" stop-color="#0000ff" stop-opacity="0.000"/><stop offset="1.00" stop-color="#0000ff" stop-opacity="0.000"/></radialGradient><radialGradient id="g11"><stop offset="0.00" stop-color="#0000ff" stop-opacity="0.450"/><stop offset="0.05" stop-color="#0000ff" stop-opacity="0.443"/><stop offset="0.10" stop-color="#0000ff" stop-opacity="0.422"/><stop offset="0.15" stop-color="#0000ff" stop-opacity="0.389"/><stop offset="0.20" stop-color="#0000ff" stop-opacity="0.347"/><stop offset="0.25" stop-color="#0000ff" stop-opacity="0.300"/><stop offset="0.30" stop-color="#0000ff" stop-opacity="0.251"/><stop offset="0.35" stop-color="#0000ff" stop-opacity="0.203"/><stop offset="0.40" stop-color="#0000ff" stop-opacity="0.160"/><stop offset="0.45" stop-color="#0000ff" stop-opacity="0.121"/><stop offset="0.50" stop-color="#0000ff" stop-opacity="0.089"/><stop offset="0.55" stop-color="#0000ff" stop-opacity="0.063"/><stop offset="0.60" stop-color="#0000ff" stop-opacity="0.044"/><stop offset="0.65" stop-color="#0000ff" stop-opacity="0.029"/><stop offset="0.70" stop-color="#0000ff" stop-opacity="0.019"/><stop offset="0.75" stop-color="#0000ff" stop-opacity="0.012"/><stop offset="0.80" stop-color="#0000ff" stop-opacity="0.007"/><stop offset="0.85" stop-color="#0000ff" stop-opacity="0.004"/><stop offset="0.90" stop-color="#0000ff" stop-opacity="0.002"/><stop offset="0.95" stop-color="#0000ff" stop-opacity="0.001"/><stop offset="1.00" stop-color="#0000ff" stop-opacity="0.000"/></radialGradient><radialGradient id="g12"><stop offset="0.00" stop-color="#0000ff" stop-opacity="0.150"/><stop offset="0.05" stop-color="#0000ff" stop-opacity="0.148"/><stop offset="0.10" stop-color="#0000ff" stop-opacity="0.141"/><stop offset="0.15" stop-color="#0000ff" stop-opacity="0.130"/><stop offset="0.20" stop-color="#0000ff" stop-opacity="0.116"/><stop offset="0.25" stop-color="#0000ff" stop-opacity="0.100"/><stop offset="0.30" stop-color="#0000ff" stop-opacity="0.084"/><stop offset="0.35" stop-color="#0000ff" stop-opacity="0.068"/><stop offset="0.40" stop-color="#0000ff" stop-opacity="0.053"/><stop offset="0.45" stop-color="#0000ff" stop-opacity="0.040"/><stop offset="0.50" stop-color="#0000ff" stop-opacity="0.030"/><stop offset="0.55" stop-color="#0000ff" stop-opacity="0.021"/><stop offset="0.60" stop-color="#0000ff" stop-opacity="0.015"/><stop offset="0.65" stop-color="#0000ff" stop-opacity="0.010"/><stop offset="0.70" stop-color="#0000ff" stop-opacity="0.006"/><stop offset="0.75" stop-color="#0000ff" stop-opacity="0.004"/><stop offset="0.80" stop-color="#0000ff" stop-opacity="0.002"/><stop offset="0.85" stop-color="#0000ff" stop-opacity="0.001"/><stop offset="0.90" stop-color="#0000ff" stop-opacity="0.001"/><stop offset="0.95" stop-color="#0000ff" stop-opacity="0.000"/><stop offset="1.00" stop-color="#0000ff" stop-opacity="0.000"/></radialGradient><radialGradient id="g13"><stop offset="0.00" stop-color="#0000ff" stop-opacity="0.500"/><stop offset="0.05" stop-color="#0000ff" stop-opacity="0.492"/><stop offset="0.10" stop-color="#0000ff" stop-opacity="0.469"/><stop offset="0.15" stop-color="#0000ff" stop-opacity="0.432"/><stop offset="0.20" stop-color="#0000ff" stop-opacity="0.386"/><stop offset="0.25" stop-color="#0000ff" stop-opacity="0.333"/><stop offset="0.30" stop-color="#0000ff" stop-opacity="0.279"/><stop offset="0.35" stop-color="#0000ff" stop-opacity="0.226"/><stop offset="0.40" stop-color="#0000ff" stop-opacity="0.177"/><stop offset="0.45" stop-color="#0000ff" stop-opacity="0.135"/><stop offset="0.50" stop-color="#0000ff" stop-opacity="0.099"/><stop offset="0.55" stop-color="#0000ff" stop-opacity="0.070"/><stop offset="0.60" stop-color="#0000ff" stop-opacity="0.049"/><stop offset="0.65" stop-color="#0000ff" stop-opacity="0.032"/><stop offset="0.70" stop-color="#0000ff" stop-opacity="0.021"/><stop offset="0.75" stop-color="#0000ff" stop-opacity="0.013"/><stop offset="0.80" stop-color="#0000ff" stop-opacity="0.008"/><stop offset="0.85" stop-color="#0000ff" stop-opacity="0.005"/><stop offset="0.90" stop-color="#0000ff" stop-opacity="0.003"/><stop offset="0.95" stop-color="#0000ff" stop-opacity="0.001"/><stop offset="1.00" stop-color="#0000ff" stop-opacity="0.000"/></radialGradient><radialGradient id="g14"><stop offset="0.00" stop-color="#0000ff" stop-opacity="0.140"/><stop offset="0.05" stop-color="#0000ff" stop-opacity="0.138"/><stop offset="0.10" stop-color="#0000ff" stop-opacity="0.131"/><stop offset="0.15" stop-color="#0000ff" stop-opacity="0.121"/><stop offset="0.20" stop-color="#0000ff" stop-opacity="0.108"/><stop offset="0.25" stop-color="#0000ff" stop-opacity="0.093"/><stop offset="0.30" stop-color="#0000ff" stop-opacity="0.078"/><stop offset="0.35" stop-color="#0000ff" stop-opacity="0.063"/><stop offset="0.40" stop-color="#0000ff" stop-opacity="0.050"/><stop offset="0.45" stop-color="#0000ff" stop-opacity="0.038"/><stop offset="0.50" stop-color="#0000ff" stop-opacity="0.028"/><stop offset="0.55" stop-color="#0000ff" stop-opacity="0.020"/><stop offset="0.60" stop-color="#0000ff" stop-opacity="0.014"/><stop offset="0.65" stop-color="#0000ff" stop-opacity="0.009"/><stop offset="0.70" stop-color="#0000ff" stop-opacity="0.006"/><stop offset="0.75" stop-color="#0000ff" stop-opacity="0.004"/><stop offset="0.80" stop-color="#0000ff" stop-opacity="0.002"/><stop offset="0.85" stop-color="#0000ff" stop-opacity="0.001"/><stop offset="0.90" stop-color="#0000ff" stop-opacity="0.001"/><stop offset="0.95" stop-color="#0000ff" stop-opacity="0.000"/><stop offset="1.00" stop-color="#0000ff" stop-opacity="0.000"/></radialGradient><radialGradient id="g15"><stop offset="0.00" stop-color="#0000ff" stop-opacity="0.100"/><stop offset="0.05" stop-color="#0000ff" stop-opacity="0.098"/><stop offset="0.10" stop-color="#0000ff" stop-opacity="0.094"/><stop offset="0.15" stop-color="#0000ff" stop-opacity="0.086"/><stop offset="0.20" stop-color="#0000ff" stop-opacity="0.077"/><stop offset="0.25" stop-color="#0000ff" stop-opacity="0.067"/><stop offset="0.30" stop-color="#0000ff" stop-opacity="0.056"/><stop offset="0.35" stop-color="#0000ff" stop-opacity="0.045"/><stop offset="0.40" stop-color="#0000ff" stop-opacity="0.035"/><stop offset="0.45" stop-color="#0000ff" stop-opacity="0.027"/><stop offset="0.50" stop-color="#0000ff" stop-opacity="0.020"/><stop offset="0.55" stop-color="#0000ff" stop-opacity="0.014"/><stop offset="0.60" stop-color="#0000ff" stop-opacity="0.010"/><stop offset="0.65" stop-color="#0000ff" stop-opacity="0.006"/><stop offset="0.70" stop-color="#0000ff" stop-opacity="0.004"/><stop offset="0.75" stop-color="#0000ff" stop-opacity="0.003"/><stop offset="0.80" stop-color="#0000ff" stop-opacity="0.002"/><stop offset="0.85" stop-color="#0000ff" stop-opacity="0.001"/><stop offset="0.90" stop-color="#0000ff" stop-opacity="0.001"/><stop offset="0.95" stop-color="#0000ff" stop-opacity="0.000"/><stop offset="1.00" stop-color="#0000ff" stop-opacity="0.000"/></radialGradient><radialGradient id="g16"><stop offset="0.00" stop-color="#0000ff" stop-opacity="0.040"/><stop offset="0.05" stop-color="#0000ff" stop-opacity="0.039"/><stop offset="0.10" stop-color="#0000ff" stop-opacity="0.037"/><stop offset="0.15" stop-color="#0000ff" stop-opacity="0.035"/><stop offset="0.20" stop-color="#0000ff" stop-opacity="0.031"/><stop offset="0.25" stop-color="#0000ff" stop-opacity="0.027"/><stop offset="0.30" stop-color="#0000ff" stop-opacity="0.022"/><stop offset="0.35" stop-color="#0000ff" stop-opacity="0.018"/><stop offset="0.40" stop-color="#0000ff" stop-opacity="0.014"/><stop offset="0.45" stop-color="#0000ff" stop-opacity="0.011"/><stop offset="0.50" stop-color="#0000ff" stop-opacity="0.008"/><stop offset="0.55" stop-color="#0000ff" stop-opacity="0.006"/><stop offset="0.60" stop-color="#0000ff" stop-opacity="0.004"/><stop offset="0.65" stop-color="#0000ff" stop-opacity="0.003"/><stop offset="0.70" stop-color="#0000ff" stop-opacity="0.002"/><stop offset="0.75" stop-color="#0000ff" stop-opacity="0.001"/><stop offset="0.80" stop-color="#0000ff" stop-opacity="0.001"/><stop offset="0.85" stop-color="#0000ff" stop-opacity="0.000"/><stop offset="0.90" stop-color="#0000ff" stop-opacity="0.000"/><stop offset="0.95" stop-color="#0000ff" stop-opacity="0.000"/><stop offset="1.00" stop-color="#0000ff" stop-opacity="0.000"/></radialGradient><radialGradient id="g17"><stop offset="0.00" stop-color="#0000ff" stop-opacity="0.070"/><stop offset="0.05" stop-color="#0000ff" stop-opacity="0.069"/><stop offset="0.10" stop-color="#0000ff" stop-opacity="0.066"/><stop offset="0.15" stop-color="#0000ff" stop-opacity="0.061"/><stop offset="0.20" stop-color="#0000ff" stop-opacity="0.054"/><stop offset="0.25" stop-color="#0000ff" stop-opacity="0.047"/><stop offset="0.30" stop-color="#0000ff" stop-opacity="0.039"/><stop offset="0.35" stop-color="#0000ff" stop-opacity="0.032"/><stop offset="0.40" stop-color="#0000ff" stop-opacity="0.025"/><stop offset="0.45" stop-color="#0000ff" stop-opacity="0.019"/><stop offset="0.50" stop-color="#0000ff" stop-opacity="0.014"/><stop offset="0.55" stop-color="#0000ff" stop-opacity="0.010"/><stop offset="0.60" stop-color="#0000ff" stop-opacity="0.007"/><stop offset="0.65" stop-color="#0000ff" stop-opacity="0.005"/><stop offset="0.70" stop-color="#0000ff" stop-opacity="0.003"/><stop offset="0.75" stop-color="#0000ff" stop-opacity="0.002"/><stop offset="0.80" stop-color="#0000ff" stop-opacity="0.001"/><stop offset="0.85" stop-color="#0000ff" stop-opacity="0.001"/><stop offset="0.90" stop-color="#0000ff" stop-opacity="0.000"/><stop offset="0.95" stop-color="#0000ff" stop-opacity="0.000"/><stop offset="1.00" stop-color="#0000ff" stop-opacity="0.000"/></radialGradient><radialGradient id="g18"><stop offset="0.00" stop-color="#0000ff" stop-opacity="1.000"/><stop offset="0.05" stop-color="#0000ff" stop-opacity="1.000"/><stop offset="0.10" stop-color="#0000ff" stop-opacity="1.000"/><stop offset="0.15" stop-color="#0000ff" stop-opacity="1.000"/><stop offset="0.20" stop-color="#0000ff" stop-opacity="1.000"/><stop offset="0.25" stop-color="#0000ff" stop-opacity="1.000"/><stop offset="0.30" stop-color="#0000ff" stop-opacity="1.000"/><stop offset="0.35" stop-color="#0000ff" stop-opacity="1.000"/><stop offset="0.40" stop-color="#0000ff" stop-opacity="1.000"/><stop offset="0.45" stop-color="#0000ff" stop-opacity="1.000"/><stop offset="0.50" stop-color="#0000ff" stop-opacity="0.891"/><stop offset="0.55" stop-color="#0000ff" stop-opacity="0.634"/><stop offset="0.60" stop-color="#0000ff" stop-opacity="0.437"/><stop offset="0.65" stop-color="#0000ff" stop-opacity="0.291"/><stop offset="0.70" stop-color="#0000ff" stop-opacity="0.188"/><stop offset="0.75" stop-color="#0000ff" stop-opacity="0.118"/><stop offset="0.80" stop-color="#0000ff" stop-opacity="0.071"/><stop offset="0.85" stop-color="#0000ff" stop-opacity="0.042"/><stop offset="0.90" stop-color="#0000ff" stop-opacity="0.024"/><stop offset="0.95" stop-color="#0000ff" stop-opacity="0.013"/><stop offset="1.00" stop-color="#0000ff" stop-opacity="0.000"/></radialGradient><radialGradient id="g19"><stop offset="0.00" stop-color="#0000ff" stop-opacity="0.120"/><stop offset="0.05" stop-color="#0000ff" stop-opacity="0.118"/><stop offset="0.10" stop-color="#0000ff" stop-opacity="0.112"/><stop offset="0.15" stop-color="#0000ff" stop-opacity="0.104"/><stop offset="0.20" stop-color="#0000ff" stop-opacity="0.093"/><stop offset="0.25" stop-color="#0000ff" stop-opacity="0.080"/><stop offset="0.30" stop-color="#0000ff" stop-opacity="0.067"/><stop offset="0.35" stop-color="#0000ff" stop-opacity="0.054"/><stop offset="0.40" stop-color="#0000ff" stop-opacity="0.043"/><stop offset="0.45" stop-color="#0000ff" stop-opacity="0.032"/><stop offset="0.50" stop-color="#0000ff" stop-opacity="0.024"/><stop offset="0.55" stop-color="#0000ff" stop-opacity="0.017"/><stop offset="0.60" stop-color="#0000ff" stop-opacity="0.012"/><stop offset="0.65" stop-color="#0000ff" stop-opacity="0.008"/><stop offset="0.70" stop-color="#0000ff" stop-opacity="0.005"/><stop offset="0.75" stop-color="#0000ff" stop-opacity="0.003"/><stop offset="0.80" stop-color="#0000ff" stop-opacity="0.002"/><stop offset="0.85" stop-color="#0000ff" stop-opacity="0.001"/><stop offset="0.90" stop-color="#0000ff" stop-opacity="0.001"/><stop offset="0.95" stop-color="#0000ff" stop-opacity="0.000"/><stop offset="1.00" stop-color="#0000ff" stop-opacity="0.000"/></radialGradient><radialGradient id="g20"><stop offset="0.00" stop-color="#0000ff" stop-opacity="1.000"/><stop offset="0.05" stop-color="#0000ff" stop-opacity="1.000"/><stop offset="0.10" stop-color="#0000ff" stop-opacity="1.000"/><stop offset="0.15" stop-color="#0000ff" stop-opacity="1.000"/><stop offset="0.20" stop-color="#0000ff" stop-opacity="1.000"/><stop offset="0.25" stop-color="#0000ff" stop-opacity="1.000"/><stop offset="0.30" stop-color="#0000ff" stop-opacity="1.000"/><stop offset="0.35" stop-color="#0000ff" stop-opacity="1.000"/><stop offset="0.40" stop-color="#0000ff" stop-opacity="0.957"/><stop offset="0.45" stop-color="#0000ff" stop-opacity="0.727"/><stop offset="0.50" stop-color="#0000ff" stop-opacity="0.534"/><stop offset="0.55" stop-color="#0000ff" stop-opacity="0.380"/><stop offset="0.60" stop-color="#0000ff" stop-opacity="0.262"/><stop offset="0.65" stop-color="#0000ff" stop-opacity="0.175"/><stop offset="0.70" stop-color="#0000ff" stop-opacity="0.113"/><stop offset="0.75" stop-color="#0000ff" stop-opacity="0.071"/><stop offset="0.80" stop-color="#0000ff" stop-opacity="0.043"/><stop offset="0.85" stop-color="#0000ff" stop-opacity="0.025"/><stop offset="0.90" stop-color="#0000ff" stop-opacity="0.014"/><stop offset="0.95" stop-color="#0000ff" stop-opacity="0.008"/><stop offset="1.00" stop-color="#0000ff" stop-opacity="0.000"/></radialGradient><radialGradient id="g21"><stop offset="0.00" stop-color="#0000ff" stop-opacity="1.000"/><stop offset="0.05" stop-color="#0000ff" stop-opacity="1.000"/><stop offset="0.10" stop-color="#0000ff" stop-opacity="1.000"/><stop offset="0.15" stop-color="#0000ff" stop-opacity="1.000"/><stop offset="0.20" stop-color="#0000ff" stop-opacity="1.000"/><stop offset="0.25" stop-color="#0000ff" stop-opacity="1.000"/><stop offset="0.30" stop-color="#0000ff" stop-opacity="1.000"/><stop offset="0.35" stop-color="#0000ff" stop-opacity="1.000"/><stop offset="0.40" stop-color="#0000ff" stop-opacity="1.000"/><stop offset="0.45" stop-color="#0000ff" stop-opacity="1.000"/><stop offset="0.50" stop-color="#0000ff" stop-opacity="0.989"/><stop offset="0.55" stop-color="#0000ff" stop-opacity="0.704"/><stop offset="0.60" stop-color="#0000ff" stop-opacity="0.485"/><stop offset="0.65" stop-color="#0000ff" stop-opacity="0.324"/><stop offset="0.70" stop-color="#0000ff" stop-opacity="0.209"/><stop offset="0.75" stop-color="#0000ff" stop-opacity="0.131"/><stop offset="0.80" stop-color="#0000ff" stop-opacity="0.079"/><stop offset="0.85" stop-color="#0000ff" stop-opacity="0.046"/><stop offset="0.90" stop-color="#0000ff" stop-opacity="0.026"/><stop offset="0.95" stop-color="#0000ff" stop-opacity="0.014"/><stop offset="1.00" stop-color="#0000ff" stop-opacity="0.000"/></radialGradient><radialGradient id="g22"><stop offset="0.00" stop-color="#0000ff" stop-opacity="0.840"/><stop offset="0.05" stop-color="#0000ff" stop-opacity="0.840"/><stop offset="0.10" stop-color="#0000ff" stop-opacity="0.840"/><stop offset="0.15" stop-color="#0000ff" stop-opacity="0.840"/><stop offset="0.20" stop-color="#0000ff" stop-opacity="0.840"/><stop offset="0.25" stop-color="#0000ff" stop-opacity="0.840"/><stop offset="0.30" stop-color="#0000ff" stop-opacity="0.840"/><stop offset="0.35" stop-color="#0000ff" stop-opacity="0.840"/><stop offset="0.40" stop-color="#0000ff" stop-opacity="0.840"/><stop offset="0.45" stop-color="#0000ff" stop-opacity="0.673"/><stop offset="0.50" stop-color="#0000ff" stop-opacity="0.495"/><stop offset="0.55" stop-color="#0000ff" stop-opacity="0.352"/><stop offset="0.60" stop-color="#0000ff" stop-opacity="0.243"/><stop offset="0.65" stop-color="#0000ff" stop-opacity="0.162"/><stop offset="0.70" stop-color="#0000ff" stop-opacity="0.104"/><stop offset="0.75" stop-color="#0000ff" stop-opacity="0.065"/><stop offset="0.80" stop-color="#0000ff" stop-opacity="0.040"/><stop offset="0.85" stop-color="#0000ff" stop-opacity="0.023"/><stop offset="0.90" stop-color="#0000ff" stop-opacity="0.013"/><stop offset="0.95" stop-color="#0000ff" stop-opacity="0.007"/><stop offset="1.00" stop-color="#0000ff" stop-opacity="0.000"/></radialGradient><radialGradient id="g23"><stop offset="0.00" stop-color="#0000ff" stop-opacity="0.800"/><stop offset="0.05" stop-color="#0000ff" stop-opacity="0.800"/><stop offset="0.10" stop-color="#0000ff" stop-opacity="0.800"/><stop offset="0.15" stop-color="#0000ff" stop-opacity="0.800"/><stop offset="0.20" stop-color="#0000ff" stop-opacity="0.800"/><stop offset="0.25" stop-color="#0000ff" stop-opacity="0.800"/><stop offset="0.30" stop-color="#0000ff" stop-opacity="0.800"/><stop offset="0.35" stop-color="#0000ff" stop-opacity="0.800"/><stop offset="0.40" stop-color="#0000ff" stop-opacity="0.800"/><stop offset="0.45" stop-color="#0000ff" stop-opacity="0.673"/><stop offset="0.50" stop-color="#0000ff" stop-opacity="0.495"/><stop offset="0.55" stop-color="#0000ff" stop-opacity="0.352"/><stop offset="0.60" stop-color="#0000ff" stop-opacity="0.243"/><stop offset="0.65" stop-color="#0000ff" stop-opacity="0.162"/><stop offset="0.70" stop-color="#0000ff" stop-opacity="0.104"/><stop offset="0.75" stop-color="#0000ff" stop-opacity="0.065"/><stop offset="0.80" stop-color="#0000ff" stop-opacity="0.040"/><stop offset="0.85" stop-color="#0000ff" stop-opacity="0.023"/><stop offset="0.90" stop-color="#0000ff" stop-opacity="0.013"/><stop offset="0.95" stop-color="#0000ff" stop-opacity="0.007"/><stop offset="1.00" stop-color="#0000ff" stop-opacity="0.000"/></radialGradient><radialGradient id="g24"><stop offset="0.00" stop-color="#0000ff" stop-opacity="0.780"/><stop offset="0.05" stop-color="#0000ff" stop-opacity="0.780"/><stop offset="0.10" stop-color="#0000ff" stop-opacity="0.780"/><stop offset="0.15" stop-color="#0000ff" stop-opacity="0.780"/><stop offset="0.20" stop-color="#0000ff" stop-opacity="0.780"/><stop offset="0.25" stop-color="#0000ff" stop-opacity="0.780"/><stop offset="0.30" stop-color="#0000ff" stop-opacity="0.780"/><stop offset="0.35" stop-color="#0000ff" stop-opacity="0.780"/><stop offset="0.40" stop-color="#0000ff" stop-opacity="0.780"/><stop offset="0.45" stop-color="#0000ff" stop-opacity="0.673"/><stop offset="0.50" stop-color="#0000ff" stop-opacity="0.495"/><stop offset="0.55" stop-color="#0000ff" stop-opacity="0.352"/><stop offset="0.60" stop-color="#0000ff" stop-opacity="0.243"/><stop offset="0.65" stop-color="#0000ff" stop-opacity="0.162"/><stop offset="0.70" stop-color="#0000ff" stop-opacity="0.104"/><stop offset="0.75" stop-color="#0000ff" stop-opacity="0.065"/><stop offset="0.80" stop-color="#0000ff" stop-opacity="0.040"/><stop offset="0.85" stop-color="#0000ff" stop-opacity="0.023"/><stop offset="0.90" stop-color="#0000ff" stop-opacity="0.013"/><stop offset="0.95" stop-color="#0000ff" stop-opacity="0.007"/><stop offset="1.00" stop-color="#0000ff" stop-opacity="0.000"/></radialGradient><radialGradient id="g25"><stop offset="0.00" stop-color="#0000ff" stop-opacity="0.760"/><stop offset="0.05" stop-color="#0000ff" stop-opacity="0.760"/><stop offset="0.10" stop-color="#0000ff" stop-opacity="0.760"/><stop offset="0.15" stop-color="#0000ff" stop-opacity="0.760"/><stop offset="0.20" stop-color="#0000ff" stop-opacity="0.760"/><stop offset="0.25" stop-color="#0000ff" stop-opacity="0.760"/><stop offset="0.30" stop-color="#0000ff" stop-opacity="0.760"/><stop offset="0.35" stop-color="#0000ff" stop-opacity="0.760"/><stop offset="0.40" stop-color="#0000ff" stop-opacity="0.760"/><stop offset="0.45" stop-color="#0000ff" stop-opacity="0.673"/><stop offset="0.50" stop-color="#0000ff" stop-opacity="0.495"/><stop offset="0.55" stop-color="#0000ff" stop-opacity="0.352"/><stop offset="0.60" stop-color="#0000ff" stop-opacity="0.243"/><stop offset="0.65" stop-color="#0000ff" stop-opacity="0.162"/><stop offset="0.70" stop-color="#0000ff" stop-opacity="0.104"/><stop offset="0.75" stop-color="#0000ff" stop-opacity="0.065"/><stop offset="0.80" stop-color="#0000ff" stop-opacity="0.040"/><stop offset="0.85" stop-color="#0000ff" stop-opacity="0.023"/><stop offset="0.90" stop-color="#0000ff" stop-opacity="0.013"/><stop offset="0.95" stop-color="#0000ff" stop-opacity="0.007"/><stop offset="1.00" stop-color="#0000ff" stop-opacity="0.000"/></radialGradient><radialGradient id="g26"><stop offset="0.00" stop-color="#0000ff" stop-opacity="0.720"/><stop offset="0.05" stop-color="#0000ff" stop-opacity="0.720"/><stop offset="0.10" stop-color="#0000ff" stop-opacity="0.720"/><stop offset="0.15" stop-color="#0000ff" stop-opacity="0.720"/><stop offset="0.20" stop-color="#0000ff" stop-opacity="0.720"/><stop offset="0.25" stop-color="#0000ff" stop-opacity="0.720"/><stop offset="0.30" stop-color="#0000ff" stop-opacity="0.720"/><stop offset="0.35" stop-color="#0000ff" stop-opacity="0.720"/><stop offset="0.40" stop-color="#0000ff" stop-opacity="0.720"/><stop offset="0.45" stop-color="#0000ff" stop-opacity="0.646"/><stop offset="0.50" stop-color="#0000ff" stop-opacity="0.475"/><stop offset="0.55" stop-color="#0000ff" stop-opacity="0.338"/><stop offset="0.60" stop-color="#0000ff" stop-opacity="0.233"/><stop offset="0.65" stop-color="#0000ff" stop-opacity="0.155"/><stop offset="0.70" stop-color="#0000ff" stop-opacity="0.100"/><stop offset="0.75" stop-color="#0000ff" stop-opacity="0.063"/><stop offset="0.80" stop-color="#0000ff" stop-opacity="0.038"/><stop offset="0.85" stop-color="#0000ff" stop-opacity="0.022"/><stop offset="0.90" stop-color="#0000ff" stop-opacity="0.013"/><stop offset="0.95" stop-color="#0000ff" stop-opacity="0.007"/><stop offset="1.00" stop-color="#0000ff" stop-opacity="0.000"/></radialGradient><radialGradient id="g27"><stop offset="0.00" stop-color="#0000ff" stop-opacity="0.600"/><stop offset="0.05" stop-color="#0000ff" stop-opacity="0.600"/><stop offset="0.10" stop-color="#0000ff" stop-opacity="0.600"/><stop offset="0.15" stop-color="#0000ff" stop-opacity="0.600"/><stop offset="0.20" stop-color="#0000ff" stop-opacity="0.600"/><stop offset="0.25" stop-color="#0000ff" stop-opacity="0.600"/><stop offset="0.30" stop-color="#0000ff" stop-opacity="0.600"/><stop offset="0.35" stop-color="#0000ff" stop-opacity="0.600"/><stop offset="0.40" stop-color="#0000ff" stop-opacity="0.532"/><stop offset="0.45" stop-color="#0000ff" stop-opacity="0.404"/><stop offset="0.50" stop-color="#0000ff" stop-opacity="0.297"/><stop offset="0.55" stop-color="#0000ff" stop-opacity="0.211"/><stop offset="0.60" stop-color="#0000ff" stop-opacity="0.146"/><stop offset="0.65" stop-color="#0000ff" stop-opacity="0.097"/><stop offset="0.70" stop-color="#0000ff" stop-opacity="0.063"/><stop offset="0.75" stop-color="#0000ff" stop-opacity="0.039"/><stop offset="0.80" stop-color="#0000ff" stop-opacity="0.024"/><stop offset="0.85" stop-color="#0000ff" stop-opacity="0.014"/><stop offset="0.90" stop-color="#0000ff" stop-opacity="0.008"/><stop offset="0.95" stop-color="#0000ff" stop-opacity="0.004"/><stop offset="1.00" stop-color="#0000ff" stop-opacity="0.000"/></radialGradient><radialGradient id="g28"><stop offset="0.00" stop-color="#0000ff" stop-opacity="0.550"/><stop offset="0.05" stop-color="#0000ff" stop-opacity="0.541"/><stop offset="0.10" stop-color="#0000ff" stop-opacity="0.515"/><stop offset="0.15" stop-color="#0000ff" stop-opacity="0.475"/><stop offset="0.20" stop-color="#0000ff" stop-opacity="0.424"/><stop offset="0.25" stop-color="#0000ff" stop-opacity="0.367"/><stop offset="0.30" stop-color="#0000ff" stop-opacity="0.307"/><stop offset="0.35" stop-color="#0000ff" stop-opacity="0.249"/><stop offset="0.40" stop-color="#0000ff" stop-opacity="0.195"/><stop offset="0.45" stop-color="#0000ff" stop-opacity="0.148"/><stop offset="0.50" stop-color="#0000ff" stop-opacity="0.109"/><stop offset="0.55" stop-color="#0000ff" stop-opacity="0.077"/><stop offset="0.60" stop-color="#0000ff" stop-opacity="0.053"/><stop offset="0.65" stop-color="#0000ff" stop-opacity="0.036"/><stop offset="0.70" stop-color="#0000ff" stop-opacity="0.023"/><stop offset="0.75" stop-color="#0000ff" stop-opacity="0.014"/><stop offset="0.80" stop-color="#0000ff" stop-opacity="0.009"/><stop offset="0.85" stop-color="#0000ff" stop-opacity="0.005"/><stop offset="0.90" stop-color="#0000ff" stop-opacity="0.003"/><stop offset="0.95" stop-color="#0000ff" stop-opacity="0.002"/><stop offset="1.00" stop-color="#0000ff" stop-opacity="0.000"/></radialGradient><radialGradient id="g29"><stop offset="0.00" stop-color="#0000ff" stop-opacity="0.200"/><stop offset="0.05" stop-color="#0000ff" stop-opacity="0.197"/><stop offset="0.10" stop-color="#0000ff" stop-opacity="0.187"/><stop offset="0.15" stop-color="#0000ff" stop-opacity="0.173"/><stop offset="0.20" stop-color="#0000ff" stop-opacity="0.154"/><stop offset="0.25" stop-color="#0000ff" stop-opacity="0.133"/><stop offset="0.30" stop-color="#0000ff" stop-opacity="0.112"/><stop offset="0.35" stop-color="#0000ff" stop-opacity="0.090"/><stop offset="0.40" stop-color="#0000ff" stop-opacity="0.071"/><stop offset="0.45" stop-color="#0000ff" stop-opacity="0.054"/><stop offset="0.50" stop-color="#0000ff" stop-opacity="0.040"/><stop offset="0.55" stop-color="#0000ff" stop-opacity="0.028"/><stop offset="0.60" stop-color="#0000ff" stop-opacity="0.019"/><stop offset="0.65" stop-color="#0000ff" stop-opacity="0.013"/><stop offset="0.70" stop-color="#0000ff" stop-opacity="0.008"/><stop offset="0.75" stop-color="#0000ff" stop-opacity="0.005"/><stop offset="0.80" stop-color="#0000ff" stop-opacity="0.003"/><stop offset="0.85" stop-color="#0000ff" stop-opacity="0.002"/><stop offset="0.90" stop-color="#0000ff" stop-opacity="0.001"/><stop offset="0.95" stop-color="#0000ff" stop-opacity="0.001"/><stop offset="1.00" stop-color="#0000ff" stop-opacity="0.000"/></radialGradient><radialGradient id="g30"><stop offset="0.00" stop-color="#0000ff" stop-opacity="0.380"/><stop offset="0.05" stop-color="#0000ff" stop-opacity="0.374"/><stop offset="0.10" stop-color="#0000ff" stop-opacity="0.356"/><stop offset="0.15" stop-color="#0000ff" stop-opacity="0.328"/><stop offset="0.20" stop-color="#0000ff" stop-opacity="0.293"/><stop offset="0.25" stop-color="#0000ff" stop-opacity="0.253"/><stop offset="0.30" stop-color="#0000ff" stop-opacity="0.212"/><stop offset="0.35" stop-color="#0000ff" stop-opacity="0.172"/><stop offset="0.40" stop-color="#0000ff" stop-opacity="0.135"/><stop offset="0.45" stop-color="#0000ff" stop-opacity="0.102"/><stop offset="0.50" stop-color="#0000ff" stop-opacity="0.075"/><stop offset="0.55" stop-color="#0000ff" stop-opacity="0.054"/><stop offset="0.60" stop-color="#0000ff" stop-opacity="0.037"/><stop offset="0.65" stop-color="#0000ff" stop-opacity="0.025"/><stop offset="0.70" stop-color="#0000ff" stop-opacity="0.016"/><stop offset="0.75" stop-color="#0000ff" stop-opacity="0.010"/><stop offset="0.80" stop-color="#0000ff" stop-opacity="0.006"/><stop offset="0.85" stop-color="#0000ff" stop-opacity="0.004"/><stop offset="0.90" stop-color="#0000ff" stop-opacity="0.002"/><stop offset="0.95" stop-color="#0000ff" stop-opacity="0.001"/><stop offset="1.00" stop-color="#0000ff" stop-opacity="0.000"/></radialGradient><radialGradient id="g31"><stop offset="0.00" stop-color="#0000ff" stop-opacity="0.160"/><stop offset="0.05" stop-color="#0000ff" stop-opacity="0.157"/><stop offset="0.10" stop-color="#0000ff" stop-opacity="0.150"/><stop offset="0.15" stop-color="#0000ff" stop-opacity="0.138"/><stop offset="0.20" stop-color="#0000ff" stop-opacity="0.123"/><stop offset="0.25" stop-color="#0000ff" stop-opacity="0.107"/><stop offset="0.30" stop-color="#0000ff" stop-opacity="0.089"/><stop offset="0.35" stop-color="#0000ff" stop-opacity="0.072"/><stop offset="0.40" stop-color="#0000ff" stop-opacity="0.057"/><stop offset="0.45" stop-color="#0000ff" stop-opacity="0.043"/><stop offset="0.50" stop-color="#0000ff" stop-opacity="0.032"/><stop offset="0.55" stop-color="#0000ff" stop-opacity="0.023"/><stop offset="0.60" stop-color="#0000ff" stop-opacity="0.016"/><stop offset="0.65" stop-color="#0000ff" stop-opacity="0.010"/><stop offset="0.70" stop-color="#0000ff" stop-opacity="0.007"/><stop offset="0.75" stop-color="#0000ff" stop-opacity="0.004"/><stop offset="0.80" stop-color="#0000ff" stop-opacity="0.003"/><stop offset="0.85" stop-color="#0000ff" stop-opacity="0.001"/><stop offset="0.90" stop-color="#0000ff" stop-opacity="0.001"/><stop offset="0.95" stop-color="#0000ff" stop-opacity="0.000"/><stop offset="1.00" stop-color="#0000ff" stop-opacity="0.000"/></radialGradient><radialGradient id="g32"><stop offset="0.00" stop-color="#ff0000" stop-opacity="0.720"/><stop offset="0.05" stop-color="#ff0000" stop-opacity="0.720"/><stop offset="0.10" stop-color="#ff0000" stop-opacity="0.720"/><stop offset="0.15" stop-color="#ff0000" stop-opacity="0.720"/><stop offset="0.20" stop-color="#ff0000" stop-opacity="0.720"/><stop offset="0.25" stop-color="#ff0000" stop-opacity="0.720"/><stop offset="0.30" stop-color="#ff0000" stop-opacity="0.720"/><stop offset="0.35" stop-color="#ff0000" stop-opacity="0.720"/><stop offset="0.40" stop-color="#ff0000" stop-opacity="0.638"/><stop offset="0.45" stop-color="#ff0000" stop-opacity="0.485"/><stop offset="0.50" stop-color="#ff0000" stop-opacity="0.356"/><stop offset="0.55" stop-color="#ff0000" stop-opacity="0.253"/><stop offset="0.60" stop-color="#ff0000" stop-opacity="0.175"/><stop offset="0.65" stop-color="#ff0000" stop-opacity="0.116"/><stop offset="0.70" stop-color="#ff0000" stop-opacity="0.075"/><stop offset="0.75" stop-color="#ff0000" stop-opacity="0.047"/><stop offset="0.80" stop-color="#ff0000" stop-opacity="0.028"/><stop offset="0.85" stop-color="#ff0000" stop-opacity="0.017"/><stop offset="0.90" stop-color="#ff0000" stop-opacity="0.009"/><stop offset="0.95" stop-color="#ff0000" stop-opacity="0.005"/><stop offset="1.00" stop-color="#ff0000" stop-opacity="0.000"/></radialGradient><radialGradient id="g33"><stop offset="0.00" stop-color="#ff0000" stop-opacity="0.780"/><stop offset="0.05" stop-color="#ff0000" stop-opacity="0.780"/><stop offset="0.10" stop-color="#ff0000" stop-opacity="0.780"/><stop offset="0.15" stop-color="#ff0000" stop-opacity="0.780"/><stop offset="0.20" stop-color="#ff0000" stop-opacity="0.780"/><stop offset="0.25" stop-color="#ff0000" stop-opacity="0.780"/><stop offset="0.30" stop-color="#ff0000" stop-opacity="0.780"/><stop offset="0.35" stop-color="#ff0000" stop-opacity="0.780"/><stop offset="0.40" stop-color="#ff0000" stop-opacity="0.638"/><stop offset="0.45" stop-color="#ff0000" stop-opacity="0.485"/><stop offset="0.50" stop-color="#ff0000" stop-opacity="0.356"/><stop offset="0.55" stop-color="#ff0000" stop-opacity="0.253"/><stop offset="0.60" stop-color="#ff0000" stop-opacity="0.175"/><stop offset="0.65" stop-color="#ff0000" stop-opacity="0.116"/><stop offset="0.70" stop-color="#ff0000" stop-opacity="0.075"/><stop offset="0.75" stop-color="#ff0000" stop-opacity="0.047"/><stop offset="0.80" stop-color="#ff0000" stop-opacity="0.028"/><stop offset="0.85" stop-color="#ff0000" stop-opacity="0.017"/><stop offset="0.90" stop-color="#ff0000" stop-opacity="0.009"/><stop offset="0.95" stop-color="#ff0000" stop-opacity="0.005"/><stop offset="1.00" stop-color="#ff0000" stop-opacity="0.000"/></radialGradient><radialGradient id="g34"><stop offset="0.00" stop-color="#ff0000" stop-opacity="1.000"/><stop offset="0.05" stop-color="#ff0000" stop-opacity="0.984"/><stop offset="0.10" stop-color="#ff0000" stop-opacity="0.937"/><stop offset="0.15" stop-color="#ff0000" stop-opacity="0.864"/><stop offset="0.20" stop-color="#ff0000" stop-opacity="0.772"/><stop offset="0.25" stop-color="#ff0000" stop-opacity="0.667"/><stop offset="0.30" stop-color="#ff0000" stop-opacity="0.558"/><stop offset="0.35" stop-color="#ff0000" stop-opacity="0.452"/><stop offset="0.40" stop-color="#ff0000" stop-opacity="0.355"/><stop offset="0.45" stop-color="#ff0000" stop-opacity="0.269"/><stop offset="0.50" stop-color="#ff0000" stop-opacity="0.198"/><stop offset="0.55" stop-color="#ff0000" stop-opacity="0.141"/><stop offset="0.60" stop-color="#ff0000" stop-opacity="0.097"/><stop offset="0.65" stop-color="#ff0000" stop-opacity="0.065"/><stop offset="0.70" stop-color="#ff0000" stop-opacity="0.042"/><stop offset="0.75" stop-color="#ff0000" stop-opacity="0.026"/><stop offset="0.80" stop-color="#ff0000" stop-opacity="0.016"/><stop offset="0.85" stop-color="#ff0000" stop-opacity="0.009"/><stop offset="0.90" stop-color="#ff0000" stop-opacity="0.005"/><stop offset="0.95" stop-color="#ff0000" stop-opacity="0.003"/><stop offset="1.00" stop-color="#ff0000" stop-opacity="0.000"/></radialGradient><clipPath id="c2"><rect x="699.76" y="47.81" width="532.43" height="532.43"/></clipPath></defs>
<g clip-path="url(#c2)"><ellipse cx="965.6" cy="53.66" rx="108" ry="21.24" fill="url(#g1)"/><ellipse cx="965.6" cy="70.85" rx="108" ry="18" fill="url(#g2)"/><ellipse cx="965.6" cy="86.8" rx="108" ry="21.24" fill="url(#g1)"/><ellipse cx="965.6" cy="99.78" rx="108" ry="19.44" fill="url(#g3)"/><ellipse cx="965.6" cy="112.23" rx="108" ry="23.4" fill="url(#g4)"/><ellipse cx="965.6" cy="124.33" rx="108" ry="20.88" fill="url(#g5)"/><ellipse cx="965.6" cy="129.59" rx="108" ry="20.88" fill="url(#g5)"/><ellipse cx="965.6" cy="134.85" rx="108" ry="20.88" fill="url(#g5)"/><ellipse cx="965.6" cy="140.11" rx="108" ry="20.88" fill="url(#g5)"/><ellipse cx="965.6" cy="145.37" rx="108" ry="20.88" fill="url(#g5)"/><ellipse cx="965.6" cy="149.75" rx="108" ry="19.44" fill="url(#g6)"/><ellipse cx="965.6" cy="158.52" rx="108" ry="20.16" fill="url(#g6)"/><ellipse cx="965.6" cy="166.41" rx="108" ry="19.44" fill="url(#g7)"/><ellipse cx="965.6" cy="173.25" rx="108" ry="20.88" fill="url(#g6)"/><ellipse cx="965.6" cy="183.07" rx="108" ry="20.16" fill="url(#g8)"/><ellipse cx="965.6" cy="196.22" rx="108" ry="23.04" fill="url(#g7)"/><ellipse cx="965.6" cy="205.87" rx="108" ry="21.6" fill="url(#g2)"/><ellipse cx="965.6" cy="223.4" rx="108" ry="23.04" fill="url(#g9)"/><ellipse cx="965.6" cy="240.94" rx="108" ry="23.04" fill="url(#g10)"/><ellipse cx="965.6" cy="53.66" rx="36" ry="17.64" fill="url(#g11)"/><ellipse cx="965.6" cy="70.85" rx="36" ry="14.4" fill="url(#g7)"/><ellipse cx="965.6" cy="86.8" rx="36" ry="17.64" fill="url(#g11)"/><ellipse cx="965.6" cy="99.78" rx="36" ry="15.84" fill="url(#g12)"/><ellipse cx="965.6" cy="112.23" rx="36" ry="19.8" fill="url(#g13)"/><ellipse cx="965.6" cy="124.33" rx="36" ry="17.28" fill="url(#g14)"/><ellipse cx="965.6" cy="129.59" rx="36" ry="17.28" fill="url(#g14)"/><ellipse cx="965.6" cy="134.85" rx="36" ry="17.28" fill="url(#g14)"/><ellipse cx="965.6" cy="140.11" rx="36" ry="17.28" fill="url(#g14)"/><ellipse cx="965.6" cy="145.37" rx="36" ry="17.28" fill="url(#g14)"/><ellipse cx="965.6" cy="149.75" rx="36" ry="15.84" fill="url(#g3)"/><ellipse cx="965.6" cy="158.52" rx="36" ry="16.56" fill="url(#g15)"/><ellipse cx="965.6" cy="166.41" rx="36" ry="15.84" fill="url(#g16)"/><ellipse cx="965.6" cy="173.25" rx="36" ry="17.28" fill="url(#g15)"/><ellipse cx="965.6" cy="183.07" rx="36" ry="16.56" fill="url(#g6)"/><ellipse cx="965.6" cy="196.22" rx="36" ry="19.44" fill="url(#g17)"/><ellipse cx="965.6" cy="205.87" rx="36" ry="18" fill="url(#g6)"/><ellipse cx="965.6" cy="223.4" rx="36" ry="19.44" fill="url(#g7)"/><ellipse cx="965.6" cy="240.94" rx="36" ry="19.44" fill="url(#g2)"/><ellipse cx="965.6" cy="53.66" rx="11.16" ry="14.04" fill="url(#g18)"/><ellipse cx="965.6" cy="70.85" rx="11.88" ry="10.8" fill="url(#g19)"/><ellipse cx="965.6" cy="86.8" rx="11.16" ry="14.04" fill="url(#g18)"/><ellipse cx="965.6" cy="99.78" rx="9.72" ry="12.24" fill="url(#g20)"/><ellipse cx="965.6" cy="112.23" rx="11.88" ry="16.2" fill="url(#g21)"/><ellipse cx="965.6" cy="124.33" rx="10.08" ry="13.68" fill="url(#g22)"/><ellipse cx="965.6" cy="129.59" rx="10.08" ry="13.68" fill="url(#g23)"/><ellipse cx="965.6" cy="134.85" rx="10.08" ry="13.68" fill="url(#g24)"/><ellipse cx="965.6" cy="140.11" rx="10.08" ry="13.68" fill="url(#g25)"/><ellipse cx="965.6" cy="145.37" rx="10.08" ry="13.68" fill="url(#g26)"/><ellipse cx="965.6" cy="149.75" rx="10.44" ry="12.24" fill="url(#g27)"/><ellipse cx="965.6" cy="158.52" rx="15.84" ry="12.96" fill="url(#g28)"/><ellipse cx="965.6" cy="166.41" rx="15.84" ry="12.24" fill="url(#g29)"/><ellipse cx="965.6" cy="173.25" rx="16.56" ry="13.68" fill="url(#g13)"/><ellipse cx="965.6" cy="183.07" rx="16.56" ry="12.96" fill="url(#g12)"/><ellipse cx="965.6" cy="196.22" rx="17.28" ry="15.84" fill="url(#g30)"/><ellipse cx="965.6" cy="205.87" rx="17.28" ry="14.4" fill="url(#g31)"/><ellipse cx="965.6" cy="223.4" rx="17.28" ry="15.84" fill="url(#g1)"/><ellipse cx="965.6" cy="240.94" rx="17.28" ry="15.84" fill="url(#g17)"/><ellipse cx="965.6" cy="53.66" rx="9" ry="12.24" fill="url(#g32)"/><ellipse cx="965.6" cy="86.8" rx="9" ry="12.6" fill="url(#g32)"/><ellipse cx="965.6" cy="112.23" rx="9.36" ry="15.12" fill="url(#g33)"/><ellipse cx="965.6" cy="111.88" rx="10.8" ry="9" fill="url(#g34)"/></g>
<path d="M899.96 580.24V45.81M1031.24 580.24V45.81" clip-path="url(#cp2)" fill="none" stroke="#006400" stroke-width="1.5" stroke-linecap="round" stroke-dasharray="6 6"/>
<path d="M699.76 260.22H1234.19" clip-path="url(#cp2)" fill="none" stroke="#CD2626" stroke-width="1.5" stroke-linecap="round" stroke-dasharray="6 6"/>
<rect x="699.76" y="47.81" width="532.43" height="532.43" fill="none" stroke="#000" stroke-width="0.75"/>
<path d="M750.4 580.24H1180.8M750.4 580.24v5.98M858 580.24v5.98M965.6 580.24v5.98M1073.2 580.24v5.98M1180.8 580.24v5.98" fill="none" stroke="#000" stroke-width="0.75"/>
<text x="750.1" y="601.9" text-anchor="middle" font-family="Liberation Sans, sans-serif" font-size="10">-400</text>
<text x="857.7" y="601.9" text-anchor="middle" font-family="Liberation Sans, sans-serif" font-size="10">-200</text>
<text x="965.3" y="601.9" text-anchor="middle" font-family="Liberation Sans, sans-serif" font-size="10">0</text>
<text x="1072.9" y="601.9" text-anchor="middle" font-family="Liberation Sans, sans-serif" font-size="10">200</text>
<text x="1180.5" y="601.9" text-anchor="middle" font-family="Liberation Sans, sans-serif" font-size="10">400</text>
<path d="M699.76 574.1V48.05M699.76 574.1h-5.98M699.76 486.43h-5.98M699.76 398.75h-5.98M699.76 311.07h-5.98M699.76 223.4h-5.98M699.76 135.72h-5.98M699.76 48.05h-5.98" fill="none" stroke="#000" stroke-width="0.75"/>
<text transform="translate(684.9 574.5) rotate(-90)" text-anchor="middle" font-family="Liberation Sans, sans-serif" font-size="10">70</text>
<text transform="translate(684.9 486.82) rotate(-90)" text-anchor="middle" font-family="Liberation Sans, sans-serif" font-size="10">75</text>
<text transform="translate(684.9 399.15) rotate(-90)" text-anchor="middle" font-family="Liberation Sans, sans-serif" font-size="10">80</text>
<text transform="translate(684.9 311.47) rotate(-90)" text-anchor="middle" font-family="Liberation Sans, sans-serif" font-size="10">85</text>
<text transform="translate(684.9 223.8) rotate(-90)" text-anchor="middle" font-family="Liberation Sans, sans-serif" font-size="10">90</text>
<text transform="translate(684.9 136.12) rotate(-90)" text-anchor="middle" font-family="Liberation Sans, sans-serif" font-size="10">95</text>
<text transform="translate(684.9 48.45) rotate(-90)" text-anchor="middle" font-family="Liberation Sans, sans-serif" font-size="10">100</text>
<text x="965.98" y="31.9" text-anchor="middle" font-family="Liberation Sans, sans-serif" font-size="21.5" font-weight="bold">Density heat map for the top hits</text>
<text x="965.98" y="625.7" text-anchor="middle" font-family="Liberation Sans, sans-serif" font-size="16">Distance to peak summit</text>
<text transform="translate(662.2 314.57) rotate(-90)" text-anchor="middle" font-family="Liberation Sans, sans-serif" font-size="16">Motif score</text>
<path d="M79 1200.3 87 1200.3 95 1200.3 103 1200.3 111 1200.29 119 1200.29 127 1200.28 135 1200.27 143 1200.26 151 1200.25 159 1200.24 167 1200.24 175 1200.23 183 1200.22 191 1200.21 199 1200.2 207 1200.19 215 1200.18 223 1200.16 231 1200.14 239 1200.11 247 1200.08 255 1200.06 263 1200.03 271 1199.99 279 1199.5 287 1199.68 295 1200.03 303 1200.04 311 1199.96 319 1199.82 327 1199.55 335 1199 335.4 1198.96 335.8 1198.92 336.2 1198.87 336.6 1198.81 337 1198.75 337.4 1198.68 337.8 1198.61 338.2 1198.54 338.6 1198.46 339 1198.38 339.4 1198.29 339.8 1198.2 340.2 1198.11 340.6 1198.01 341 1197.91 341.4 1197.81 341.8 1197.71 342.2 1197.6 342.6 1197.49 343 1197.37 343.4 1197.24 343.8 1197.1 344.2 1196.96 344.6 1196.82 345 1196.68 345.4 1196.53 345.8 1196.39 346.2 1196.26 346.6 1196.12 347 1196 347.4 1195.88 347.8 1195.76 348.2 1195.64 348.6 1195.53 349 1195.42 349.4 1195.32 349.8 1195.23 350.2 1195.15 350.6 1195.09 351 1195.04 351.4 1195.01 351.8 1195 352.2 1195.01 352.6 1195.04 353 1195.09 353.4 1195.16 353.8 1195.23 354.2 1195.32 354.6 1195.42 355 1195.52 355.4 1195.63 355.8 1195.74 356.2 1195.86 356.6 1195.97 357 1196.09 357.4 1196.21 357.8 1196.34 358.2 1196.46 358.6 1196.59 359 1196.71 359.4 1196.83 359.8 1196.94 360.2 1197.06 360.6 1197.16 361 1197.26 361.4 1197.35 361.8 1197.44 362.2 1197.52 362.6 1197.6 363 1197.67 363.4 1197.74 363.8 1197.8 364.2 1197.86 364.6 1197.91 365 1197.94 365.4 1197.93 365.8 1197.88 366.2 1197.81 366.6 1197.71 367 1197.59 367.4 1197.45 367.8 1197.29 368.2 1197.11 368.6 1196.89 369 1196.63 369.4 1196.33 369.8 1195.99 370.2 1195.6 370.6 1195.17 371 1194.71 371.4 1194.23 371.8 1193.74 372.2 1193.25 372.6 1192.77 373 1192.32 373.4 1191.9 373.8 1191.51 374.2 1191.14 374.6 1190.79 375 1190.45 375.4 1190.12 375.8 1189.81 376.2 1189.51 376.6 1189.22 377 1188.93 377.4 1188.71 377.8 1188.55 378.2 1188.45 378.6 1188.38 379 1188.33 379.4 1188.28 379.8 1188.2 380.2 1188.09 380.6 1187.93 381 1187.68 381.4 1187.35 381.8 1186.92 382.2 1186.39 382.6 1185.76 383 1185.01 383.4 1184.15 383.8 1183.17 384.2 1181.98 384.6 1180.57 385 1179.01 385.4 1177.35 385.8 1175.67 386.2 1174.01 386.6 1172.44 387 1171.03 387.4 1169.81 387.8 1168.66 388.2 1167.59 388.6 1166.59 389 1165.68 389.4 1164.87 389.8 1164.18 390.2 1163.73 390.6 1163.48 391 1163.4 391.4 1163.47 391.8 1163.76 392.2 1164.36 392.6 1165.35 393 1166.71 393.4 1168.23 393.8 1169.66 394.2 1170.79 394.6 1171.8 395 1172.75 395.4 1173.65 395.8 1174.47 396.2 1175.22 396.6 1175.85 397 1176.25 397.4 1176.47 397.8 1176.54 398.2 1176.34 398.6 1175.53 399 1174.11 399.4 1172.63 399.8 1171.14 400.2 1169.64 400.6 1168.13 401 1166.62 401.4 1165.1 401.8 1163.57 402.2 1162.04 402.6 1160.5 403 1158.97 403.4 1157.45 403.8 1155.94 404.2 1154.59 404.6 1153.99 405 1153.93 405.4 1154.09 405.8 1154.42 406.2 1154.99 406.6 1155.89 407 1157.02 407.4 1158.23 407.8 1159.37 408.2 1160.31 408.6 1161.12 409 1161.86 409.4 1162.54 409.8 1163.15 410.2 1163.66 410.6 1163.97 411 1164.12 411.4 1163.88 411.8 1163.22 412.2 1162.23 412.6 1160.96 413 1159.35 413.4 1157.35 413.8 1154.9 414.2 1152.13 414.6 1149.23 415 1146.25 415.4 1143.25 415.8 1140.28 416.2 1137.4 416.6 1134.6 417 1131.72 417.4 1128.81 417.8 1125.97 418.2 1123.31 418.6 1120.91 419 1118.9 419.4 1117.15 419.8 1115.46 420.2 1113.82 420.6 1112.21 421 1110.61 421.4 1109 421.8 1107.39 422.2 1105.81 422.6 1104.23 423 1102.65 423.4 1101.06 423.8 1099.44 424.2 1097.77 424.6 1095.83 425 1093.61 425.4 1091.17 425.8 1088.61 426.2 1086.01 426.6 1083.43 427 1080.81 427.4 1077.92 427.8 1074.95 428.2 1072.11 428.6 1069.63 429 1067.81 429.4 1066.59 429.8 1065.89 430.2 1065.6 430.6 1065.63 431 1065.94 431.4 1066.59 431.8 1067.71 432.2 1069.4 432.6 1071.78 433 1074.75 433.4 1077.81 433.8 1080.94 434.2 1084.12 434.6 1087.36 435 1090.63 435.4 1093.93 435.8 1097.31 436.2 1100.76 436.6 1104.25 437 1107.73 437.4 1111.18 437.8 1114.57 438.2 1117.65 438.6 1119.97 439 1121.57 439.4 1122.53 439.8 1122.86 440.2 1122.17 440.6 1120.48 441 1117.88 441.4 1114.5 441.8 1110.74 442.2 1106.62 442.6 1101.94 443 1096.5 443.4 1090.5 443.8 1084.35 444.2 1078.21 444.6 1072.25 445 1066.49 445.4 1060.76 445.8 1055.02 446.2 1049.29 446.6 1043.57 447 1037.87 447.4 1032.19 447.8 1026.54 448.2 1020.9 448.6 1015.97 449 1012.16 449.4 1009.06 449.8 1006.43 450.2 1004.63 450.6 1003.64 451 1003.36 451.4 1003.63 451.8 1004.36 452.2 1005.9 452.6 1008.65 453 1012.78 453.4 1017.23 453.8 1021.72 454.2 1026.19 454.6 1030.59 455 1034.93 455.4 1039.26 455.8 1043.57 456.2 1047.86 456.6 1052.04 457 1055.46 457.4 1057.29 457.8 1056.68 458.2 1053.58 458.6 1048.74 459 1042.98 459.4 1036.97 459.8 1030.62 460.2 1024.06 460.6 1017.52 461 1011.23 461.4 1005.4 461.8 1000.1 462.2 995.3 462.6 991 463 987.45 463.4 985.19 463.8 984.09 464.2 983.94 464.6 984.66 465 986.58 465.4 990.19 465.8 995.31 466.2 1000.76 466.6 1006.49 467 1012.54 467.4 1018.74 467.8 1024.98 468.2 1031.19 468.6 1037.29 469 1043.2 469.4 1048.95 469.8 1054.6 470.2 1059.35 470.6 1062.44 471 1063.98 471.4 1064.04 471.8 1062.53 472.2 1059.38 472.6 1054.6 473 1048.92 473.4 1043.01 473.8 1036.77 474.2 1030.13 474.6 1023.26 475 1016.36 475.4 1009.6 475.8 1003.15 476.2 997.07 476.6 991.33 477 986.07 477.4 981.92 477.8 978.82 478.2 976.6 478.6 974.94 479 973.84 479.4 973.56 479.8 974.21 480.2 975.14 480.6 976.11 481 977 481.4 977.78 481.8 978.5 482.2 979.13 482.6 979.54 483 979.06 483.4 977.43 483.8 974.5 484.2 970.71 484.6 966.68 485 962.51 485.4 958.24 485.8 953.73 486.2 949.21 486.6 945 487 941.79 487.4 939.78 487.8 938.5 488.2 937.54 488.6 937.03 489 937.45 489.4 938.45 489.8 939.71 490.2 941.19 490.6 942.95 491 944.86 491.4 946.77 491.8 948.5 492.2 949.9 492.6 950.79 493 951 493.4 950.33 493.8 948.51 494.2 945.87 494.6 942.88 495 939.62 495.4 935.98 495.8 931.7 496.2 926.53 496.6 920.85 497 914.82 497.4 906.52 497.8 893.93 498.2 879.44 498.6 866.47 499 855.66 499.4 841.25 499.8 821.17 500.2 801.05 500.6 782.86 501 767.37 501.4 752.63 501.8 739.07 502.2 728.06 502.6 720.29 503 714.77 503.4 710.64 503.8 707.57 504.2 707.43 504.6 710.2 505 713.91 505.4 718.75 505.8 725.06 506.2 732.09 506.6 739.33 507 747.37 507.4 756.25 507.8 771.51 508.2 801.25 508.6 830.17 509 849.65 509.4 863.48 509.8 875.46 510.2 887.26 510.6 898.52 511 908.75 511.4 918.35 511.8 927.19 512.2 935 512.6 942.06 513 948.84 513.4 955.37 513.8 961.66 514.2 967.75 514.6 973.64 515 979.24 515.4 984.38 515.8 988.72 516.2 992.56 516.6 996.16 517 998.87 517.4 999.79 517.8 998.52 518.2 995.9 518.6 992.87 519 989.5 519.4 985.49 519.8 980.51 520.2 973.22 520.6 963.75 521 953.34 521.4 941.63 521.8 928.06 522.2 914.17 522.6 900.28 523 886.39 523.4 872.5 523.8 859.43 524.2 847.3 524.6 835.32 525 824.07 525.4 812.5 525.8 797.32 526.2 784.6 526.6 775 527 768.32 527.4 763.32 527.8 760.02 528.2 761.71 528.6 765.44 529 769.59 529.4 775 529.8 785.91 530.2 802.45 530.6 823.57 531 847.5 531.4 872.5 531.8 897.5 532.2 927.42 532.6 954.37 533 976.77 533.4 997.5 533.8 1025.83 534.2 1056.26 534.6 1083.48 535 1108.34 535.4 1128.8 535.8 1144.05 536.2 1154.98 536.6 1162.5 537 1168.49 537.4 1174.05 537.8 1178.91 538.2 1182.8 538.6 1186.1 539 1189.15 539.4 1191.61 539.8 1193.21 540.2 1194.37 540.6 1195.14 541 1195.49 541.4 1195.43 541.8 1194.99 542.2 1194.26 542.6 1193.32 543 1192.19 543.4 1190.56 543.8 1188.42 544.2 1185.98 544.6 1183.43 545 1180.9 545.4 1177.3 545.8 1170.66 546.2 1158.95 546.6 1140.49 547 1118.67 547.4 1096.49 547.8 1074.32 548.2 1052.31 548.6 1030.36 549 1008.45 549.4 986.27 549.8 966.25 550.2 950.63 550.6 935 551 919.38 551.4 903.75 551.8 888.43 552.2 875.21 552.6 865.42 553 856.9 553.4 848.52 553.8 840.96 554.2 838.6 554.6 841.62 555 845.49 555.4 849.34 555.8 853.41 556.2 858.17 556.6 863.65 557 869.51 557.4 875.53 557.8 881.77 558.2 888.14 558.6 894.51 559 900.74 559.4 906.52 559.8 911.21 560.2 915.64 560.6 920.82 561 927.33 561.4 935 561.8 943.97 562.2 954.15 562.6 964.9 563 976.53 563.4 990.09 563.8 1006.63 564.2 1030.54 564.6 1054.33 565 1070.55 565.4 1084.07 565.8 1096.33 566.2 1107.42 566.6 1117.4 567 1126.38 567.4 1135.15 567.8 1143.77 568.2 1151.96 568.6 1159.42 569 1165.84 569.4 1170.97 569.8 1175.46 570.2 1179.62 570.6 1183.45 571 1186.95 571.4 1190.11 571.8 1192.94 572.2 1195.54 572.6 1197.8 572.8 1198.7L572.8 1200.3L79 1200.3Z" fill="#F5DEB3" stroke="#000" stroke-width="1.1" stroke-linejoin="round"/>
<path d="M373.49 1220.24V685.81" clip-path="url(#cp3)" fill="none" stroke="#CD2626" stroke-width="1.5" stroke-linecap="round" stroke-dasharray="6 6"/>
<rect x="59.76" y="687.81" width="532.43" height="532.43" fill="none" stroke="#000" stroke-width="0.75"/>
<path d="M95.5 1220.24H561.4M95.5 1220.24v5.98M173.15 1220.24v5.98M250.8 1220.24v5.98M328.45 1220.24v5.98M406.1 1220.24v5.98M483.75 1220.24v5.98M561.4 1220.24v5.98" fill="none" stroke="#000" stroke-width="0.75"/>
<text x="95.2" y="1241.9" text-anchor="middle" font-family="Liberation Sans, sans-serif" font-size="10">70</text>
<text x="172.85" y="1241.9" text-anchor="middle" font-family="Liberation Sans, sans-serif" font-size="10">75</text>
<text x="250.5" y="1241.9" text-anchor="middle" font-family="Liberation Sans, sans-serif" font-size="10">80</text>
<text x="328.15" y="1241.9" text-anchor="middle" font-family="Liberation Sans, sans-serif" font-size="10">85</text>
<text x="405.8" y="1241.9" text-anchor="middle" font-family="Liberation Sans, sans-serif" font-size="10">90</text>
<text x="483.45" y="1241.9" text-anchor="middle" font-family="Liberation Sans, sans-serif" font-size="10">95</text>
<text x="561.1" y="1241.9" text-anchor="middle" font-family="Liberation Sans, sans-serif" font-size="10">100</text>
<path d="M59.76 1200.4V782.4M59.76 1200.4h-5.98M59.76 1095.9h-5.98M59.76 991.4h-5.98M59.76 886.9h-5.98M59.76 782.4h-5.98" fill="none" stroke="#000" stroke-width="0.75"/>
<text transform="translate(44.9 1200.8) rotate(-90)" text-anchor="middle" font-family="Liberation Sans, sans-serif" font-size="10">0.00</text>
<text transform="translate(44.9 1096.3) rotate(-90)" text-anchor="middle" font-family="Liberation Sans, sans-serif" font-size="10">0.05</text>
<text transform="translate(44.9 991.8) rotate(-90)" text-anchor="middle" font-family="Liberation Sans, sans-serif" font-size="10">0.10</text>
<text transform="translate(44.9 887.3) rotate(-90)" text-anchor="middle" font-family="Liberation Sans, sans-serif" font-size="10">0.15</text>
<text transform="translate(44.9 782.8) rotate(-90)" text-anchor="middle" font-family="Liberation Sans, sans-serif" font-size="10">0.20</text>
<text x="325.98" y="671.9" text-anchor="middle" font-family="Liberation Sans, sans-serif" font-size="21.5" font-weight="bold">Motif score threshold: 87.900</text>
<text x="325.98" y="1265.7" text-anchor="middle" font-family="Liberation Sans, sans-serif" font-size="16">Motif score</text>
<text transform="translate(22.2 954.02) rotate(-90)" text-anchor="middle" font-family="Liberation Sans, sans-serif" font-size="16">Density</text>
<path d="M719 1200 719.6 1199.3 724 1199.29 730 1199.32 736 1199.34 742 1199.3 748 1199.53 754 1199.18 760 1199.02 766 1199.2 772 1199.04 778 1199.27 784 1199.53 790 1199.23 796 1199.26 802 1199.17 808 1198.85 814 1199.14 820 1199.23 826 1199.13 832 1199.36 838 1199.08 844 1198.78 850 1198.93 856 1198.75 862 1198.84 868 1199.11 874 1198.8 880 1198.74 886 1198.7 886.3 1198.7 886.6 1198.7 886.9 1198.7 887.2 1198.7 887.5 1198.7 887.8 1198.7 888.1 1198.7 888.4 1198.7 888.7 1198.7 889 1198.7 889.3 1198.7 889.6 1198.7 889.9 1198.7 890.2 1198.69 890.5 1198.62 890.8 1198.5 891.1 1198.35 891.4 1198.19 891.7 1198.01 892 1197.85 892.3 1197.7 892.6 1197.58 892.9 1197.51 893.2 1197.5 893.5 1197.54 893.8 1197.6 894.1 1197.69 894.4 1197.8 894.7 1197.91 895 1198.02 895.3 1198.13 895.6 1198.21 895.9 1198.27 896.2 1198.3 896.5 1198.29 896.8 1198.27 897.1 1198.23 897.4 1198.17 897.7 1198.11 898 1198.03 898.3 1197.95 898.6 1197.87 898.9 1197.78 899.2 1197.69 899.5 1197.61 899.8 1197.52 900.1 1197.45 900.4 1197.38 900.7 1197.33 901 1197.29 901.3 1197.25 901.6 1197.22 901.9 1197.18 902.2 1197.15 902.5 1197.12 902.8 1197.09 903.1 1197.07 903.4 1197.04 903.7 1197.01 904 1196.99 904.3 1196.97 904.6 1196.94 904.9 1196.92 905.2 1196.9 905.5 1196.88 905.8 1196.86 906.1 1196.84 906.4 1196.83 906.7 1196.81 907 1196.8 907.3 1196.78 907.6 1196.77 907.9 1196.76 908.2 1196.74 908.5 1196.73 908.8 1196.71 909.1 1196.69 909.4 1196.67 909.7 1196.65 910 1196.63 910.3 1196.6 910.6 1196.57 910.9 1196.53 911.2 1196.48 911.5 1196.42 911.8 1196.36 912.1 1196.3 912.4 1196.23 912.7 1196.15 913 1196.07 913.3 1195.99 913.6 1195.91 913.9 1195.82 914.2 1195.73 914.5 1195.64 914.8 1195.56 915.1 1195.47 915.4 1195.38 915.7 1195.29 916 1195.19 916.3 1195.09 916.6 1194.99 916.9 1194.88 917.2 1194.77 917.5 1194.66 917.8 1194.55 918.1 1194.43 918.4 1194.31 918.7 1194.18 919 1194.06 919.3 1193.93 919.6 1193.79 919.9 1193.65 920.2 1193.48 920.5 1193.29 920.8 1193.08 921.1 1192.86 921.4 1192.64 921.7 1192.42 922 1192.22 922.3 1192.03 922.6 1191.87 922.9 1191.74 923.2 1191.65 923.5 1191.6 923.8 1191.6 924.1 1191.6 924.4 1191.6 924.7 1191.6 925 1191.6 925.3 1191.6 925.6 1191.6 925.9 1191.6 926.2 1191.6 926.5 1191.6 926.8 1191.59 927.1 1191.45 927.4 1191.17 927.7 1190.79 928 1190.35 928.3 1189.9 928.6 1189.47 928.9 1189.09 929.2 1188.82 929.5 1188.58 929.8 1188.37 930.1 1188.18 930.4 1187.99 930.7 1187.82 931 1187.65 931.3 1187.47 931.6 1187.29 931.9 1187.1 932.2 1186.9 932.5 1186.68 932.8 1186.44 933.1 1186.18 933.4 1185.92 933.7 1185.64 934 1185.35 934.3 1185.05 934.6 1184.74 934.9 1184.41 935.2 1184.08 935.5 1183.73 935.8 1183.37 936.1 1183 936.4 1182.61 936.7 1182.2 937 1181.78 937.3 1181.32 937.6 1180.85 937.9 1180.36 938.2 1179.84 938.5 1179.31 938.8 1178.75 939.1 1178.16 939.4 1177.54 939.7 1176.87 940 1176.17 940.3 1175.42 940.6 1174.64 940.9 1173.82 941.2 1172.9 941.5 1171.91 941.8 1170.85 942.1 1169.77 942.4 1168.67 942.7 1167.6 943 1166.58 943.3 1165.62 943.6 1164.71 943.9 1163.84 944.2 1162.99 944.5 1162.14 944.8 1161.27 945.1 1160.38 945.4 1159.43 945.7 1158.42 946 1157.33 946.3 1156.14 946.6 1154.86 946.9 1153.51 947.2 1152.09 947.5 1150.62 947.8 1149.1 948.1 1147.49 948.4 1145.77 948.7 1143.97 949 1142.14 949.3 1140.3 949.6 1138.49 949.9 1136.67 950.2 1134.83 950.5 1132.98 950.8 1131.12 951.1 1129.25 951.4 1127.38 951.7 1125.59 952 1123.82 952.3 1122 952.6 1120.02 952.9 1117.8 953.2 1115.22 953.5 1112.22 953.8 1108.81 954.1 1104.81 954.4 1100.34 954.7 1095.59 955 1090.77 955.3 1086.04 955.6 1081.42 955.9 1076.77 956.2 1072.02 956.5 1067.07 956.8 1061.81 957.1 1056.18 957.4 1050.25 957.7 1043.96 958 1037.16 958.3 1029.75 958.6 1021.57 958.9 1012.35 959.2 1001.99 959.5 990.5 959.8 978.07 960.1 965.59 960.4 948.06 960.7 903.9 961 846.78 961.3 817.95 961.6 795.99 961.9 777.37 962.2 759.6 962.5 744.07 962.8 730.9 963.1 720 963.4 710 963.5 706.9 965.6 734.4 968.4 715.3 968.5 715.94 968.8 723.92 969.1 737.07 969.4 762.43 969.7 786.81 970 808.78 970.3 833 970.6 865.38 970.9 915.53 971.2 946.81 971.5 962.28 971.8 974.03 972.1 986.71 972.4 1000.58 972.7 1013.69 973 1024.4 973.3 1032.71 973.6 1039.9 973.9 1046.31 974.2 1052.26 974.5 1058.1 974.8 1063.89 975.1 1069.45 975.4 1074.78 975.7 1079.83 976 1084.6 976.3 1089.06 976.6 1093.3 976.9 1097.35 977.2 1101.19 977.5 1104.8 977.8 1108.19 978.1 1111.32 978.4 1114.14 978.7 1116.77 979 1119.34 979.3 1121.95 979.6 1124.56 979.9 1127.13 980.2 1129.6 980.5 1131.9 980.8 1134.04 981.1 1136.08 981.4 1138.03 981.7 1139.92 982 1141.77 982.3 1143.6 982.6 1145.44 982.9 1147.28 983.2 1149.09 983.5 1150.84 983.8 1152.49 984.1 1154.02 984.4 1155.42 984.7 1156.75 985 1158.01 985.3 1159.22 985.6 1160.37 985.9 1161.47 986.2 1162.54 986.5 1163.56 986.8 1164.56 987.1 1165.5 987.4 1166.41 987.7 1167.29 988 1168.14 988.3 1168.97 988.6 1169.79 988.9 1170.61 989.2 1171.43 989.5 1172.25 989.8 1173.09 990.1 1173.94 990.4 1174.78 990.7 1175.6 991 1176.4 991.3 1177.16 991.6 1177.88 991.9 1178.54 992.2 1179.15 992.5 1179.74 992.8 1180.32 993.1 1180.86 993.4 1181.39 993.7 1181.88 994 1182.34 994.3 1182.77 994.6 1183.16 994.9 1183.51 995.2 1183.83 995.5 1184.13 995.8 1184.4 996.1 1184.66 996.4 1184.9 996.7 1185.13 997 1185.36 997.3 1185.58 997.6 1185.8 997.9 1186.02 998.2 1186.25 998.5 1186.48 998.8 1186.73 999.1 1187 999.4 1187.28 999.7 1187.58 1000 1187.89 1000.3 1188.2 1000.6 1188.51 1000.9 1188.83 1001.2 1189.14 1001.5 1189.44 1001.8 1189.73 1002.1 1190.01 1002.4 1190.28 1002.7 1190.54 1003 1190.81 1003.3 1191.06 1003.6 1191.31 1003.9 1191.55 1004.2 1191.77 1004.5 1191.97 1004.8 1192.15 1005.1 1192.3 1005.4 1192.44 1005.7 1192.57 1006 1192.7 1006.3 1192.82 1006.6 1192.93 1006.9 1193.04 1007.2 1193.14 1007.5 1193.24 1007.8 1193.34 1008.1 1193.43 1008.4 1193.52 1008.7 1193.61 1009 1193.7 1009.3 1193.79 1009.6 1193.88 1009.9 1193.97 1010.2 1194.06 1010.5 1194.15 1010.8 1194.25 1011.1 1194.34 1011.4 1194.43 1011.7 1194.52 1012 1194.6 1012.3 1194.69 1012.6 1194.77 1012.9 1194.85 1013.2 1194.93 1013.5 1195.01 1013.8 1195.09 1014.1 1195.16 1014.4 1195.23 1014.7 1195.3 1015 1195.37 1015.3 1195.43 1015.6 1195.49 1015.9 1195.55 1016.2 1195.61 1016.5 1195.67 1016.8 1195.73 1017.1 1195.78 1017.4 1195.84 1017.7 1195.89 1018 1195.94 1018.3 1196 1018.6 1196.05 1018.9 1196.1 1019.2 1196.14 1019.5 1196.19 1019.8 1196.24 1020.1 1196.28 1020.4 1196.33 1020.7 1196.37 1021 1196.42 1021.3 1196.46 1021.6 1196.5 1021.9 1196.53 1022.2 1196.57 1022.5 1196.61 1022.8 1196.65 1023.1 1196.68 1023.4 1196.72 1023.7 1196.76 1024 1196.79 1024.3 1196.83 1024.6 1196.87 1024.9 1196.91 1025.2 1196.95 1025.5 1196.99 1025.8 1197.03 1026.1 1197.07 1026.4 1197.12 1026.7 1197.17 1027 1197.21 1027.3 1197.26 1027.6 1197.31 1027.9 1197.36 1028.2 1197.41 1028.5 1197.46 1028.8 1197.5 1029.1 1197.55 1029.4 1197.59 1029.7 1197.63 1030 1197.67 1030.3 1197.7 1030.6 1197.73 1030.9 1197.77 1031.2 1197.8 1031.5 1197.84 1031.8 1197.87 1032.1 1197.91 1032.4 1197.94 1032.7 1197.97 1033 1198 1033.3 1198.02 1033.6 1198.05 1033.9 1198.07 1034.2 1198.08 1034.5 1198.09 1034.8 1198.1 1035.1 1198.1 1035.4 1198.06 1035.7 1198 1036 1197.9 1036.3 1197.8 1036.6 1197.68 1036.9 1197.57 1037.2 1197.46 1037.5 1197.38 1037.8 1197.32 1038.1 1197.3 1038.4 1197.34 1038.7 1197.43 1039 1197.55 1039.3 1197.68 1039.6 1197.8 1039.9 1197.88 1040.2 1197.92 1040.5 1197.96 1040.8 1197.99 1041.1 1198.02 1041.4 1198.05 1041.7 1198.08 1042 1198.1 1042.3 1198.13 1042.6 1198.15 1042.9 1198.18 1043.2 1198.2 1043.5 1198.22 1043.8 1198.24 1044.1 1198.26 1044.4 1198.28 1044.7 1198.29 1045 1198.31 1051 1198.28 1057 1198.75 1063 1198.82 1069 1199.07 1075 1198.85 1081 1198.73 1087 1199.28 1093 1199.1 1099 1199.05 1105 1199.02 1111 1199.06 1117 1199.49 1123 1199.08 1129 1199.01 1135 1199.3 1141 1199.25 1147 1199.4 1153 1199.01 1159 1199.11 1165 1199.52 1171 1199.19 1177 1199.2 1183 1199.1 1189 1199.28 1195 1199.55 1201 1199.04 1207 1199.29 1211.4 1199.3 1212 1200L1212 1200.4L719 1200.4Z" fill="#F5DEB3" stroke="#000" stroke-width="1.1" stroke-linejoin="round"/>
<path d="M904.91 1220.24V685.81M1025.69 1220.24V685.81" clip-path="url(#cp4)" fill="none" stroke="#006400" stroke-width="1.5" stroke-linecap="round" stroke-dasharray="6 6"/>
<rect x="699.76" y="687.81" width="532.43" height="532.43" fill="none" stroke="#000" stroke-width="0.75"/>
<path d="M767.3 1220.24H1163.3M767.3 1220.24v5.98M866.3 1220.24v5.98M965.3 1220.24v5.98M1064.3 1220.24v5.98M1163.3 1220.24v5.98" fill="none" stroke="#000" stroke-width="0.75"/>
<text x="767" y="1241.9" text-anchor="middle" font-family="Liberation Sans, sans-serif" font-size="10">-400</text>
<text x="866" y="1241.9" text-anchor="middle" font-family="Liberation Sans, sans-serif" font-size="10">-200</text>
<text x="965" y="1241.9" text-anchor="middle" font-family="Liberation Sans, sans-serif" font-size="10">0</text>
<text x="1064" y="1241.9" text-anchor="middle" font-family="Liberation Sans, sans-serif" font-size="10">200</text>
<text x="1163" y="1241.9" text-anchor="middle" font-family="Liberation Sans, sans-serif" font-size="10">400</text>
<path d="M699.76 1200.4V738.4M699.76 1200.4h-5.98M699.76 1108h-5.98M699.76 1015.6h-5.98M699.76 923.2h-5.98M699.76 830.8h-5.98M699.76 738.4h-5.98" fill="none" stroke="#000" stroke-width="0.75"/>
<text transform="translate(684.9 1200.8) rotate(-90)" text-anchor="middle" font-family="Liberation Sans, sans-serif" font-size="10">0.000</text>
<text transform="translate(684.9 1108.4) rotate(-90)" text-anchor="middle" font-family="Liberation Sans, sans-serif" font-size="10">0.005</text>
<text transform="translate(684.9 1016) rotate(-90)" text-anchor="middle" font-family="Liberation Sans, sans-serif" font-size="10">0.010</text>
<text transform="translate(684.9 923.6) rotate(-90)" text-anchor="middle" font-family="Liberation Sans, sans-serif" font-size="10">0.015</text>
<text transform="translate(684.9 831.2) rotate(-90)" text-anchor="middle" font-family="Liberation Sans, sans-serif" font-size="10">0.020</text>
<text transform="translate(684.9 738.8) rotate(-90)" text-anchor="middle" font-family="Liberation Sans, sans-serif" font-size="10">0.025</text>
<text x="965.98" y="671.9" text-anchor="middle" font-family="Liberation Sans, sans-serif" font-size="21.5" font-weight="bold">Enrichment zone: 122.00</text>
<text x="965.98" y="1265.7" text-anchor="middle" font-family="Liberation Sans, sans-serif" font-size="16">Distance to peak summit</text>
<text transform="translate(662.2 954.02) rotate(-90)" text-anchor="middle" font-family="Liberation Sans, sans-serif" font-size="16">Density</text>
<path d="M1016.9 703.1H1041.3" stroke="#006400" stroke-width="1.05" stroke-dasharray="2 2.5" fill="none"/>
<path d="M1016.9 718.9H1041.3" stroke="#ff0000" stroke-width="1.0" stroke-dasharray="2 2.5" fill="none" opacity="0.78"/>
<circle cx="1028.7" cy="734.6" r="3.1" fill="#0000ff"/>
<text x="1052.0" y="707.8" font-family="Liberation Sans, sans-serif" font-size="12.9">enrichment zone = 122</text>
<text x="1052.0" y="723.35" font-family="Liberation Sans, sans-serif" font-size="12.9">motif score threshold = 87.900</text>
<text x="1052.0" y="738.9" font-family="Liberation Sans, sans-serif" font-size="12.9">centrality p-val = -107.2732</text>
</svg>
</body></html>
